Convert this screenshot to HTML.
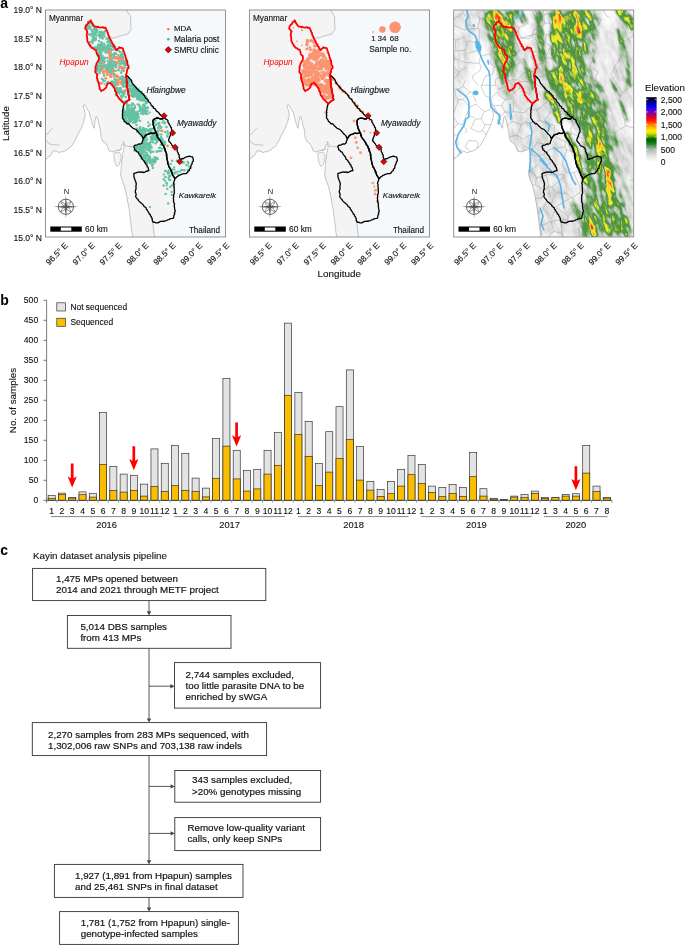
<!DOCTYPE html>
<html><head><meta charset="utf-8"><style>
html,body{margin:0;padding:0;background:#fff;width:685px;height:945px;overflow:hidden}
svg{display:block;font-family:"Liberation Sans",sans-serif;will-change:transform}
</style></head><body>
<svg width="685" height="945" viewBox="0 0 685 945">
<rect width="685" height="945" fill="#fff"/>
<text x="0.2" y="7.9" font-size="14" font-weight="bold" font-family="Liberation Sans, sans-serif">a</text>
<defs><clipPath id="mclip"><rect x="45.5" y="10" width="180" height="227"/></clipPath></defs>
<g id="m1" clip-path="url(#mclip)">
<g id="mbase"><rect x="45.5" y="10" width="180.5" height="227.5" fill="#f4f4f4"/>
<polygon points="126.8,10 226,10 226,237.5 154.3,237.5 153.7,230 152.9,222.1 156,222.9 159.2,222.1 164,221.3 168.7,219.7 173.5,218.1 175.1,211.7 174.3,205.4 173.5,197.5 174.3,191.1 173.5,183.2 175.1,178.4 176.7,176.8 179.8,175.2 183,173.7 186.2,173.7 189.4,170.5 191,165.7 193.3,161 192.5,157 189.4,156.2 184.6,157.8 179.8,159.4 178.3,153 176.7,148.3 171.9,145.1 168.7,140.3 170.3,135.6 171.9,130.8 170.3,126 167.1,119.7 164,117 160.8,114.9 156,110.2 151.3,105.4 148.1,100.6 143.3,94.3 137.8,89.5 132.2,83.2 130.8,79.6 127.1,75.8 126,75.3 127.1,71.1 128.7,66.9 127.1,61.6 125.5,57.3 123.9,51.5 122.9,48.3 119.2,47.3 116.5,50.4 114.9,47.8 111.7,41.5 108.6,35.6 110,38 114,38 120,36 128,34 131,29 130.5,16 127.5,11.5" fill="#f6f9fc"/>
<polygon points="45.5,159.5 51.2,154.6 53.3,150.5 58.9,152.6 65.8,150.5 71.4,146.3 74.1,142.2 76.9,136.6 79.7,131.1 81.8,126.9 83.8,121.4 85.2,115.8 84.5,110.3 83.1,105.4 84.5,104.6 86.6,107.5 89.4,113 90.8,118.6 92.8,125.5 94.2,128.3 94.9,122.7 95.6,117.2 97,116.5 98.4,122.7 100.5,131.1 101.2,138 103.3,142.2 106,143.5 108.1,147.7 109.5,151.2 113,151.9 117.1,150.5 120.6,149.1 122,144.9 123.4,143.5 124.1,147.7 122.7,153.3 122,158.8 121.3,168.5 120.5,175 122,180 124.5,186 126.5,195 128,203 129,208.6 130.8,222.6 132.6,237.5 45,237.5 45,159.5" fill="#ffffff"/>
<polygon points="113.7,153.3 116,152.5 119.5,152.2 121.3,156 120.5,161 119.2,164.3 117.1,166.8 115,163 114.2,158" fill="#f4f4f4" stroke="#8a8a8a" stroke-width="0.45"/>
<polyline points="45.5,159.5 46.39,158.95 47.31,158.37 48.09,157.65 48.47,156.68 49.84,156.09 50.63,155.07 51.2,154.6 51.71,153.42 52.28,152.59 52.48,151.36 53.3,150.5 54.29,151.17 55.7,151.14 56.84,151.54 57.85,151.96 58.9,152.6 59.59,152.52 60.7,151.83 62.15,151.92 62.72,151.68 63.85,151.21 64.64,151.06 65.8,150.5 66.71,150.18 67.64,149.18 68.12,148.5 68.79,147.84 69.68,147.56 70.3,147.01 71.4,146.3 71.98,145.16 72.94,144.24 73.31,143.21 74.1,142.2 74.69,141 75.32,140.05 75.65,139.61 75.68,138.64 76.35,137.58 76.9,136.6 77.07,135.41 77.64,135.04 78.12,134 79.02,133.2 79.14,131.93 79.7,131.1 80.24,130.22 80.51,129.15 81.45,128.17 81.8,126.9 81.92,126.07 82.35,124.6 83.07,123.85 83.3,122.75 83.8,121.4 84.11,120.17 84.25,118.97 84.39,117.83 85.03,117.22 85.2,115.8 84.86,114.43 85.21,113.62 84.72,112.34 84.7,111.6 84.5,110.3 84.19,109.27 83.67,108.59 83.38,107.36 83.58,106.16 83.1,105.4 84.5,104.6 85.34,105.84 85.98,106.71 86.6,107.5 86.83,108.38 87.32,109.54 87.88,110.22 88.77,111.38 89.22,112.06 89.4,113 89.67,114.26 89.95,115.11 90.18,116.15 90.45,117.77 90.8,118.6 91.36,119.66 91.37,120.47 91.41,121.42 92.11,122.76 92.15,123.7 92.68,124.63 92.8,125.5 93.37,126.59 93.65,127.49 94.2,128.3 94.21,127.17 94.64,126.17 94.5,125.21 94.85,123.87 94.9,122.7 94.75,121.63 95.03,120.6 95.3,119.59 95.55,118.48 95.6,117.2 97,116.5 97.14,117.62 97.61,118.76 97.61,119.81 98.16,120.75 98.45,121.94 98.4,122.7 98.67,123.77 98.72,125 99.45,125.84 99.56,127.03 99.85,127.75 100.14,129.05 100.34,130 100.5,131.1 100.69,132.41 100.82,133.53 100.57,134.35 100.93,135.79 100.91,136.96 101.2,138 101.8,138.78 102.23,139.94 102.51,140.93 103.3,142.2 104.54,142.66 106,143.5 106.34,144.27 107.03,145.53 107.64,146.7 108.1,147.7 108.41,149.11 108.73,149.98 109.5,151.2 110.53,151.38 111.6,151.87 113,151.9 113.95,151.27 115.12,150.96 116.1,150.75 117.1,150.5 118.32,150.31 119.62,149.52 120.6,149.1 121.14,148.14 121.22,146.79 121.71,145.99 122,144.9 123.4,143.5 123.85,144.83 123.82,145.51 124.16,146.35 124.1,147.7 123.58,148.86 123.61,149.72 123.34,151.29 122.91,152.14 122.7,153.3 122.4,154.27 122.7,155.43 122.56,156.85 122.2,157.56 122,158.8 122.21,159.88 121.79,160.85 122.06,162.03 121.56,163.1 121.38,164.26 121.5,165.14 121.62,166.54 121.09,167.44 121.3,168.5 121.03,169.84 121.2,170.51 120.76,171.54 121.06,172.71 120.7,173.9 120.5,175 120.89,176.06 121.25,176.77 121.56,177.88 121.72,178.9 122,180 122.29,181.02 122.81,181.92 123.4,183.05 123.39,183.85 124.06,185.25 124.5,186 124.95,187.03 124.65,188.17 125.12,189.05 125.51,190.08 125.6,191.25 125.76,191.94 126.27,192.82 126.16,194.2 126.5,195 126.43,196.2 126.99,196.96 126.93,198.17 127.5,198.79 127.42,200.03 127.62,200.9 127.6,202.05 128,203 128.39,203.86 128.24,205.43 128.78,206.46 128.52,207.61 129,208.6 129.42,209.9 129.38,210.33 129.59,211.43 129.6,212.87 129.77,213.38 129.65,214.85 129.69,215.67 129.98,216.4 130.23,217.33 130.05,218.53 130.16,219.33 130.59,220.75 130.9,221.38 130.8,222.6 130.88,223.48 131.1,224.58 131.42,225.5 131.01,226.69 131.19,227.65 131.52,228.81 131.67,229.63 131.62,230.58 131.73,231.69 132.01,232.31 131.96,233.45 132.38,234.33 132.49,235.61 132.23,236.61 132.6,237.5" fill="none" stroke="#8a8a8a" stroke-width="0.5"/>
<polyline points="108.6,35.6 109.48,36.99 110,38 110.99,37.86 111.7,38.1 112.98,38.16 114,38 114.92,37.83 115.86,37.51 117.14,36.95 118.02,36.78 118.82,36.37 120,36 121.18,35.61 122.18,35.61 123.21,35.15 123.76,35.18 125.18,34.72 125.76,34.32 127.08,34.12 128,34 128.87,33.05 129.02,32.09 129.72,31.26 130.65,30.01 131,29 131.05,28.12 131.11,27.29 130.6,25.92 130.91,24.88 130.86,23.75 131,23.02 130.5,22.1 130.58,20.82 130.64,19.78 130.44,19.22 130.7,17.71 130.71,16.71 130.5,16 129.8,15.34 129.37,14.08 128.63,13.23 127.88,12.7 127.5,11.5 126.8,10" fill="none" stroke="#8a8a8a" stroke-width="0.5"/>
<polyline points="152.9,222.1 152.91,223.02 153.22,224.1 153.26,225.41 153.09,226.62 153.19,227.7 153.33,228.63 153.7,230 153.74,231.2 153.65,231.83 154.03,233.27 154.09,233.94 154.41,234.73 154.43,235.87 154.3,237" fill="none" stroke="#8a8a8a" stroke-width="0.5"/>
<polyline points="45.5,135.2 46.54,134.56 47.5,134 48.21,132.99 49.02,132.53 49.5,131.5 50.59,130.3 51.5,129.5 52.8,128.3" fill="none" stroke="#8a8a8a" stroke-width="0.45"/>
<polyline points="45.8,140 46.5,141.04 47.52,141.98 48,143 49,143.55 49.81,144.01 51,144.5 52.08,144.75 52.76,144.53 53.75,144.91 55,144.8 56.24,144.63 57.54,145.28 58.47,145.17 59.5,145.2" fill="none" stroke="#8a8a8a" stroke-width="0.45"/>
<polyline points="122.7,143 123.3,141.5 124,143 124.48,144.09 125.1,144.79 125.5,146 126.46,146.07 128,146.3 128.86,146.55 130.11,146.49 131,146.5 132.03,146.93 132.79,147.13 134,147.5" fill="none" stroke="#8a8a8a" stroke-width="0.45"/>
<polyline points="117,150.5 117.86,150.44 119.11,150.38 120,150 120.81,149.59 122,149.5" fill="none" stroke="#8a8a8a" stroke-width="0.45"/></g>
<g fill="#66c2a5"><circle cx="107.3" cy="57.9" r="1.19"/><circle cx="114.2" cy="86.2" r="1.16"/><circle cx="89.5" cy="22.7" r="1.09"/><circle cx="122.4" cy="56.5" r="1.31"/><circle cx="105.1" cy="80.6" r="1.05"/><circle cx="104.7" cy="61.7" r="1.20"/><circle cx="95.6" cy="39.6" r="1.32"/><circle cx="122.5" cy="66.8" r="1.07"/><circle cx="117.3" cy="79.8" r="1.22"/><circle cx="122.2" cy="76.3" r="1.23"/><circle cx="98.8" cy="69.4" r="1.06"/><circle cx="124.5" cy="91.0" r="1.16"/><circle cx="107.7" cy="69.5" r="1.26"/><circle cx="120.7" cy="54.9" r="1.19"/><circle cx="116.5" cy="76.7" r="1.27"/><circle cx="101.9" cy="57.0" r="1.10"/><circle cx="108.4" cy="53.2" r="1.12"/><circle cx="102.8" cy="34.5" r="1.08"/><circle cx="119.5" cy="65.4" r="1.20"/><circle cx="111.0" cy="58.7" r="1.33"/><circle cx="97.3" cy="66.1" r="1.23"/><circle cx="120.1" cy="88.9" r="1.28"/><circle cx="124.6" cy="82.2" r="1.17"/><circle cx="121.2" cy="63.7" r="1.27"/><circle cx="110.2" cy="55.9" r="1.08"/><circle cx="107.7" cy="60.8" r="1.14"/><circle cx="101.1" cy="49.2" r="1.25"/><circle cx="109.2" cy="72.4" r="1.27"/><circle cx="112.5" cy="58.6" r="1.18"/><circle cx="123.5" cy="87.0" r="1.08"/><circle cx="120.7" cy="88.6" r="1.13"/><circle cx="92.8" cy="43.1" r="1.11"/><circle cx="116.9" cy="58.3" r="1.13"/><circle cx="99.6" cy="59.9" r="1.29"/><circle cx="104.0" cy="36.0" r="1.11"/><circle cx="107.9" cy="37.8" r="1.32"/><circle cx="115.4" cy="65.8" r="1.31"/><circle cx="120.7" cy="63.5" r="1.07"/><circle cx="102.8" cy="68.4" r="1.16"/><circle cx="99.6" cy="73.0" r="1.20"/><circle cx="128.3" cy="93.5" r="1.06"/><circle cx="118.3" cy="55.1" r="1.18"/><circle cx="121.7" cy="100.7" r="1.32"/><circle cx="123.8" cy="101.7" r="1.08"/><circle cx="116.6" cy="62.8" r="1.23"/><circle cx="102.1" cy="49.3" r="1.09"/><circle cx="104.5" cy="36.5" r="1.22"/><circle cx="98.4" cy="62.1" r="1.32"/><circle cx="94.2" cy="47.7" r="1.11"/><circle cx="100.4" cy="38.1" r="1.05"/><circle cx="124.5" cy="77.7" r="1.08"/><circle cx="89.1" cy="34.5" r="1.21"/><circle cx="119.0" cy="70.5" r="1.06"/><circle cx="122.6" cy="51.1" r="1.08"/><circle cx="100.4" cy="44.6" r="1.20"/><circle cx="123.8" cy="70.8" r="1.33"/><circle cx="127.7" cy="94.5" r="1.18"/><circle cx="89.9" cy="23.6" r="1.17"/><circle cx="120.3" cy="89.6" r="1.24"/><circle cx="100.4" cy="71.7" r="1.08"/><circle cx="120.0" cy="51.9" r="1.22"/><circle cx="88.9" cy="42.6" r="1.10"/><circle cx="124.9" cy="67.5" r="1.23"/><circle cx="90.4" cy="34.3" r="1.34"/><circle cx="111.8" cy="57.9" r="1.07"/><circle cx="125.9" cy="101.4" r="1.22"/><circle cx="115.9" cy="75.6" r="1.23"/><circle cx="96.8" cy="65.6" r="1.09"/><circle cx="98.9" cy="40.9" r="1.13"/><circle cx="114.2" cy="74.1" r="1.35"/><circle cx="98.9" cy="47.7" r="1.35"/><circle cx="100.1" cy="65.8" r="1.09"/><circle cx="111.0" cy="70.1" r="1.26"/><circle cx="121.0" cy="96.1" r="1.34"/><circle cx="122.6" cy="82.7" r="1.12"/><circle cx="104.5" cy="33.5" r="1.23"/><circle cx="117.0" cy="76.1" r="1.06"/><circle cx="109.7" cy="65.6" r="1.16"/><circle cx="123.1" cy="58.2" r="1.25"/><circle cx="102.9" cy="48.6" r="1.23"/><circle cx="114.0" cy="55.1" r="1.28"/><circle cx="101.1" cy="31.9" r="1.08"/><circle cx="90.9" cy="42.0" r="1.15"/><circle cx="122.1" cy="53.6" r="1.31"/><circle cx="103.1" cy="71.5" r="1.23"/><circle cx="108.8" cy="62.2" r="1.19"/><circle cx="114.1" cy="56.9" r="1.17"/><circle cx="115.8" cy="81.4" r="1.35"/><circle cx="106.6" cy="39.1" r="1.22"/><circle cx="103.6" cy="67.2" r="1.06"/><circle cx="125.6" cy="97.0" r="1.29"/><circle cx="97.5" cy="74.3" r="1.15"/><circle cx="87.4" cy="26.3" r="1.18"/><circle cx="116.0" cy="91.3" r="1.11"/><circle cx="101.8" cy="78.9" r="1.18"/><circle cx="118.0" cy="70.0" r="1.15"/><circle cx="123.3" cy="95.3" r="1.08"/><circle cx="127.9" cy="68.1" r="1.24"/><circle cx="93.1" cy="41.2" r="1.08"/><circle cx="115.6" cy="80.3" r="1.29"/><circle cx="100.8" cy="63.4" r="1.06"/><circle cx="121.2" cy="72.8" r="1.28"/><circle cx="119.7" cy="90.7" r="1.29"/><circle cx="114.6" cy="78.9" r="1.20"/><circle cx="120.9" cy="56.5" r="1.26"/><circle cx="92.6" cy="47.5" r="1.12"/><circle cx="112.0" cy="54.4" r="1.27"/><circle cx="90.5" cy="45.0" r="1.18"/><circle cx="113.2" cy="70.9" r="1.12"/><circle cx="97.9" cy="65.6" r="1.34"/><circle cx="97.4" cy="69.3" r="1.17"/><circle cx="120.4" cy="87.9" r="1.16"/><circle cx="119.4" cy="68.0" r="1.31"/><circle cx="102.3" cy="44.0" r="1.16"/><circle cx="110.7" cy="46.3" r="1.25"/><circle cx="107.6" cy="50.1" r="1.10"/><circle cx="104.9" cy="57.9" r="1.30"/><circle cx="98.8" cy="53.7" r="1.13"/><circle cx="120.1" cy="77.4" r="1.07"/><circle cx="107.2" cy="74.4" r="1.34"/><circle cx="102.1" cy="37.3" r="1.10"/><circle cx="122.1" cy="63.0" r="1.33"/><circle cx="122.4" cy="54.5" r="1.35"/><circle cx="98.9" cy="34.5" r="1.23"/><circle cx="112.8" cy="64.7" r="1.05"/><circle cx="102.6" cy="55.9" r="1.07"/><circle cx="111.2" cy="81.6" r="1.11"/><circle cx="125.2" cy="82.9" r="1.17"/><circle cx="107.2" cy="82.6" r="1.23"/><circle cx="113.7" cy="74.5" r="1.34"/><circle cx="113.3" cy="54.3" r="1.16"/><circle cx="113.2" cy="73.3" r="1.09"/><circle cx="126.9" cy="85.7" r="1.22"/><circle cx="122.9" cy="84.5" r="1.09"/><circle cx="121.5" cy="70.9" r="1.08"/><circle cx="100.8" cy="42.4" r="1.22"/><circle cx="116.7" cy="93.4" r="1.26"/><circle cx="122.3" cy="60.8" r="1.07"/><circle cx="108.0" cy="82.6" r="1.19"/><circle cx="104.1" cy="50.0" r="1.26"/><circle cx="116.0" cy="53.9" r="1.28"/><circle cx="115.9" cy="70.9" r="1.16"/><circle cx="94.6" cy="37.7" r="1.32"/><circle cx="108.5" cy="51.1" r="1.10"/><circle cx="108.0" cy="81.9" r="1.26"/><circle cx="117.0" cy="88.4" r="1.28"/><circle cx="97.3" cy="71.3" r="1.31"/><circle cx="116.7" cy="90.8" r="1.20"/><circle cx="112.9" cy="46.8" r="1.08"/><circle cx="104.5" cy="84.0" r="1.06"/><circle cx="125.8" cy="81.2" r="1.21"/><circle cx="101.3" cy="83.1" r="1.10"/><circle cx="116.6" cy="88.4" r="1.24"/><circle cx="107.3" cy="51.9" r="1.08"/><circle cx="92.8" cy="39.7" r="1.28"/><circle cx="121.7" cy="59.0" r="1.12"/><circle cx="120.7" cy="92.0" r="1.05"/><circle cx="99.5" cy="52.3" r="1.10"/><circle cx="122.6" cy="96.0" r="1.19"/><circle cx="86.9" cy="25.4" r="1.22"/><circle cx="97.4" cy="30.1" r="1.17"/><circle cx="89.3" cy="22.6" r="1.10"/><circle cx="113.6" cy="82.5" r="1.19"/><circle cx="115.8" cy="91.0" r="1.33"/><circle cx="114.7" cy="52.9" r="1.21"/><circle cx="111.5" cy="49.5" r="1.33"/><circle cx="112.2" cy="67.1" r="1.06"/><circle cx="101.0" cy="54.8" r="1.35"/><circle cx="104.1" cy="75.7" r="1.32"/><circle cx="117.0" cy="82.4" r="1.21"/><circle cx="117.3" cy="83.2" r="1.21"/><circle cx="123.2" cy="91.5" r="1.21"/><circle cx="87.6" cy="27.9" r="1.32"/><circle cx="121.4" cy="59.5" r="1.07"/><circle cx="105.0" cy="31.0" r="1.24"/><circle cx="102.8" cy="79.5" r="1.21"/><circle cx="121.1" cy="91.8" r="1.14"/><circle cx="98.8" cy="55.8" r="1.27"/><circle cx="96.2" cy="66.9" r="1.27"/><circle cx="100.0" cy="48.6" r="1.08"/><circle cx="114.3" cy="57.8" r="1.26"/><circle cx="122.4" cy="78.9" r="1.19"/><circle cx="100.6" cy="68.4" r="1.20"/><circle cx="114.2" cy="46.5" r="1.24"/><circle cx="98.5" cy="49.8" r="1.07"/><circle cx="99.7" cy="82.9" r="1.23"/><circle cx="107.5" cy="64.3" r="1.16"/><circle cx="99.8" cy="47.7" r="1.31"/><circle cx="126.5" cy="101.4" r="1.12"/><circle cx="121.5" cy="97.7" r="1.30"/><circle cx="126.2" cy="87.3" r="1.27"/><circle cx="120.1" cy="79.1" r="1.24"/><circle cx="118.5" cy="50.5" r="1.31"/><circle cx="103.2" cy="59.1" r="1.06"/><circle cx="92.8" cy="32.7" r="1.23"/><circle cx="115.8" cy="67.3" r="1.23"/><circle cx="103.6" cy="81.2" r="1.25"/><circle cx="87.5" cy="28.6" r="1.17"/><circle cx="109.5" cy="42.5" r="1.07"/><circle cx="90.0" cy="42.2" r="1.11"/><circle cx="102.7" cy="38.4" r="1.23"/><circle cx="103.7" cy="33.8" r="1.10"/><circle cx="100.6" cy="33.5" r="1.07"/><circle cx="101.8" cy="36.9" r="1.16"/><circle cx="100.8" cy="33.4" r="1.19"/><circle cx="102.4" cy="34.8" r="1.21"/><circle cx="101.8" cy="36.0" r="1.06"/><circle cx="101.7" cy="32.8" r="1.28"/><circle cx="99.4" cy="35.4" r="1.15"/><circle cx="99.9" cy="33.2" r="1.28"/><circle cx="102.1" cy="37.3" r="1.05"/><circle cx="101.0" cy="36.1" r="1.34"/><circle cx="102.8" cy="32.3" r="1.23"/><circle cx="99.7" cy="32.0" r="1.34"/><circle cx="99.6" cy="36.4" r="1.35"/><circle cx="99.4" cy="36.1" r="1.30"/><circle cx="120.0" cy="91.5" r="1.08"/><circle cx="115.2" cy="90.9" r="1.15"/><circle cx="120.6" cy="91.9" r="1.12"/><circle cx="120.3" cy="91.6" r="1.28"/><circle cx="117.8" cy="92.0" r="1.11"/><circle cx="117.8" cy="92.3" r="1.12"/><circle cx="119.3" cy="94.0" r="1.08"/><circle cx="117.1" cy="89.1" r="1.09"/><circle cx="115.9" cy="89.3" r="1.33"/><circle cx="116.1" cy="94.8" r="1.34"/><circle cx="116.3" cy="88.5" r="1.16"/><circle cx="118.5" cy="91.5" r="1.27"/><circle cx="119.6" cy="91.9" r="1.19"/><circle cx="120.8" cy="90.2" r="1.21"/><circle cx="118.1" cy="90.3" r="1.16"/><circle cx="116.5" cy="88.2" r="1.24"/><circle cx="118.7" cy="88.3" r="1.12"/><circle cx="96.1" cy="32.3" r="1.13"/><circle cx="94.9" cy="27.5" r="1.21"/><circle cx="92.6" cy="31.0" r="1.11"/><circle cx="96.8" cy="32.2" r="1.18"/><circle cx="96.3" cy="29.0" r="1.33"/><circle cx="96.9" cy="30.9" r="1.06"/><circle cx="94.4" cy="28.6" r="1.08"/><circle cx="96.4" cy="30.6" r="1.29"/><circle cx="95.4" cy="29.4" r="1.07"/><circle cx="113.0" cy="65.7" r="1.13"/><circle cx="116.3" cy="66.5" r="1.31"/><circle cx="115.0" cy="62.3" r="1.23"/><circle cx="115.9" cy="65.7" r="1.12"/><circle cx="113.3" cy="63.4" r="1.07"/><circle cx="110.3" cy="60.7" r="1.13"/><circle cx="109.8" cy="64.6" r="1.14"/><circle cx="113.7" cy="61.7" r="1.29"/><circle cx="112.4" cy="67.3" r="1.34"/><circle cx="109.9" cy="62.7" r="1.29"/><circle cx="110.8" cy="67.4" r="1.32"/><circle cx="112.1" cy="67.2" r="1.33"/><circle cx="115.1" cy="62.0" r="1.31"/><circle cx="114.9" cy="64.4" r="1.33"/><circle cx="114.5" cy="64.4" r="1.34"/><circle cx="114.8" cy="65.5" r="1.08"/><circle cx="111.0" cy="65.9" r="1.15"/><circle cx="111.1" cy="60.6" r="1.12"/><circle cx="112.0" cy="61.3" r="1.23"/><circle cx="111.3" cy="61.0" r="1.20"/><circle cx="115.2" cy="66.1" r="1.15"/><circle cx="111.5" cy="67.0" r="1.30"/><circle cx="112.8" cy="61.6" r="1.17"/><circle cx="110.3" cy="64.9" r="1.11"/><circle cx="99.6" cy="46.5" r="1.13"/><circle cx="101.6" cy="46.2" r="1.19"/><circle cx="96.6" cy="47.3" r="1.23"/><circle cx="98.6" cy="49.0" r="1.22"/><circle cx="101.5" cy="45.5" r="1.18"/><circle cx="95.9" cy="47.0" r="1.11"/><circle cx="99.6" cy="46.0" r="1.17"/><circle cx="97.2" cy="47.5" r="1.15"/><circle cx="98.6" cy="48.8" r="1.10"/><circle cx="100.6" cy="48.5" r="1.21"/><circle cx="99.4" cy="45.8" r="1.11"/><circle cx="98.4" cy="44.9" r="1.26"/><circle cx="93.0" cy="33.5" r="1.25"/><circle cx="95.0" cy="34.9" r="1.09"/><circle cx="94.1" cy="35.6" r="1.24"/><circle cx="93.8" cy="34.6" r="1.15"/><circle cx="94.1" cy="38.9" r="1.18"/><circle cx="95.0" cy="40.3" r="1.23"/><circle cx="95.8" cy="38.1" r="1.28"/><circle cx="94.9" cy="38.4" r="1.32"/><circle cx="94.0" cy="34.2" r="1.27"/><circle cx="92.5" cy="33.9" r="1.11"/><circle cx="93.6" cy="37.3" r="1.21"/><circle cx="95.3" cy="39.5" r="1.15"/><circle cx="93.5" cy="33.5" r="1.06"/><circle cx="92.5" cy="36.9" r="1.22"/><circle cx="91.3" cy="35.0" r="1.19"/><circle cx="92.5" cy="40.2" r="1.31"/><circle cx="96.7" cy="35.4" r="1.15"/><circle cx="110.5" cy="69.2" r="1.30"/><circle cx="112.4" cy="69.1" r="1.20"/><circle cx="108.9" cy="65.0" r="1.08"/><circle cx="107.0" cy="66.3" r="1.27"/><circle cx="108.7" cy="69.1" r="1.14"/><circle cx="111.5" cy="69.0" r="1.21"/><circle cx="106.4" cy="67.7" r="1.07"/><circle cx="109.3" cy="70.0" r="1.05"/><circle cx="109.4" cy="66.2" r="1.33"/><circle cx="108.5" cy="67.9" r="1.06"/><circle cx="111.8" cy="65.7" r="1.09"/><circle cx="109.9" cy="65.0" r="1.10"/><circle cx="109.4" cy="68.9" r="1.08"/><circle cx="108.6" cy="71.4" r="1.30"/><circle cx="108.2" cy="68.7" r="1.35"/><circle cx="106.3" cy="69.2" r="1.24"/><circle cx="107.7" cy="66.4" r="1.17"/><circle cx="105.5" cy="65.2" r="1.32"/><circle cx="106.3" cy="69.9" r="1.20"/><circle cx="105.7" cy="69.6" r="1.09"/><circle cx="108.0" cy="68.2" r="1.26"/><circle cx="106.9" cy="69.2" r="1.16"/><circle cx="104.2" cy="65.7" r="1.13"/><circle cx="104.7" cy="66.1" r="1.15"/><circle cx="102.9" cy="57.5" r="1.17"/><circle cx="103.7" cy="58.2" r="1.10"/><circle cx="103.1" cy="59.9" r="1.23"/><circle cx="102.7" cy="60.5" r="1.31"/><circle cx="103.8" cy="59.8" r="1.22"/><circle cx="100.9" cy="59.0" r="1.05"/><circle cx="101.4" cy="58.7" r="1.26"/><circle cx="103.7" cy="58.4" r="1.06"/><circle cx="101.5" cy="57.8" r="1.19"/><circle cx="98.5" cy="55.3" r="1.31"/><circle cx="99.6" cy="56.6" r="1.25"/><circle cx="103.4" cy="58.1" r="1.32"/><circle cx="99.1" cy="56.7" r="1.28"/><circle cx="102.3" cy="57.4" r="1.13"/><circle cx="100.5" cy="58.0" r="1.09"/><circle cx="103.3" cy="58.9" r="1.19"/><circle cx="91.6" cy="29.7" r="1.25"/><circle cx="95.2" cy="33.7" r="1.12"/><circle cx="93.3" cy="32.5" r="1.15"/><circle cx="92.5" cy="31.7" r="1.27"/><circle cx="95.4" cy="33.0" r="1.15"/><circle cx="95.1" cy="32.7" r="1.23"/><circle cx="94.8" cy="30.0" r="1.21"/><circle cx="94.4" cy="28.8" r="1.33"/><circle cx="93.7" cy="32.1" r="1.06"/><circle cx="93.9" cy="28.6" r="1.11"/><circle cx="94.8" cy="29.3" r="1.28"/><circle cx="104.5" cy="45.1" r="1.25"/><circle cx="101.8" cy="42.6" r="1.08"/><circle cx="104.4" cy="47.0" r="1.09"/><circle cx="101.2" cy="45.7" r="1.11"/><circle cx="101.4" cy="48.9" r="1.21"/><circle cx="98.9" cy="45.5" r="1.32"/><circle cx="100.9" cy="48.5" r="1.11"/><circle cx="104.1" cy="43.5" r="1.11"/><circle cx="98.7" cy="45.0" r="1.26"/><circle cx="102.7" cy="46.6" r="1.18"/><circle cx="98.6" cy="44.8" r="1.30"/><circle cx="102.5" cy="46.9" r="1.35"/><circle cx="99.6" cy="45.9" r="1.33"/><circle cx="102.4" cy="47.0" r="1.26"/><circle cx="98.8" cy="47.4" r="1.20"/><circle cx="109.5" cy="42.3" r="1.07"/><circle cx="109.2" cy="45.4" r="1.29"/><circle cx="110.8" cy="43.1" r="1.17"/><circle cx="110.0" cy="44.2" r="1.19"/><circle cx="110.1" cy="42.3" r="1.24"/><circle cx="108.7" cy="40.4" r="1.34"/><circle cx="109.3" cy="45.7" r="1.22"/><circle cx="108.1" cy="45.3" r="1.33"/><circle cx="107.7" cy="42.2" r="1.34"/><circle cx="111.0" cy="41.5" r="1.08"/><circle cx="97.4" cy="52.9" r="1.16"/><circle cx="98.3" cy="56.6" r="1.32"/><circle cx="100.2" cy="53.5" r="1.28"/><circle cx="101.2" cy="52.4" r="1.34"/><circle cx="100.0" cy="53.8" r="1.11"/><circle cx="100.0" cy="52.6" r="1.21"/><circle cx="99.2" cy="54.7" r="1.33"/><circle cx="101.0" cy="51.6" r="1.21"/><circle cx="100.2" cy="53.8" r="1.25"/><circle cx="119.6" cy="58.1" r="1.34"/><circle cx="123.0" cy="58.1" r="1.10"/><circle cx="119.4" cy="57.6" r="1.07"/><circle cx="121.8" cy="61.6" r="1.31"/><circle cx="122.7" cy="57.2" r="1.22"/><circle cx="121.3" cy="57.9" r="1.11"/><circle cx="122.7" cy="59.6" r="1.30"/><circle cx="120.8" cy="57.9" r="1.14"/><circle cx="122.8" cy="57.2" r="1.09"/><circle cx="105.0" cy="49.3" r="1.14"/><circle cx="107.1" cy="47.7" r="1.06"/><circle cx="103.1" cy="49.3" r="1.17"/><circle cx="105.3" cy="47.7" r="1.28"/><circle cx="108.1" cy="47.6" r="1.19"/><circle cx="104.3" cy="50.4" r="1.34"/><circle cx="106.3" cy="48.4" r="1.06"/><circle cx="104.8" cy="47.1" r="1.10"/><circle cx="107.3" cy="46.9" r="1.09"/><circle cx="103.1" cy="47.5" r="1.22"/><circle cx="109.8" cy="50.4" r="1.11"/><circle cx="104.4" cy="49.6" r="1.25"/><circle cx="106.2" cy="51.0" r="1.21"/><circle cx="107.5" cy="47.7" r="1.22"/><circle cx="109.2" cy="48.5" r="1.30"/><circle cx="105.8" cy="52.5" r="1.29"/><circle cx="103.3" cy="47.4" r="1.33"/><circle cx="108.5" cy="51.7" r="1.10"/><circle cx="108.2" cy="49.5" r="1.16"/><circle cx="125.8" cy="64.2" r="1.34"/><circle cx="123.9" cy="61.4" r="1.17"/><circle cx="124.5" cy="63.8" r="1.14"/><circle cx="126.8" cy="61.0" r="1.19"/><circle cx="127.0" cy="62.6" r="1.10"/><circle cx="124.4" cy="64.8" r="1.30"/><circle cx="126.7" cy="64.5" r="1.24"/><circle cx="128.1" cy="65.5" r="1.08"/><circle cx="127.2" cy="61.9" r="1.34"/><circle cx="125.3" cy="62.3" r="1.21"/><circle cx="125.8" cy="60.3" r="1.13"/><circle cx="125.9" cy="65.1" r="1.23"/><circle cx="110.3" cy="63.4" r="1.33"/><circle cx="111.5" cy="61.2" r="1.15"/><circle cx="110.4" cy="61.2" r="1.05"/><circle cx="109.0" cy="63.7" r="1.11"/><circle cx="110.6" cy="64.7" r="1.07"/><circle cx="110.8" cy="62.0" r="1.21"/><circle cx="110.9" cy="63.1" r="1.14"/><circle cx="109.9" cy="62.8" r="1.31"/><circle cx="99.8" cy="53.3" r="1.11"/><circle cx="97.8" cy="54.1" r="1.05"/><circle cx="99.8" cy="47.9" r="1.19"/><circle cx="99.7" cy="49.5" r="1.09"/><circle cx="101.8" cy="50.7" r="1.14"/><circle cx="100.1" cy="53.7" r="1.12"/><circle cx="97.3" cy="48.5" r="1.10"/><circle cx="97.9" cy="49.3" r="1.24"/><circle cx="99.9" cy="48.5" r="1.33"/><circle cx="99.8" cy="54.3" r="1.16"/><circle cx="98.3" cy="50.3" r="1.24"/><circle cx="99.8" cy="51.4" r="1.15"/><circle cx="96.8" cy="48.5" r="1.32"/><circle cx="101.4" cy="49.7" r="1.22"/><circle cx="112.1" cy="57.2" r="1.06"/><circle cx="110.3" cy="57.6" r="1.27"/><circle cx="109.9" cy="58.2" r="1.11"/><circle cx="109.8" cy="54.7" r="1.06"/><circle cx="113.5" cy="54.5" r="1.06"/><circle cx="110.0" cy="56.3" r="1.30"/><circle cx="109.9" cy="56.0" r="1.26"/><circle cx="110.5" cy="54.1" r="1.16"/><circle cx="111.1" cy="55.1" r="1.22"/><circle cx="110.0" cy="55.6" r="1.26"/><circle cx="122.7" cy="62.7" r="1.07"/><circle cx="123.4" cy="60.8" r="1.26"/><circle cx="123.8" cy="62.5" r="1.26"/><circle cx="121.0" cy="59.5" r="1.33"/><circle cx="122.8" cy="61.7" r="1.07"/><circle cx="120.3" cy="63.2" r="1.22"/><circle cx="122.9" cy="63.1" r="1.20"/><circle cx="119.6" cy="60.2" r="1.30"/><circle cx="119.2" cy="61.7" r="1.16"/><circle cx="107.4" cy="67.0" r="1.25"/><circle cx="107.7" cy="67.3" r="1.32"/><circle cx="106.3" cy="70.7" r="1.15"/><circle cx="108.6" cy="70.0" r="1.20"/><circle cx="107.9" cy="67.2" r="1.32"/><circle cx="104.3" cy="67.8" r="1.06"/><circle cx="106.8" cy="68.5" r="1.34"/><circle cx="108.6" cy="70.3" r="1.14"/><circle cx="108.5" cy="68.8" r="1.19"/><circle cx="113.0" cy="85.3" r="1.14"/><circle cx="113.5" cy="83.6" r="1.29"/><circle cx="112.6" cy="81.5" r="1.21"/><circle cx="115.1" cy="86.0" r="1.27"/><circle cx="113.6" cy="82.3" r="1.08"/><circle cx="114.5" cy="86.2" r="1.31"/><circle cx="115.2" cy="83.7" r="1.30"/><circle cx="115.0" cy="86.8" r="1.25"/><circle cx="111.8" cy="82.1" r="1.12"/><circle cx="113.9" cy="82.9" r="1.13"/><circle cx="113.6" cy="82.9" r="1.19"/><circle cx="112.0" cy="84.1" r="1.07"/><circle cx="89.0" cy="26.8" r="1.34"/><circle cx="87.4" cy="26.1" r="1.17"/><circle cx="90.1" cy="27.8" r="1.34"/><circle cx="92.4" cy="23.7" r="1.10"/><circle cx="90.0" cy="26.6" r="1.24"/><circle cx="87.1" cy="26.5" r="1.29"/><circle cx="88.4" cy="22.6" r="1.24"/><circle cx="85.9" cy="25.2" r="1.18"/><circle cx="92.3" cy="24.3" r="1.06"/><circle cx="89.3" cy="28.1" r="1.18"/><circle cx="92.6" cy="25.8" r="1.17"/><circle cx="88.3" cy="21.9" r="1.33"/><circle cx="86.8" cy="26.4" r="1.34"/><circle cx="89.3" cy="28.4" r="1.34"/><circle cx="123.8" cy="79.9" r="1.34"/><circle cx="121.3" cy="78.0" r="1.10"/><circle cx="123.2" cy="77.6" r="1.06"/><circle cx="122.9" cy="77.1" r="1.14"/><circle cx="123.2" cy="80.2" r="1.05"/><circle cx="122.1" cy="80.8" r="1.09"/><circle cx="120.0" cy="79.0" r="1.22"/><circle cx="123.2" cy="81.7" r="1.11"/><circle cx="122.3" cy="80.2" r="1.23"/><circle cx="122.2" cy="81.3" r="1.16"/><circle cx="111.9" cy="46.5" r="1.13"/><circle cx="108.3" cy="46.8" r="1.34"/><circle cx="109.9" cy="45.6" r="1.11"/><circle cx="112.9" cy="46.1" r="1.31"/><circle cx="108.8" cy="45.5" r="1.21"/><circle cx="107.6" cy="45.3" r="1.25"/><circle cx="109.3" cy="45.2" r="1.09"/><circle cx="112.5" cy="46.2" r="1.27"/><circle cx="114.0" cy="45.9" r="1.32"/><circle cx="111.1" cy="50.5" r="1.11"/><circle cx="112.8" cy="44.6" r="1.19"/><circle cx="111.4" cy="45.6" r="1.25"/><circle cx="110.5" cy="49.3" r="1.19"/><circle cx="113.2" cy="45.9" r="1.28"/><circle cx="113.9" cy="46.5" r="1.24"/><circle cx="110.3" cy="43.3" r="1.14"/><circle cx="113.5" cy="49.4" r="1.25"/><circle cx="109.8" cy="45.9" r="1.28"/><circle cx="102.2" cy="60.0" r="1.19"/><circle cx="103.9" cy="60.8" r="1.23"/><circle cx="99.9" cy="61.4" r="1.24"/><circle cx="101.8" cy="59.2" r="1.19"/><circle cx="100.9" cy="63.9" r="1.08"/><circle cx="102.0" cy="62.4" r="1.17"/><circle cx="103.2" cy="62.6" r="1.28"/><circle cx="99.7" cy="60.2" r="1.27"/><circle cx="101.6" cy="59.2" r="1.07"/><circle cx="126.1" cy="83.0" r="1.19"/><circle cx="123.5" cy="85.9" r="1.23"/><circle cx="127.1" cy="84.3" r="1.21"/><circle cx="126.7" cy="85.0" r="1.09"/><circle cx="122.8" cy="83.3" r="1.24"/><circle cx="125.9" cy="85.6" r="1.26"/><circle cx="126.1" cy="86.2" r="1.21"/><circle cx="123.7" cy="85.4" r="1.33"/><circle cx="122.4" cy="84.2" r="1.22"/><circle cx="123.1" cy="82.6" r="1.05"/><circle cx="122.7" cy="86.0" r="1.14"/><circle cx="124.2" cy="93.7" r="1.26"/><circle cx="121.9" cy="93.5" r="1.07"/><circle cx="123.5" cy="93.5" r="1.34"/><circle cx="123.6" cy="92.6" r="1.26"/><circle cx="121.6" cy="91.3" r="1.28"/><circle cx="123.4" cy="95.4" r="1.10"/><circle cx="124.8" cy="92.1" r="1.05"/><circle cx="123.9" cy="93.0" r="1.31"/><circle cx="121.3" cy="92.2" r="1.20"/><circle cx="112.5" cy="67.6" r="1.18"/><circle cx="112.1" cy="68.6" r="1.21"/><circle cx="109.6" cy="67.6" r="1.28"/><circle cx="110.3" cy="70.1" r="1.16"/><circle cx="111.6" cy="73.3" r="1.28"/><circle cx="111.9" cy="71.6" r="1.10"/><circle cx="113.3" cy="70.2" r="1.34"/><circle cx="114.0" cy="70.4" r="1.26"/><circle cx="111.3" cy="68.4" r="1.15"/><circle cx="110.9" cy="71.5" r="1.19"/><circle cx="111.3" cy="73.0" r="1.31"/><circle cx="109.8" cy="69.8" r="1.15"/><circle cx="108.8" cy="71.2" r="1.26"/><circle cx="112.2" cy="69.3" r="1.32"/><circle cx="112.3" cy="68.2" r="1.34"/><circle cx="98.5" cy="69.4" r="1.13"/><circle cx="96.7" cy="67.4" r="1.29"/><circle cx="97.1" cy="66.8" r="1.23"/><circle cx="102.2" cy="68.3" r="1.29"/><circle cx="98.6" cy="67.3" r="1.07"/><circle cx="96.3" cy="70.1" r="1.17"/><circle cx="97.2" cy="65.4" r="1.19"/><circle cx="103.2" cy="66.1" r="1.29"/><circle cx="101.0" cy="67.6" r="1.19"/><circle cx="97.0" cy="65.6" r="1.06"/><circle cx="99.9" cy="71.0" r="1.11"/><circle cx="101.5" cy="65.5" r="1.30"/><circle cx="102.2" cy="66.5" r="1.31"/><circle cx="96.8" cy="64.9" r="1.22"/><circle cx="100.1" cy="63.2" r="1.07"/><circle cx="95.9" cy="67.2" r="1.28"/><circle cx="100.0" cy="63.3" r="1.31"/><circle cx="98.0" cy="65.7" r="1.14"/><circle cx="100.8" cy="69.1" r="1.19"/><circle cx="101.5" cy="67.9" r="1.14"/><circle cx="98.0" cy="68.4" r="1.07"/><circle cx="101.1" cy="70.0" r="1.27"/><circle cx="100.5" cy="65.9" r="1.10"/><circle cx="150.1" cy="130.7" r="1.08"/><circle cx="150.5" cy="129.0" r="1.32"/><circle cx="149.1" cy="133.5" r="1.08"/><circle cx="150.5" cy="131.4" r="1.28"/><circle cx="148.5" cy="131.2" r="1.29"/><circle cx="147.9" cy="131.3" r="1.13"/><circle cx="151.0" cy="129.5" r="1.16"/><circle cx="151.4" cy="132.9" r="1.12"/><circle cx="152.3" cy="129.0" r="1.26"/><circle cx="149.4" cy="130.2" r="1.34"/><circle cx="149.5" cy="131.7" r="1.27"/><circle cx="149.9" cy="131.4" r="1.20"/><circle cx="149.2" cy="129.7" r="1.21"/><circle cx="150.3" cy="130.1" r="1.17"/><circle cx="152.9" cy="132.8" r="1.26"/><circle cx="150.2" cy="129.4" r="1.13"/><circle cx="131.3" cy="119.5" r="1.12"/><circle cx="136.5" cy="116.8" r="1.26"/><circle cx="135.7" cy="122.2" r="1.13"/><circle cx="132.0" cy="115.3" r="1.35"/><circle cx="131.1" cy="116.7" r="1.27"/><circle cx="132.0" cy="113.4" r="1.11"/><circle cx="136.6" cy="114.0" r="1.06"/><circle cx="129.2" cy="119.0" r="1.23"/><circle cx="130.4" cy="119.5" r="1.09"/><circle cx="137.7" cy="114.6" r="1.20"/><circle cx="130.8" cy="121.1" r="1.23"/><circle cx="130.2" cy="114.8" r="1.29"/><circle cx="131.6" cy="115.1" r="1.17"/><circle cx="138.6" cy="117.3" r="1.21"/><circle cx="130.2" cy="121.3" r="1.29"/><circle cx="136.7" cy="117.2" r="1.09"/><circle cx="139.2" cy="120.3" r="1.15"/><circle cx="137.1" cy="115.7" r="1.29"/><circle cx="134.4" cy="122.7" r="1.16"/><circle cx="137.0" cy="117.1" r="1.33"/><circle cx="130.2" cy="119.5" r="1.08"/><circle cx="135.2" cy="121.6" r="1.08"/><circle cx="137.0" cy="121.1" r="1.16"/><circle cx="134.8" cy="119.6" r="1.19"/><circle cx="132.9" cy="119.4" r="1.16"/><circle cx="136.2" cy="119.5" r="1.12"/><circle cx="131.8" cy="119.6" r="1.18"/><circle cx="134.1" cy="114.4" r="1.32"/><circle cx="134.7" cy="120.4" r="1.33"/><circle cx="133.1" cy="122.6" r="1.24"/><circle cx="135.7" cy="121.7" r="1.13"/><circle cx="136.3" cy="113.2" r="1.22"/><circle cx="129.5" cy="119.2" r="1.10"/><circle cx="132.9" cy="115.9" r="1.07"/><circle cx="136.5" cy="119.3" r="1.29"/><circle cx="135.4" cy="114.6" r="1.13"/><circle cx="137.4" cy="113.3" r="1.10"/><circle cx="137.9" cy="116.1" r="1.30"/><circle cx="137.5" cy="118.2" r="1.09"/><circle cx="135.4" cy="122.5" r="1.12"/><circle cx="133.0" cy="112.9" r="1.10"/><circle cx="137.3" cy="113.7" r="1.32"/><circle cx="128.2" cy="115.6" r="1.25"/><circle cx="132.4" cy="119.6" r="1.10"/><circle cx="132.4" cy="109.7" r="1.07"/><circle cx="135.3" cy="115.7" r="1.32"/><circle cx="135.1" cy="114.1" r="1.09"/><circle cx="129.0" cy="116.1" r="1.26"/><circle cx="128.0" cy="115.4" r="1.26"/><circle cx="136.2" cy="113.9" r="1.23"/><circle cx="136.6" cy="118.7" r="1.19"/><circle cx="130.5" cy="115.6" r="1.17"/><circle cx="133.4" cy="115.2" r="1.13"/><circle cx="130.6" cy="113.3" r="1.24"/><circle cx="128.2" cy="113.0" r="1.10"/><circle cx="127.8" cy="115.3" r="1.19"/><circle cx="137.4" cy="116.7" r="1.13"/><circle cx="133.2" cy="109.4" r="1.16"/><circle cx="136.9" cy="115.5" r="1.32"/><circle cx="129.1" cy="113.3" r="1.22"/><circle cx="130.3" cy="115.3" r="1.24"/><circle cx="137.3" cy="111.8" r="1.24"/><circle cx="131.5" cy="109.7" r="1.05"/><circle cx="131.6" cy="114.3" r="1.28"/><circle cx="132.5" cy="113.1" r="1.31"/><circle cx="133.1" cy="110.4" r="1.27"/><circle cx="133.7" cy="116.8" r="1.21"/><circle cx="135.2" cy="115.7" r="1.30"/><circle cx="135.7" cy="114.4" r="1.33"/><circle cx="134.6" cy="113.5" r="1.13"/><circle cx="131.1" cy="118.0" r="1.10"/><circle cx="129.7" cy="119.0" r="1.15"/><circle cx="133.3" cy="118.6" r="1.06"/><circle cx="133.6" cy="116.5" r="1.12"/><circle cx="131.9" cy="111.8" r="1.07"/><circle cx="128.6" cy="115.2" r="1.05"/><circle cx="134.2" cy="115.5" r="1.17"/><circle cx="131.0" cy="109.8" r="1.05"/><circle cx="136.7" cy="115.2" r="1.19"/><circle cx="138.1" cy="114.6" r="1.31"/><circle cx="135.5" cy="93.1" r="1.26"/><circle cx="137.7" cy="95.9" r="1.07"/><circle cx="137.5" cy="98.3" r="1.27"/><circle cx="139.2" cy="99.5" r="1.11"/><circle cx="141.3" cy="96.1" r="1.29"/><circle cx="142.0" cy="95.2" r="1.24"/><circle cx="143.1" cy="97.0" r="1.21"/><circle cx="136.0" cy="96.6" r="1.18"/><circle cx="139.4" cy="92.9" r="1.34"/><circle cx="137.0" cy="97.7" r="1.11"/><circle cx="138.6" cy="95.6" r="1.32"/><circle cx="140.7" cy="96.0" r="1.11"/><circle cx="137.4" cy="97.4" r="1.08"/><circle cx="145.6" cy="96.5" r="1.11"/><circle cx="137.7" cy="98.7" r="1.06"/><circle cx="140.7" cy="97.8" r="1.30"/><circle cx="138.1" cy="90.2" r="1.11"/><circle cx="143.2" cy="98.0" r="1.22"/><circle cx="140.7" cy="99.2" r="1.13"/><circle cx="141.9" cy="93.0" r="1.16"/><circle cx="137.8" cy="94.3" r="1.29"/><circle cx="138.8" cy="98.5" r="1.21"/><circle cx="138.0" cy="93.2" r="1.13"/><circle cx="140.4" cy="99.3" r="1.27"/><circle cx="140.1" cy="96.3" r="1.09"/><circle cx="139.1" cy="97.3" r="1.06"/><circle cx="146.0" cy="97.2" r="1.26"/><circle cx="138.5" cy="99.1" r="1.31"/><circle cx="142.0" cy="99.8" r="1.28"/><circle cx="137.4" cy="98.9" r="1.26"/><circle cx="142.5" cy="133.6" r="1.33"/><circle cx="144.5" cy="129.9" r="1.33"/><circle cx="145.7" cy="129.8" r="1.22"/><circle cx="145.2" cy="136.1" r="1.10"/><circle cx="146.4" cy="129.9" r="1.22"/><circle cx="140.2" cy="129.8" r="1.18"/><circle cx="145.1" cy="131.5" r="1.26"/><circle cx="143.5" cy="136.0" r="1.15"/><circle cx="144.9" cy="129.4" r="1.07"/><circle cx="145.2" cy="135.0" r="1.11"/><circle cx="140.6" cy="130.1" r="1.09"/><circle cx="143.8" cy="129.1" r="1.27"/><circle cx="146.0" cy="130.0" r="1.26"/><circle cx="145.4" cy="135.5" r="1.21"/><circle cx="145.3" cy="135.8" r="1.15"/><circle cx="145.0" cy="131.2" r="1.27"/><circle cx="144.4" cy="135.6" r="1.18"/><circle cx="140.7" cy="132.8" r="1.20"/><circle cx="143.3" cy="129.6" r="1.11"/><circle cx="145.5" cy="134.5" r="1.35"/><circle cx="146.4" cy="129.1" r="1.18"/><circle cx="146.3" cy="134.5" r="1.19"/><circle cx="141.3" cy="136.0" r="1.11"/><circle cx="142.2" cy="133.0" r="1.18"/><circle cx="129.2" cy="82.7" r="1.19"/><circle cx="131.2" cy="80.5" r="1.18"/><circle cx="130.8" cy="80.9" r="1.27"/><circle cx="127.5" cy="83.1" r="1.15"/><circle cx="131.5" cy="85.0" r="1.24"/><circle cx="129.0" cy="85.5" r="1.25"/><circle cx="129.5" cy="79.3" r="1.09"/><circle cx="127.4" cy="81.3" r="1.30"/><circle cx="130.1" cy="80.4" r="1.07"/><circle cx="134.1" cy="85.3" r="1.13"/><circle cx="128.8" cy="84.1" r="1.30"/><circle cx="127.5" cy="81.8" r="1.09"/><circle cx="131.6" cy="81.6" r="1.13"/><circle cx="127.4" cy="81.2" r="1.17"/><circle cx="127.7" cy="80.8" r="1.33"/><circle cx="133.5" cy="85.4" r="1.34"/><circle cx="127.7" cy="112.1" r="1.12"/><circle cx="126.1" cy="111.8" r="1.24"/><circle cx="125.6" cy="115.9" r="1.30"/><circle cx="127.8" cy="112.8" r="1.20"/><circle cx="124.6" cy="112.9" r="1.14"/><circle cx="124.5" cy="111.8" r="1.10"/><circle cx="125.8" cy="113.5" r="1.07"/><circle cx="122.9" cy="118.7" r="1.06"/><circle cx="129.8" cy="115.0" r="1.06"/><circle cx="126.9" cy="113.4" r="1.27"/><circle cx="129.4" cy="115.6" r="1.23"/><circle cx="128.6" cy="116.9" r="1.07"/><circle cx="124.8" cy="115.2" r="1.33"/><circle cx="123.8" cy="109.6" r="1.35"/><circle cx="123.6" cy="111.9" r="1.17"/><circle cx="127.5" cy="110.7" r="1.16"/><circle cx="125.9" cy="111.9" r="1.31"/><circle cx="124.4" cy="114.9" r="1.25"/><circle cx="126.2" cy="112.4" r="1.27"/><circle cx="122.7" cy="112.3" r="1.10"/><circle cx="128.3" cy="109.7" r="1.27"/><circle cx="124.1" cy="119.7" r="1.18"/><circle cx="123.5" cy="113.7" r="1.07"/><circle cx="128.1" cy="114.3" r="1.06"/><circle cx="122.8" cy="111.8" r="1.13"/><circle cx="122.3" cy="115.5" r="1.12"/><circle cx="125.4" cy="114.2" r="1.13"/><circle cx="129.0" cy="116.8" r="1.32"/><circle cx="129.1" cy="112.6" r="1.17"/><circle cx="129.6" cy="112.2" r="1.11"/><circle cx="124.9" cy="118.3" r="1.08"/><circle cx="129.5" cy="114.2" r="1.07"/><circle cx="137.8" cy="113.0" r="1.17"/><circle cx="135.0" cy="118.6" r="1.18"/><circle cx="138.0" cy="113.5" r="1.07"/><circle cx="132.0" cy="113.6" r="1.20"/><circle cx="135.9" cy="119.0" r="1.15"/><circle cx="134.8" cy="112.8" r="1.06"/><circle cx="132.4" cy="117.3" r="1.19"/><circle cx="133.2" cy="114.5" r="1.10"/><circle cx="135.4" cy="114.7" r="1.10"/><circle cx="135.4" cy="112.5" r="1.28"/><circle cx="134.9" cy="118.0" r="1.18"/><circle cx="134.7" cy="117.5" r="1.16"/><circle cx="137.2" cy="115.6" r="1.22"/><circle cx="138.0" cy="117.6" r="1.27"/><circle cx="137.2" cy="115.4" r="1.24"/><circle cx="135.3" cy="119.1" r="1.33"/><circle cx="133.5" cy="118.4" r="1.26"/><circle cx="130.9" cy="113.8" r="1.15"/><circle cx="133.0" cy="117.6" r="1.34"/><circle cx="134.0" cy="112.5" r="1.05"/><circle cx="137.0" cy="113.7" r="1.11"/><circle cx="132.8" cy="113.3" r="1.09"/><circle cx="132.4" cy="113.9" r="1.16"/><circle cx="135.7" cy="117.1" r="1.16"/><circle cx="131.3" cy="118.4" r="1.17"/><circle cx="131.7" cy="115.6" r="1.24"/><circle cx="131.6" cy="105.2" r="1.15"/><circle cx="129.2" cy="109.5" r="1.19"/><circle cx="128.3" cy="106.5" r="1.25"/><circle cx="127.7" cy="105.2" r="1.33"/><circle cx="129.2" cy="110.9" r="1.34"/><circle cx="135.1" cy="107.7" r="1.16"/><circle cx="133.5" cy="104.4" r="1.17"/><circle cx="132.4" cy="111.3" r="1.35"/><circle cx="129.7" cy="110.1" r="1.30"/><circle cx="134.0" cy="110.8" r="1.31"/><circle cx="134.9" cy="105.9" r="1.08"/><circle cx="127.2" cy="109.6" r="1.14"/><circle cx="132.4" cy="104.5" r="1.18"/><circle cx="132.5" cy="104.1" r="1.14"/><circle cx="134.8" cy="108.1" r="1.19"/><circle cx="129.6" cy="105.6" r="1.33"/><circle cx="132.6" cy="104.2" r="1.17"/><circle cx="133.6" cy="109.4" r="1.20"/><circle cx="134.0" cy="108.0" r="1.15"/><circle cx="131.3" cy="108.0" r="1.23"/><circle cx="130.0" cy="111.6" r="1.21"/><circle cx="133.2" cy="111.9" r="1.10"/><circle cx="132.8" cy="111.7" r="1.07"/><circle cx="130.7" cy="112.1" r="1.28"/><circle cx="127.0" cy="107.7" r="1.30"/><circle cx="128.9" cy="108.7" r="1.15"/><circle cx="131.7" cy="107.4" r="1.11"/><circle cx="141.6" cy="132.4" r="1.08"/><circle cx="140.1" cy="128.7" r="1.24"/><circle cx="137.2" cy="128.8" r="1.22"/><circle cx="143.0" cy="130.5" r="1.33"/><circle cx="140.3" cy="130.8" r="1.25"/><circle cx="137.8" cy="130.5" r="1.22"/><circle cx="137.8" cy="132.1" r="1.23"/><circle cx="142.6" cy="130.6" r="1.32"/><circle cx="142.0" cy="133.0" r="1.33"/><circle cx="138.4" cy="130.6" r="1.10"/><circle cx="137.8" cy="130.0" r="1.09"/><circle cx="142.7" cy="131.7" r="1.09"/><circle cx="137.1" cy="131.7" r="1.05"/><circle cx="140.1" cy="127.2" r="1.31"/><circle cx="141.8" cy="129.8" r="1.34"/><circle cx="142.9" cy="97.3" r="1.20"/><circle cx="144.2" cy="95.8" r="1.28"/><circle cx="144.6" cy="98.5" r="1.25"/><circle cx="146.2" cy="100.7" r="1.25"/><circle cx="143.3" cy="96.7" r="1.17"/><circle cx="146.9" cy="102.0" r="1.34"/><circle cx="143.0" cy="98.1" r="1.14"/><circle cx="143.8" cy="99.4" r="1.08"/><circle cx="145.0" cy="98.9" r="1.07"/><circle cx="146.1" cy="103.1" r="1.29"/><circle cx="146.1" cy="97.8" r="1.28"/><circle cx="144.4" cy="100.9" r="1.31"/><circle cx="144.2" cy="95.9" r="1.29"/><circle cx="142.2" cy="99.5" r="1.12"/><circle cx="146.9" cy="99.8" r="1.16"/><circle cx="144.2" cy="99.8" r="1.13"/><circle cx="142.4" cy="100.5" r="1.31"/><circle cx="144.2" cy="96.6" r="1.05"/><circle cx="147.5" cy="100.2" r="1.14"/><circle cx="144.2" cy="111.0" r="1.25"/><circle cx="140.3" cy="107.7" r="1.24"/><circle cx="142.8" cy="109.5" r="1.05"/><circle cx="146.0" cy="112.2" r="1.08"/><circle cx="145.1" cy="110.1" r="1.10"/><circle cx="140.9" cy="113.6" r="1.12"/><circle cx="144.0" cy="104.8" r="1.20"/><circle cx="143.9" cy="107.9" r="1.06"/><circle cx="142.9" cy="105.5" r="1.30"/><circle cx="144.6" cy="108.9" r="1.19"/><circle cx="144.4" cy="111.1" r="1.25"/><circle cx="141.0" cy="110.8" r="1.16"/><circle cx="142.9" cy="113.9" r="1.30"/><circle cx="148.0" cy="107.6" r="1.08"/><circle cx="145.4" cy="110.4" r="1.31"/><circle cx="139.4" cy="110.9" r="1.12"/><circle cx="143.9" cy="104.9" r="1.20"/><circle cx="146.2" cy="112.1" r="1.22"/><circle cx="147.5" cy="110.8" r="1.25"/><circle cx="144.9" cy="107.0" r="1.21"/><circle cx="142.6" cy="110.4" r="1.27"/><circle cx="145.7" cy="107.5" r="1.07"/><circle cx="143.0" cy="112.5" r="1.21"/><circle cx="146.3" cy="113.7" r="1.20"/><circle cx="147.0" cy="108.1" r="1.24"/><circle cx="140.8" cy="111.6" r="1.08"/><circle cx="144.4" cy="109.1" r="1.26"/><circle cx="144.3" cy="113.5" r="1.07"/><circle cx="142.2" cy="112.8" r="1.06"/><circle cx="146.3" cy="111.4" r="1.07"/><circle cx="147.4" cy="107.8" r="1.34"/><circle cx="139.7" cy="106.9" r="1.10"/><circle cx="145.5" cy="113.3" r="1.26"/><circle cx="124.7" cy="121.4" r="1.07"/><circle cx="127.8" cy="123.0" r="1.23"/><circle cx="123.9" cy="116.4" r="1.12"/><circle cx="129.9" cy="120.6" r="1.23"/><circle cx="125.5" cy="116.6" r="1.27"/><circle cx="124.7" cy="121.5" r="1.25"/><circle cx="124.4" cy="119.1" r="1.21"/><circle cx="128.6" cy="117.0" r="1.27"/><circle cx="126.1" cy="120.6" r="1.05"/><circle cx="127.0" cy="115.7" r="1.07"/><circle cx="123.5" cy="114.8" r="1.12"/><circle cx="126.9" cy="121.6" r="1.19"/><circle cx="131.0" cy="119.1" r="1.28"/><circle cx="128.5" cy="123.7" r="1.06"/><circle cx="128.7" cy="117.3" r="1.11"/><circle cx="128.1" cy="121.4" r="1.21"/><circle cx="126.5" cy="118.7" r="1.15"/><circle cx="126.5" cy="123.1" r="1.07"/><circle cx="123.8" cy="115.6" r="1.13"/><circle cx="130.4" cy="121.3" r="1.06"/><circle cx="129.1" cy="122.8" r="1.05"/><circle cx="127.7" cy="121.6" r="1.30"/><circle cx="130.9" cy="119.6" r="1.14"/><circle cx="123.9" cy="117.2" r="1.26"/><circle cx="130.7" cy="121.6" r="1.12"/><circle cx="130.9" cy="118.9" r="1.27"/><circle cx="128.3" cy="117.5" r="1.31"/><circle cx="124.2" cy="114.9" r="1.06"/><circle cx="127.7" cy="123.3" r="1.23"/><circle cx="127.2" cy="120.7" r="1.32"/><circle cx="129.9" cy="118.6" r="1.28"/><circle cx="132.9" cy="88.8" r="1.09"/><circle cx="134.1" cy="89.4" r="1.27"/><circle cx="129.2" cy="91.5" r="1.28"/><circle cx="137.3" cy="92.8" r="1.10"/><circle cx="135.2" cy="87.3" r="1.25"/><circle cx="134.9" cy="90.5" r="1.24"/><circle cx="134.8" cy="91.9" r="1.11"/><circle cx="132.7" cy="86.1" r="1.30"/><circle cx="129.6" cy="86.4" r="1.31"/><circle cx="131.4" cy="86.6" r="1.07"/><circle cx="136.3" cy="89.5" r="1.19"/><circle cx="134.3" cy="89.9" r="1.23"/><circle cx="134.4" cy="90.7" r="1.05"/><circle cx="132.8" cy="85.6" r="1.21"/><circle cx="139.1" cy="92.2" r="1.33"/><circle cx="136.7" cy="90.7" r="1.15"/><circle cx="132.6" cy="92.9" r="1.20"/><circle cx="130.0" cy="88.9" r="1.33"/><circle cx="137.8" cy="89.6" r="1.31"/><circle cx="136.8" cy="91.6" r="1.34"/><circle cx="136.2" cy="88.9" r="1.08"/><circle cx="138.1" cy="89.2" r="1.35"/><circle cx="133.2" cy="90.1" r="1.15"/><circle cx="130.1" cy="88.7" r="1.16"/><circle cx="134.8" cy="89.8" r="1.11"/><circle cx="133.7" cy="93.1" r="1.29"/><circle cx="138.3" cy="92.5" r="1.23"/><circle cx="139.2" cy="92.1" r="1.19"/><circle cx="138.4" cy="92.0" r="1.20"/><circle cx="138.5" cy="95.9" r="1.20"/><circle cx="131.7" cy="91.2" r="1.22"/><circle cx="133.4" cy="86.3" r="1.10"/><circle cx="135.9" cy="95.1" r="1.27"/><circle cx="133.8" cy="93.4" r="1.13"/><circle cx="136.2" cy="90.7" r="1.06"/><circle cx="138.8" cy="90.6" r="1.34"/><circle cx="133.3" cy="87.0" r="1.08"/><circle cx="136.2" cy="92.6" r="1.29"/><circle cx="133.3" cy="91.5" r="1.28"/><circle cx="131.4" cy="91.8" r="1.18"/><circle cx="140.0" cy="94.9" r="1.23"/><circle cx="135.5" cy="88.7" r="1.12"/><circle cx="134.1" cy="94.7" r="1.11"/><circle cx="135.5" cy="95.6" r="1.32"/><circle cx="139.0" cy="94.1" r="1.27"/><circle cx="134.2" cy="92.2" r="1.28"/><circle cx="133.5" cy="96.0" r="1.19"/><circle cx="130.9" cy="92.3" r="1.06"/><circle cx="134.8" cy="87.3" r="1.28"/><circle cx="134.9" cy="87.2" r="1.34"/><circle cx="132.9" cy="96.8" r="1.15"/><circle cx="136.0" cy="87.5" r="1.24"/><circle cx="140.8" cy="91.7" r="1.09"/><circle cx="133.4" cy="96.6" r="1.34"/><circle cx="141.6" cy="92.5" r="1.26"/><circle cx="138.0" cy="96.0" r="1.07"/><circle cx="137.1" cy="90.0" r="1.26"/><circle cx="132.3" cy="93.7" r="1.25"/><circle cx="133.1" cy="96.3" r="1.18"/><circle cx="136.9" cy="89.5" r="1.23"/><circle cx="140.4" cy="96.2" r="1.33"/><circle cx="139.0" cy="96.3" r="1.25"/><circle cx="136.2" cy="89.9" r="1.19"/><circle cx="131.0" cy="91.4" r="1.34"/><circle cx="131.5" cy="94.8" r="1.24"/><circle cx="131.3" cy="89.1" r="1.28"/><circle cx="132.7" cy="93.3" r="1.22"/><circle cx="134.9" cy="93.8" r="1.28"/><circle cx="130.5" cy="91.5" r="1.28"/><circle cx="140.0" cy="95.0" r="1.20"/><circle cx="141.5" cy="95.2" r="1.19"/><circle cx="142.1" cy="93.4" r="1.11"/><circle cx="142.0" cy="92.9" r="1.25"/><circle cx="140.6" cy="92.8" r="1.27"/><circle cx="139.0" cy="90.7" r="1.17"/><circle cx="138.6" cy="93.0" r="1.07"/><circle cx="141.9" cy="94.1" r="1.26"/><circle cx="140.6" cy="95.2" r="1.24"/><circle cx="140.9" cy="94.9" r="1.24"/><circle cx="142.2" cy="94.0" r="1.10"/><circle cx="138.9" cy="91.7" r="1.32"/><circle cx="140.6" cy="92.8" r="1.27"/><circle cx="140.6" cy="94.3" r="1.29"/><circle cx="141.3" cy="93.0" r="1.09"/><circle cx="143.6" cy="94.6" r="1.13"/><circle cx="138.3" cy="95.6" r="1.21"/><circle cx="142.8" cy="95.4" r="1.05"/><circle cx="143.5" cy="99.0" r="1.34"/><circle cx="138.3" cy="93.9" r="1.10"/><circle cx="145.8" cy="96.7" r="1.10"/><circle cx="141.0" cy="99.2" r="1.29"/><circle cx="142.4" cy="97.6" r="1.12"/><circle cx="139.9" cy="93.3" r="1.22"/><circle cx="143.7" cy="94.4" r="1.25"/><circle cx="139.6" cy="98.8" r="1.11"/><circle cx="140.9" cy="99.0" r="1.06"/><circle cx="137.6" cy="94.7" r="1.26"/><circle cx="144.1" cy="97.9" r="1.31"/><circle cx="140.4" cy="98.8" r="1.29"/><circle cx="139.9" cy="95.8" r="1.08"/><circle cx="144.9" cy="96.1" r="1.15"/><circle cx="140.3" cy="98.3" r="1.19"/><circle cx="147.7" cy="113.8" r="1.06"/><circle cx="140.5" cy="100.2" r="1.32"/><circle cx="141.9" cy="95.5" r="1.30"/><circle cx="138.4" cy="131.8" r="1.34"/><circle cx="144.4" cy="110.8" r="1.32"/><circle cx="153.0" cy="132.8" r="1.30"/><circle cx="141.8" cy="108.9" r="1.14"/><circle cx="142.9" cy="133.9" r="1.25"/><circle cx="143.4" cy="128.0" r="1.31"/><circle cx="146.1" cy="133.6" r="1.05"/><circle cx="131.9" cy="95.9" r="1.07"/><circle cx="143.5" cy="108.1" r="1.35"/><circle cx="149.6" cy="112.6" r="1.08"/><circle cx="135.6" cy="88.5" r="1.32"/><circle cx="143.8" cy="134.5" r="1.16"/><circle cx="127.1" cy="108.4" r="1.12"/><circle cx="140.2" cy="120.8" r="1.16"/><circle cx="129.8" cy="118.0" r="1.31"/><circle cx="130.3" cy="119.1" r="1.24"/><circle cx="148.1" cy="122.4" r="1.09"/><circle cx="126.9" cy="103.7" r="1.30"/><circle cx="146.9" cy="100.2" r="1.15"/><circle cx="147.7" cy="101.9" r="1.30"/><circle cx="123.4" cy="110.7" r="1.20"/><circle cx="128.5" cy="78.9" r="1.31"/><circle cx="126.7" cy="115.6" r="1.21"/><circle cx="143.7" cy="137.7" r="1.16"/><circle cx="132.3" cy="103.5" r="1.35"/><circle cx="133.1" cy="112.8" r="1.34"/><circle cx="148.5" cy="126.0" r="1.21"/><circle cx="140.2" cy="108.7" r="1.21"/><circle cx="132.3" cy="89.1" r="1.23"/><circle cx="144.2" cy="104.7" r="1.25"/><circle cx="135.5" cy="116.0" r="1.13"/><circle cx="140.6" cy="107.7" r="1.33"/><circle cx="140.0" cy="108.6" r="1.18"/><circle cx="130.2" cy="81.2" r="1.35"/><circle cx="144.1" cy="133.7" r="1.22"/><circle cx="123.5" cy="118.7" r="1.33"/><circle cx="157.4" cy="117.9" r="1.33"/><circle cx="139.7" cy="106.1" r="1.13"/><circle cx="131.3" cy="112.6" r="1.06"/><circle cx="130.6" cy="111.5" r="1.22"/><circle cx="138.9" cy="104.7" r="1.22"/><circle cx="127.7" cy="83.0" r="1.15"/><circle cx="149.9" cy="124.6" r="1.16"/><circle cx="152.6" cy="106.9" r="1.13"/><circle cx="137.5" cy="104.3" r="1.08"/><circle cx="144.4" cy="105.6" r="1.19"/><circle cx="135.0" cy="90.0" r="1.21"/><circle cx="141.1" cy="149.2" r="1.18"/><circle cx="145.7" cy="145.1" r="1.30"/><circle cx="150.0" cy="150.0" r="1.18"/><circle cx="148.6" cy="150.4" r="1.28"/><circle cx="150.2" cy="144.3" r="1.28"/><circle cx="147.2" cy="149.0" r="1.20"/><circle cx="146.8" cy="153.2" r="1.19"/><circle cx="148.7" cy="148.3" r="1.12"/><circle cx="147.6" cy="149.2" r="1.26"/><circle cx="143.4" cy="147.5" r="1.31"/><circle cx="141.6" cy="150.6" r="1.34"/><circle cx="145.3" cy="144.1" r="1.29"/><circle cx="146.9" cy="143.5" r="1.34"/><circle cx="147.3" cy="145.2" r="1.23"/><circle cx="142.8" cy="151.2" r="1.19"/><circle cx="150.3" cy="146.3" r="1.34"/><circle cx="143.0" cy="148.3" r="1.25"/><circle cx="145.4" cy="150.6" r="1.07"/><circle cx="151.5" cy="147.4" r="1.31"/><circle cx="149.3" cy="145.2" r="1.23"/><circle cx="145.1" cy="144.7" r="1.31"/><circle cx="143.7" cy="148.1" r="1.17"/><circle cx="143.3" cy="149.3" r="1.24"/><circle cx="150.5" cy="151.2" r="1.23"/><circle cx="150.3" cy="150.9" r="1.23"/><circle cx="145.4" cy="146.2" r="1.31"/><circle cx="140.0" cy="148.4" r="1.17"/><circle cx="150.4" cy="147.5" r="1.25"/><circle cx="146.6" cy="142.9" r="1.33"/><circle cx="144.8" cy="152.1" r="1.08"/><circle cx="142.9" cy="145.7" r="1.31"/><circle cx="147.6" cy="144.3" r="1.26"/><circle cx="145.9" cy="146.4" r="1.18"/><circle cx="144.7" cy="148.3" r="1.06"/><circle cx="142.6" cy="143.4" r="1.20"/><circle cx="141.6" cy="146.7" r="1.10"/><circle cx="143.9" cy="145.9" r="1.11"/><circle cx="142.5" cy="150.8" r="1.20"/><circle cx="143.7" cy="145.0" r="1.24"/><circle cx="142.5" cy="148.4" r="1.33"/><circle cx="141.3" cy="146.2" r="1.24"/><circle cx="143.6" cy="152.2" r="1.28"/><circle cx="148.5" cy="144.3" r="1.21"/><circle cx="149.2" cy="147.5" r="1.06"/><circle cx="148.1" cy="146.6" r="1.15"/><circle cx="142.4" cy="151.9" r="1.09"/><circle cx="150.9" cy="136.8" r="1.23"/><circle cx="155.5" cy="137.9" r="1.14"/><circle cx="152.1" cy="140.2" r="1.23"/><circle cx="152.5" cy="138.2" r="1.15"/><circle cx="155.9" cy="139.3" r="1.06"/><circle cx="152.2" cy="137.9" r="1.12"/><circle cx="151.6" cy="139.5" r="1.33"/><circle cx="154.2" cy="137.5" r="1.18"/><circle cx="152.7" cy="136.1" r="1.25"/><circle cx="152.4" cy="140.2" r="1.21"/><circle cx="151.1" cy="138.5" r="1.19"/><circle cx="151.6" cy="137.8" r="1.25"/><circle cx="156.2" cy="138.0" r="1.32"/><circle cx="156.3" cy="133.4" r="1.24"/><circle cx="158.1" cy="140.7" r="1.29"/><circle cx="155.7" cy="132.6" r="1.15"/><circle cx="157.9" cy="137.6" r="1.13"/><circle cx="156.2" cy="136.5" r="1.05"/><circle cx="153.0" cy="136.1" r="1.21"/><circle cx="158.0" cy="140.6" r="1.07"/><circle cx="155.6" cy="137.4" r="1.13"/><circle cx="155.8" cy="133.3" r="1.19"/><circle cx="153.4" cy="136.6" r="1.16"/><circle cx="154.5" cy="134.1" r="1.11"/><circle cx="156.8" cy="142.1" r="1.18"/><circle cx="153.4" cy="138.2" r="1.33"/><circle cx="152.7" cy="136.3" r="1.22"/><circle cx="155.5" cy="135.2" r="1.25"/><circle cx="155.9" cy="139.6" r="1.35"/><circle cx="158.5" cy="138.7" r="1.24"/><circle cx="156.2" cy="134.6" r="1.34"/><circle cx="153.6" cy="138.4" r="1.26"/><circle cx="157.4" cy="140.6" r="1.29"/><circle cx="156.6" cy="139.8" r="1.23"/><circle cx="157.1" cy="135.6" r="1.35"/><circle cx="156.5" cy="138.1" r="1.21"/><circle cx="141.1" cy="158.0" r="1.15"/><circle cx="144.4" cy="154.9" r="1.25"/><circle cx="147.5" cy="159.1" r="1.08"/><circle cx="145.6" cy="155.5" r="1.18"/><circle cx="149.6" cy="158.1" r="1.33"/><circle cx="147.5" cy="154.8" r="1.09"/><circle cx="149.6" cy="157.7" r="1.17"/><circle cx="148.6" cy="157.4" r="1.14"/><circle cx="145.4" cy="160.3" r="1.24"/><circle cx="145.1" cy="157.8" r="1.31"/><circle cx="149.0" cy="159.3" r="1.15"/><circle cx="142.7" cy="157.9" r="1.22"/><circle cx="148.2" cy="159.0" r="1.06"/><circle cx="148.7" cy="155.7" r="1.12"/><circle cx="146.7" cy="156.3" r="1.18"/><circle cx="144.5" cy="156.7" r="1.24"/><circle cx="146.2" cy="161.3" r="1.31"/><circle cx="146.6" cy="163.3" r="1.32"/><circle cx="144.1" cy="155.1" r="1.20"/><circle cx="147.6" cy="155.9" r="1.13"/><circle cx="149.4" cy="156.5" r="1.30"/><circle cx="144.9" cy="161.0" r="1.30"/><circle cx="142.4" cy="157.9" r="1.29"/><circle cx="146.6" cy="154.8" r="1.25"/><circle cx="145.4" cy="154.8" r="1.24"/><circle cx="145.2" cy="163.0" r="1.17"/><circle cx="149.6" cy="158.2" r="1.22"/><circle cx="145.0" cy="156.3" r="1.16"/><circle cx="148.1" cy="160.9" r="1.26"/><circle cx="145.7" cy="140.4" r="1.31"/><circle cx="144.8" cy="143.3" r="1.14"/><circle cx="147.8" cy="144.2" r="1.27"/><circle cx="145.2" cy="145.8" r="1.08"/><circle cx="147.9" cy="145.9" r="1.08"/><circle cx="143.9" cy="147.4" r="1.11"/><circle cx="150.6" cy="141.8" r="1.14"/><circle cx="146.1" cy="143.2" r="1.18"/><circle cx="146.5" cy="148.4" r="1.17"/><circle cx="144.7" cy="139.5" r="1.32"/><circle cx="146.9" cy="145.9" r="1.07"/><circle cx="149.0" cy="145.7" r="1.31"/><circle cx="144.0" cy="146.1" r="1.12"/><circle cx="146.7" cy="144.3" r="1.14"/><circle cx="142.7" cy="146.7" r="1.19"/><circle cx="144.1" cy="140.7" r="1.18"/><circle cx="149.1" cy="144.9" r="1.22"/><circle cx="143.6" cy="146.5" r="1.06"/><circle cx="142.7" cy="146.1" r="1.23"/><circle cx="145.6" cy="147.7" r="1.06"/><circle cx="148.0" cy="143.7" r="1.10"/><circle cx="147.5" cy="139.5" r="1.13"/><circle cx="145.5" cy="145.7" r="1.20"/><circle cx="149.8" cy="142.8" r="1.27"/><circle cx="150.2" cy="146.2" r="1.06"/><circle cx="143.8" cy="142.6" r="1.06"/><circle cx="143.3" cy="143.6" r="1.17"/><circle cx="143.5" cy="142.2" r="1.12"/><circle cx="143.3" cy="146.6" r="1.26"/><circle cx="144.7" cy="147.8" r="1.29"/><circle cx="140.3" cy="150.4" r="1.32"/><circle cx="141.2" cy="147.8" r="1.35"/><circle cx="140.4" cy="155.7" r="1.34"/><circle cx="136.1" cy="151.1" r="1.12"/><circle cx="139.2" cy="148.8" r="1.22"/><circle cx="139.1" cy="150.5" r="1.09"/><circle cx="137.0" cy="147.2" r="1.21"/><circle cx="141.7" cy="147.5" r="1.26"/><circle cx="137.8" cy="146.4" r="1.24"/><circle cx="138.4" cy="147.8" r="1.34"/><circle cx="140.2" cy="147.1" r="1.16"/><circle cx="140.5" cy="154.5" r="1.18"/><circle cx="142.7" cy="152.0" r="1.32"/><circle cx="138.4" cy="151.9" r="1.29"/><circle cx="139.0" cy="147.4" r="1.11"/><circle cx="139.9" cy="149.7" r="1.17"/><circle cx="140.7" cy="153.5" r="1.28"/><circle cx="135.8" cy="147.3" r="1.07"/><circle cx="142.1" cy="152.8" r="1.29"/><circle cx="140.1" cy="152.4" r="1.32"/><circle cx="136.3" cy="148.8" r="1.24"/><circle cx="142.0" cy="150.6" r="1.09"/><circle cx="134.6" cy="150.5" r="1.22"/><circle cx="136.4" cy="146.8" r="1.10"/><circle cx="142.4" cy="154.3" r="1.32"/><circle cx="136.6" cy="149.9" r="1.12"/><circle cx="155.1" cy="162.4" r="1.07"/><circle cx="150.1" cy="163.1" r="1.19"/><circle cx="154.5" cy="157.2" r="1.12"/><circle cx="154.9" cy="158.1" r="1.31"/><circle cx="150.5" cy="159.0" r="1.10"/><circle cx="153.7" cy="161.6" r="1.09"/><circle cx="157.1" cy="159.0" r="1.16"/><circle cx="152.0" cy="165.4" r="1.18"/><circle cx="150.2" cy="162.4" r="1.21"/><circle cx="150.0" cy="160.4" r="1.34"/><circle cx="152.8" cy="161.7" r="1.17"/><circle cx="154.5" cy="159.5" r="1.31"/><circle cx="150.1" cy="159.8" r="1.09"/><circle cx="154.1" cy="160.5" r="1.19"/><circle cx="156.8" cy="157.8" r="1.32"/><circle cx="151.9" cy="162.3" r="1.30"/><circle cx="150.9" cy="162.6" r="1.24"/><circle cx="152.4" cy="159.4" r="1.08"/><circle cx="155.1" cy="160.0" r="1.35"/><circle cx="157.7" cy="159.0" r="1.16"/><circle cx="152.7" cy="162.0" r="1.25"/><circle cx="152.8" cy="162.3" r="1.08"/><circle cx="152.5" cy="161.2" r="1.08"/><circle cx="151.2" cy="161.4" r="1.17"/><circle cx="152.7" cy="165.1" r="1.29"/><circle cx="149.9" cy="160.8" r="1.28"/><circle cx="150.8" cy="163.0" r="1.17"/><circle cx="141.0" cy="150.1" r="1.13"/><circle cx="145.0" cy="152.1" r="1.22"/><circle cx="152.7" cy="134.5" r="1.18"/><circle cx="159.1" cy="147.9" r="1.12"/><circle cx="153.1" cy="137.3" r="1.09"/><circle cx="153.0" cy="160.7" r="1.07"/><circle cx="149.6" cy="156.6" r="1.08"/><circle cx="154.1" cy="134.5" r="1.28"/><circle cx="156.7" cy="151.7" r="1.34"/><circle cx="159.9" cy="147.8" r="1.29"/><circle cx="155.5" cy="161.0" r="1.25"/><circle cx="145.7" cy="158.5" r="1.18"/><circle cx="147.2" cy="162.9" r="1.13"/><circle cx="152.7" cy="142.2" r="1.19"/><circle cx="149.1" cy="145.0" r="1.17"/><circle cx="144.4" cy="151.5" r="1.30"/><circle cx="151.4" cy="161.9" r="1.34"/><circle cx="154.4" cy="162.7" r="1.17"/><circle cx="154.1" cy="137.7" r="1.13"/><circle cx="161.1" cy="151.0" r="1.27"/><circle cx="155.4" cy="139.3" r="1.33"/><circle cx="158.9" cy="151.1" r="1.34"/><circle cx="146.2" cy="137.3" r="1.34"/><circle cx="142.7" cy="157.5" r="1.29"/><circle cx="152.4" cy="133.9" r="1.30"/><circle cx="155.5" cy="143.2" r="1.19"/><circle cx="151.9" cy="133.4" r="1.26"/><circle cx="139.8" cy="145.7" r="1.11"/><circle cx="152.2" cy="137.5" r="1.35"/><circle cx="160.9" cy="144.7" r="1.12"/><circle cx="147.7" cy="149.4" r="1.28"/><circle cx="153.2" cy="151.8" r="1.29"/><circle cx="150.7" cy="152.6" r="1.31"/><circle cx="162.2" cy="148.9" r="1.16"/><circle cx="146.8" cy="155.9" r="1.20"/><circle cx="165.8" cy="170.9" r="1.05"/><circle cx="167.8" cy="172.3" r="1.31"/><circle cx="163.8" cy="179.2" r="1.22"/><circle cx="172.2" cy="174.2" r="1.09"/><circle cx="169.4" cy="175.7" r="1.15"/><circle cx="165.1" cy="171.0" r="1.17"/><circle cx="165.6" cy="194.0" r="1.19"/><circle cx="172.6" cy="173.4" r="1.14"/><circle cx="166.7" cy="185.6" r="1.13"/><circle cx="171.8" cy="191.9" r="1.21"/><circle cx="170.3" cy="186.8" r="1.28"/><circle cx="169.1" cy="173.0" r="1.19"/><circle cx="168.7" cy="170.5" r="1.18"/><circle cx="169.6" cy="176.4" r="1.16"/><circle cx="173.9" cy="184.0" r="1.33"/><circle cx="169.1" cy="179.6" r="1.28"/><circle cx="170.2" cy="180.1" r="1.26"/><circle cx="164.9" cy="176.5" r="1.07"/><circle cx="163.6" cy="185.5" r="1.28"/><circle cx="166.4" cy="183.0" r="1.18"/><circle cx="168.7" cy="177.6" r="1.26"/><circle cx="168.0" cy="173.7" r="1.19"/><circle cx="170.6" cy="175.7" r="1.07"/><circle cx="167.3" cy="188.9" r="1.21"/><circle cx="166.8" cy="183.6" r="1.27"/><circle cx="163.7" cy="174.4" r="1.10"/><circle cx="172.2" cy="185.2" r="1.23"/><circle cx="165.8" cy="177.3" r="1.13"/><circle cx="165.1" cy="180.9" r="1.05"/><circle cx="171.8" cy="194.9" r="1.06"/><circle cx="162.3" cy="139.0" r="1.17"/><circle cx="164.9" cy="144.4" r="1.12"/><circle cx="164.1" cy="143.9" r="1.10"/><circle cx="167.2" cy="136.5" r="1.15"/><circle cx="160.0" cy="125.7" r="1.29"/><circle cx="161.2" cy="134.5" r="1.20"/><circle cx="164.5" cy="123.3" r="1.22"/><circle cx="165.0" cy="122.7" r="1.32"/><circle cx="162.3" cy="122.4" r="1.12"/><circle cx="156.1" cy="124.8" r="1.32"/><circle cx="161.1" cy="137.3" r="1.25"/><circle cx="163.4" cy="145.1" r="1.27"/><circle cx="166.4" cy="127.1" r="1.33"/><circle cx="158.4" cy="123.5" r="1.10"/><circle cx="155.2" cy="120.8" r="1.17"/><circle cx="157.5" cy="135.3" r="1.21"/><circle cx="158.1" cy="127.4" r="1.21"/><circle cx="165.3" cy="132.0" r="1.35"/><circle cx="157.7" cy="132.0" r="1.12"/><circle cx="163.6" cy="120.5" r="1.13"/><circle cx="164.2" cy="141.8" r="1.28"/><circle cx="158.5" cy="134.6" r="1.29"/><circle cx="153.1" cy="120.3" r="1.15"/><circle cx="158.2" cy="128.6" r="1.07"/><circle cx="160.9" cy="139.9" r="1.20"/><circle cx="165.0" cy="142.2" r="1.22"/><circle cx="154.4" cy="128.2" r="1.31"/><circle cx="161.2" cy="127.4" r="1.22"/><circle cx="157.8" cy="123.8" r="1.21"/><circle cx="154.2" cy="123.0" r="1.28"/><circle cx="155.4" cy="120.3" r="1.25"/><circle cx="167.8" cy="133.4" r="1.24"/><circle cx="159.1" cy="125.4" r="1.06"/><circle cx="161.9" cy="141.3" r="1.26"/><circle cx="159.8" cy="130.4" r="1.18"/><circle cx="164.0" cy="144.6" r="1.21"/><circle cx="162.5" cy="140.3" r="1.21"/><circle cx="157.4" cy="131.2" r="1.28"/><circle cx="167.6" cy="131.2" r="1.10"/><circle cx="160.3" cy="138.7" r="1.31"/><circle cx="160.2" cy="126.9" r="1.09"/><circle cx="159.1" cy="123.0" r="1.30"/><circle cx="167.4" cy="135.9" r="1.30"/><circle cx="160.5" cy="128.1" r="1.06"/><circle cx="154.3" cy="126.4" r="1.22"/><circle cx="180.7" cy="162.0" r="1.30"/><circle cx="180.3" cy="171.4" r="1.14"/><circle cx="178.2" cy="171.6" r="1.10"/><circle cx="176.0" cy="172.2" r="1.33"/><circle cx="186.1" cy="164.9" r="1.12"/><circle cx="181.8" cy="170.0" r="1.35"/><circle cx="174.2" cy="167.5" r="1.15"/><circle cx="187.7" cy="162.0" r="1.33"/><circle cx="187.7" cy="170.0" r="1.22"/><circle cx="188.6" cy="163.4" r="1.07"/><circle cx="187.7" cy="165.5" r="1.12"/><circle cx="172.1" cy="160.7" r="1.23"/><circle cx="184.0" cy="162.5" r="1.05"/><circle cx="174.4" cy="169.5" r="1.12"/><circle cx="177.9" cy="174.7" r="1.16"/><circle cx="190.0" cy="166.8" r="1.08"/><circle cx="184.2" cy="170.3" r="1.33"/><circle cx="170.6" cy="163.9" r="1.21"/><circle cx="183.2" cy="162.8" r="1.16"/><circle cx="183.0" cy="158.7" r="1.16"/><circle cx="189.4" cy="167.0" r="1.08"/><circle cx="172.6" cy="169.6" r="1.23"/><circle cx="176.9" cy="160.7" r="1.25"/><circle cx="180.6" cy="159.6" r="1.27"/><circle cx="174.6" cy="173.4" r="1.31"/><circle cx="168.2" cy="203.5" r="1.31"/><circle cx="150.0" cy="207.0" r="1.16"/><circle cx="127.0" cy="106.0" r="1.12"/><circle cx="131.0" cy="96.0" r="1.08"/><circle cx="153.0" cy="168.0" r="1.26"/><circle cx="136.5" cy="125.0" r="1.24"/><circle cx="147.5" cy="171.0" r="1.08"/></g>
<g fill="#fc8d62"><circle cx="109.22" cy="52.87" r="1.45"/><circle cx="110.5" cy="52.37" r="1.45"/><circle cx="109.37" cy="53.01" r="1.45"/><circle cx="108.5" cy="52.61" r="1.45"/><circle cx="109.7" cy="54.1" r="1.45"/><circle cx="108.25" cy="51.51" r="1.45"/><circle cx="109.79" cy="59" r="1.45"/><circle cx="111.06" cy="57.39" r="1.45"/><circle cx="122.17" cy="59.33" r="1.45"/><circle cx="119.77" cy="58.59" r="1.45"/><circle cx="116.15" cy="57.33" r="1.45"/><circle cx="118.86" cy="57.43" r="1.45"/><circle cx="116.39" cy="57.81" r="1.45"/><circle cx="115.22" cy="58.27" r="1.45"/><circle cx="118.22" cy="59.07" r="1.45"/><circle cx="117.04" cy="63.58" r="1.45"/><circle cx="117" cy="63.65" r="1.45"/><circle cx="116.91" cy="62.46" r="1.45"/><circle cx="123.39" cy="69.99" r="1.45"/><circle cx="122.73" cy="69.09" r="1.45"/><circle cx="120.52" cy="67.61" r="1.45"/><circle cx="120.41" cy="67.12" r="1.45"/><circle cx="122.42" cy="68.14" r="1.45"/><circle cx="101.85" cy="67.58" r="1.45"/><circle cx="107.32" cy="74.49" r="1.45"/><circle cx="103.3" cy="71.11" r="1.45"/><circle cx="107.12" cy="72.49" r="1.45"/><circle cx="107.42" cy="72.11" r="1.45"/><circle cx="103.61" cy="73.34" r="1.45"/><circle cx="106.57" cy="71.43" r="1.45"/><circle cx="103.67" cy="71.76" r="1.45"/><circle cx="117.7" cy="76.89" r="1.45"/><circle cx="110.59" cy="75.82" r="1.45"/><circle cx="110.45" cy="75.43" r="1.45"/><circle cx="116.29" cy="75.67" r="1.45"/><circle cx="114.3" cy="76.24" r="1.45"/><circle cx="111.2" cy="76.84" r="1.45"/><circle cx="110.7" cy="76.65" r="1.45"/><circle cx="110.58" cy="76.18" r="1.45"/><circle cx="117.92" cy="80.2" r="1.45"/><circle cx="121.17" cy="83.56" r="1.45"/><circle cx="118.31" cy="84.07" r="1.45"/><circle cx="117.91" cy="80.98" r="1.45"/><circle cx="120.67" cy="82.54" r="1.45"/><circle cx="117.43" cy="84.73" r="1.45"/><circle cx="117.92" cy="80.13" r="1.45"/><circle cx="105.77" cy="78.33" r="1.45"/><circle cx="101.3" cy="83.39" r="1.45"/><circle cx="125.09" cy="90.58" r="1.45"/><circle cx="103.49" cy="63.6" r="1.45"/><circle cx="112.74" cy="70.91" r="1.45"/><circle cx="113.92" cy="70.97" r="1.45"/><circle cx="162" cy="130.9" r="1.45"/><circle cx="167.5" cy="146" r="1.45"/></g>
<g id="mout"><polygon points="126,75.3 126.52,76.79 126.54,78.31 126.23,79.4 126.6,80.6 127.06,82.21 126.87,82.86 126.82,84.88 126.64,85.56 127.1,87 127.76,88.25 127.34,89.44 128.22,90.75 128.1,92.2 128.3,93.56 128.91,94.69 128.52,96.02 128.75,96.84 129.15,98.62 129.7,99.7 128.47,100.57 127.33,100.76 126.6,101.8 125.07,103.04 124.4,103.9 123.5,105.4 123.66,106.41 122.94,107.48 123.15,109 122.53,110.57 122.7,111.7 122.79,112.93 122.39,114.38 122.75,115.48 122.4,117.21 122.7,118.1 123.56,119.34 124.21,120.31 124.3,121.3 125.06,121.63 126.2,122.66 126.94,123.76 128.21,123.64 129.15,124.21 129.84,125.16 130.6,126 131.72,127.09 132.46,127.61 132.94,128.21 133.91,128.7 135.02,129.04 136.31,129.75 137,130.8 137.56,131.23 138.71,132.22 138.94,132.77 139.88,134.01 140.48,134.37 141.7,135.6 142.38,136.66 142.44,137.5 143.3,138.7 143.76,137.52 144.8,136.5 145.43,135.53 146.5,134.8 147.52,134.45 149.25,134.13 150.05,133.15 151.3,133.2 152.57,133.32 154.4,133.2 156,132.4 155.34,131.51 155.22,129.82 154.15,128.62 153.7,127.6 153.7,125.98 153.18,125.42 153.11,124.24 152.97,122.86 152.9,121.3 153.62,119.74 154.4,118.9 156.07,118.24 157.6,118.1 159.18,118.48 160.03,118.88 161.24,119.12 162.4,118.9 163.39,117.66 164,117 162.75,116.61 161.51,116.03 160.8,114.9 159.59,114.34 159.31,113.25 158.49,112.62 157.47,111.57 156.39,111.12 156,110.2 155.56,109.29 154.76,108.51 153.43,108.07 153.25,106.63 152.42,106.04 151.3,105.4 150.91,104.25 150.46,103.33 149.12,102.12 148.41,101.19 148.1,100.6 147.7,99.27 146.38,98.57 145.72,98.15 144.91,97.16 144.54,95.78 143.74,95.22 143.3,94.3 142.16,93.4 141.37,92.73 140.73,91.71 139.73,91.29 138.53,90.54 137.8,89.5 136.62,88.59 136.07,87.36 135.54,87.12 134.59,85.77 134.16,85.44 133.12,84.16 132.2,83.2 131.86,82.18 131.43,80.84 130.8,79.6 130.1,78.87 129.08,77.73 127.91,76.49 127.1,75.8 126,75.3" fill="none" stroke="#000" stroke-width="1.3" stroke-linejoin="round"/>
<polygon points="164,117 162.9,118.12 162.4,118.9 161.32,118.68 159.74,118.76 159.08,118.31 157.6,118.1 156,118.26 154.4,118.9 153.2,119.98 152.9,121.3 153.14,122.17 153.48,123.58 153.14,124.67 153.99,126.55 153.7,127.6 154.61,128.9 154.43,129.85 155.42,130.85 156,132.4 156.81,133.46 156.49,135.04 156.86,136.31 157.6,137.1 158.2,138.11 158.74,139.01 159.24,139.56 160.49,140.7 160.8,141.9 161.69,142.6 162.5,144.17 162.95,145.02 163.43,145.95 164,146.7 164.04,147.73 165.06,148.53 165.53,150.2 165.45,150.78 165.87,151.85 166.3,153 166.91,154.18 166.19,155.19 166.98,157.28 166.94,158.11 167.1,159.4 167.47,160.88 167.49,162.02 168.11,163.29 168.09,164.14 168.7,165.7 169.16,167.28 169.76,168.19 170.33,168.94 171.1,170.5 171.11,171.96 172.15,172.74 172.47,174.18 172.7,175.2 173.86,176.68 174.22,177.77 175.1,178.4 176.32,177.68 176.7,176.8 178.08,176.26 178.65,175.51 179.8,175.2 181.21,174.4 181.55,174.47 183,173.7 184.85,173.68 186.2,173.7 187.3,172.5 187.58,171.91 188.53,171 189.4,170.5 189.41,169.15 190.56,168.54 190.82,166.88 191,165.7 191.35,164.94 192.17,163.56 192.3,161.92 193.3,161 193.34,159.93 193.11,158.42 192.5,157 190.88,156.67 189.4,156.2 188.51,156.43 187.03,156.8 186.04,156.96 184.6,157.8 183.57,158.61 181.77,158.68 181.13,159.32 179.8,159.4 179.58,157.9 179.12,157.25 179.27,155.23 178.24,153.91 178.3,153 177.47,151.78 177.18,150.98 177.24,149.14 176.7,148.3 175.77,147.5 174.77,146.77 173.52,146.1 172.75,145.93 171.9,145.1 171.31,143.73 170.81,143.52 170.23,142.48 168.9,141.23 168.7,140.3 168.71,139.36 169.21,138.14 169.68,136.95 170.3,135.6 170.53,133.99 171,133.03 171.86,131.82 171.9,130.8 171.5,129.64 171.5,128.04 170.79,127.21 170.3,126 169.98,125.37 169.06,124.08 168.72,122.9 167.77,122.08 168.06,120.62 167.1,119.7 165.9,119.24 164.68,117.52 164,117" fill="none" stroke="#000" stroke-width="1.3" stroke-linejoin="round"/>
<polygon points="143.3,138.7 144.51,137.4 144.47,137.2 145.42,135.43 146.5,134.8 147.84,134.26 149.25,133.76 150.51,133.44 151.3,133.2 152.94,133.59 154.4,133.2 156,132.4 156.57,133.96 156.99,134.34 157.54,136.01 157.6,137.1 158.07,137.78 159.19,139.09 159.91,140.23 160.58,141 160.8,141.9 161.62,142.96 161.86,144.23 162.55,145.03 163.77,145.88 164,146.7 164.06,148.04 164.92,148.52 164.74,149.88 165.11,151.28 165.92,151.97 166.3,153 166.38,154.42 166.99,155.39 166.67,156.91 166.76,158.21 167.1,159.4 167.46,160.6 167.9,161.95 167.69,163.63 168.25,164.38 168.7,165.7 169.21,167.29 170.31,168.11 170.41,168.94 171.1,170.5 171.86,171.38 171.94,172.71 172.15,173.9 172.7,175.2 173.22,175.85 174.33,177.6 175.1,178.4 174.83,179.33 174.47,180.4 173.82,182.3 173.5,183.2 173.99,184.29 174.04,185.46 173.86,186.66 174.4,187.93 174.05,189.05 174.31,189.84 174.3,191.1 174.4,192.67 174.08,194.06 173.39,194.94 173.78,196.08 173.5,197.5 173.32,198.8 173.67,199.55 173.43,201.31 173.82,201.67 173.82,202.92 174.52,203.98 174.3,205.4 174.26,206.3 174.59,207.66 174.64,209.39 175.32,210.74 175.1,211.7 174.36,212.87 174.77,213.84 173.87,215.53 173.71,217.05 173.5,218.1 172.5,218.47 170.87,218.66 169.69,218.91 168.7,219.7 167.67,219.79 166.7,220.63 164.78,220.9 164,221.3 162.89,221.09 161.59,221.28 160.64,221.45 159.2,222.1 157.72,222.94 156,222.9 154.76,222.26 152.9,222.1 152.61,220.66 152.12,220.19 152.23,218.3 151.51,217.75 151.3,216.5 150.37,215.81 150.37,214.63 149.26,213.93 148.75,212.38 148.1,211.7 147.26,210.45 147.12,209.83 146.36,209.17 145.97,207.66 144.9,207 144.03,206.54 143.57,205.3 142.69,204.33 141.46,203.4 140.88,202.76 140.2,202.2 139.42,201.68 138.29,200.37 138.13,199.47 137.02,198.68 136.2,197.5 135.61,196.62 136.05,195.22 136.01,193.3 135.17,192.09 135.4,191.1 135.56,190.23 136.09,188.5 135.99,187.54 135.89,186.48 136.2,184.8 136.28,183.72 135.92,182.51 135.38,180.8 134.72,179.44 134.6,178.4 134,177.61 134.02,175.62 133.83,174.52 133.8,173.7 134.95,173.15 135.91,172.88 137.32,172.37 138.6,172.1 140.14,171.93 141.16,172.44 142.79,171.99 143.23,172.51 144.9,172.1 146.25,171.31 147.23,170.8 148.9,170.5 148.33,168.57 148.1,167.3 147.05,166.78 147.11,165.03 146.16,164.69 145.54,163.07 144.9,162.5 144.12,161.45 143.99,160.69 142.94,159.8 141.93,158.91 141.7,157.8 141.36,156.99 140.33,155.69 139.4,154.54 138.91,153.92 138.6,153 137.85,151.95 136.58,151.52 135.72,150.17 134.6,149.8 134.58,148.33 133.8,146.7 134.42,145.67 135.4,145.1 136.83,145.17 137.77,144.37 139.23,143.85 140.36,144.2 141.7,143.5 142.15,142.59 142.29,141.43 143.15,139.65 143.3,138.7" fill="none" stroke="#000" stroke-width="1.3" stroke-linejoin="round"/>
<polygon points="90.6,20.3 91.28,21.17 91.46,22.56 92.26,23.26 93.07,24.67 93.8,25.6 94.8,26.6 96.42,26.69 97.6,27.29 98.1,26.58 99.21,27.4 100.78,27.59 102.29,27.47 103.08,27.07 103.79,27.85 105.4,27.7 106.07,29 106.5,29.98 107.08,31.24 107.13,31.94 108,33 108.13,34.6 108.6,35.6 109.46,36.36 109.26,37.34 109.98,38.79 110.59,39.76 111,40.54 111.7,41.5 111.95,42.68 112.78,43.93 113.7,44.67 113.44,46.09 114.77,46.73 114.9,47.8 115.69,49.49 116.5,50.4 117.18,49.15 118.48,48.49 119.2,47.3 120.6,47.93 121.68,47.89 122.9,48.3 122.99,49.11 123.45,50.37 123.9,51.5 124.44,52.77 124.55,53.71 124.97,54.87 125.45,56.27 125.5,57.3 126.08,58.26 126.32,59.65 127.11,60.55 127.1,61.6 127.26,62.83 127.4,63.57 127.64,64.83 128.16,65.74 128.7,66.9 128.56,68.07 127.48,68.95 127.06,70.34 127.1,71.1 126.73,72.82 126.15,74.19 126,75.3 125.82,76.96 126.2,77.57 126.82,79.58 126.6,80.6 126.42,81.95 126.78,82.84 126.83,84.87 126.89,85.95 127.1,87 127.58,88.54 127.7,89.96 127.71,90.88 128.1,92.2 128.32,93.09 128.62,94.94 128.97,95.66 128.94,97.19 129.08,98.18 129.7,99.7 128.88,100.05 127.29,100.79 126.6,101.8 125.52,102.42 124.4,103.9 123.52,102.91 122.3,101.8 121.76,101.25 120.95,100.22 119.8,99.49 119.2,98.6 118.21,97.31 118.03,96.59 116.85,95.4 116.5,94.4 116.27,93.09 115.99,91.96 115.24,91.14 115.03,90.36 114.9,89.1 114.02,87.84 113.59,87.25 112.75,85.53 111.7,84.8 110.74,83.39 110.2,82.7 109.07,83.22 107.5,83.8 106.8,85.26 106.45,85.52 106.5,87 105.76,88.01 104.3,89.1 103.59,89.88 101.91,90.48 101.2,91.2 100.64,89.72 99.6,89.1 99.65,87.53 99.21,86.07 99,84.8 98.88,83.74 98.21,82.31 98.08,81.36 97.5,80.6 97.47,78.89 96.91,78.19 96.95,76.91 97.19,75.43 96.9,74.3 96.4,73.13 95.42,72.48 95.3,71.1 95.48,70.11 95.73,68.57 95.4,67.23 95.9,65.8 96.36,64.54 96.59,63.39 97.07,62.76 97.91,61.23 98.5,60.5 98.81,59.24 99,57.3 98.68,55.89 97.71,55.34 96.9,54.2 96.63,53.01 96.37,51.91 96.05,50.69 95.9,49.9 95.02,49.72 93.8,48.9 93.12,48.24 91.6,47.8 90.66,46.51 89.77,45.82 89.5,44.6 88.48,43.57 88.43,42.72 87.4,41.5 87.39,40.42 87.25,39.14 87.12,37.28 86.9,36.2 86.68,35.16 86.89,33.36 87.4,31.9 87.04,31.17 86.23,29.43 85.3,28.8 85.21,27.75 85.61,26.42 86.3,25.6 86.81,24.8 88.05,23.73 88.5,22.4 89.89,21.69 90.6,20.3" fill="none" stroke="#ff0000" stroke-width="1.8" stroke-linejoin="round"/></g>
<g id="mdia"><path d="M164.1,112.7 L167.2,115.8 L164.1,118.9 L161,115.8 Z" fill="#e60000" stroke="#111" stroke-width="0.6"/>
<path d="M172.6,129.8 L175.7,132.9 L172.6,136 L169.5,132.9 Z" fill="#e60000" stroke="#111" stroke-width="0.6"/>
<path d="M175.1,144.2 L178.2,147.3 L175.1,150.4 L172,147.3 Z" fill="#e60000" stroke="#111" stroke-width="0.6"/>
<path d="M179.8,158.5 L182.9,161.6 L179.8,164.7 L176.7,161.6 Z" fill="#e60000" stroke="#111" stroke-width="0.6"/></g>
<circle cx="168.3" cy="29.1" r="1.2" fill="#ee6a25"/>
<text x="173.9" y="31.3" font-size="7.9" fill="#111" stroke="#111" stroke-width="0.12" font-family="Liberation Sans, sans-serif">MDA</text>
<circle cx="168.3" cy="39.3" r="1.2" fill="#3fb08a"/>
<text x="173.9" y="42.1" font-size="8.35" fill="#111" stroke="#111" stroke-width="0.12" font-family="Liberation Sans, sans-serif">Malaria post</text>
<path d="M168.3,46.6 L171.5,49.8 L168.3,53 L165.1,49.8 Z" fill="#e60000" stroke="#111" stroke-width="0.6"/>
<text x="173.9" y="52.7" font-size="8.25" fill="#111" stroke="#111" stroke-width="0.12" font-family="Liberation Sans, sans-serif">SMRU clinic</text>
<text x="49" y="20.8" font-size="8.2" fill="#111" stroke="#111" stroke-width="0.12" font-family="Liberation Sans, sans-serif">Myanmar</text>
<text x="59.6" y="64.9" font-size="8.3" font-style="italic" fill="#ff0000" font-family="Liberation Sans, sans-serif">Hpapun</text>
<text x="146.4" y="92.5" font-size="8.45" font-style="italic" fill="#111" stroke="#111" stroke-width="0.12" font-family="Liberation Sans, sans-serif">Hlaingbwe</text>
<text x="177" y="126.4" font-size="8.25" font-style="italic" fill="#111" stroke="#111" stroke-width="0.12" font-family="Liberation Sans, sans-serif">Myawaddy</text>
<text x="178.8" y="197.6" font-size="8.1" font-style="italic" fill="#111" stroke="#111" stroke-width="0.12" font-family="Liberation Sans, sans-serif">Kawkareik</text>
<text x="188.9" y="233" font-size="8.15" fill="#111" stroke="#111" stroke-width="0.12" font-family="Liberation Sans, sans-serif">Thailand</text>
<g>
<circle cx="65.9" cy="206.8" r="7.6" fill="none" stroke="#555" stroke-width="0.9"/>
<path d="M65.9,206.8 L67.46,210.19 L71.13,212.03 L69.29,208.36 Z" fill="none" stroke="#555" stroke-width="0.6"/>
<path d="M65.9,206.8 L62.51,208.36 L60.67,212.03 L64.34,210.19 Z" fill="none" stroke="#555" stroke-width="0.6"/>
<path d="M65.9,206.8 L64.34,203.41 L60.67,201.57 L62.51,205.24 Z" fill="none" stroke="#555" stroke-width="0.6"/>
<path d="M65.9,206.8 L69.29,205.24 L71.13,201.57 L67.46,203.41 Z" fill="none" stroke="#555" stroke-width="0.6"/>
<path d="M67,206.8 L65.9,195.3 L64.8,206.8 Z" fill="#555"/>
<path d="M64.8,206.8 L65.9,218.3 L67,206.8 Z" fill="#555"/>
<path d="M65.9,207.9 L78.1,206.8 L65.9,205.7 Z" fill="#555"/>
<path d="M65.9,205.7 L53.7,206.8 L65.9,207.9 Z" fill="#555"/>
<text x="66.4" y="194.2" font-size="7.6" text-anchor="middle" fill="#222" font-family="Liberation Sans, sans-serif">N</text>
</g>
<rect x="50.3" y="226.5" width="31.5" height="5.2" fill="#000"/>
<rect x="60.8" y="227.5" width="10.5" height="3.2" fill="#fff"/>
<text x="85" y="232.1" font-size="8.4" fill="#111" stroke="#111" stroke-width="0.12" font-family="Liberation Sans, sans-serif">60 km</text>
</g>
<rect x="45.5" y="10" width="180" height="227" fill="none" stroke="#888" stroke-width="0.9"/>
<g transform="translate(204,0)">
<g clip-path="url(#mclip)">
<use href="#mbase"/>
<g fill="#fb9470" fill-opacity="0.92"><circle cx="102.46" cy="73.13" r="1.88"/><circle cx="118.82" cy="89.65" r="1.32"/><circle cx="112.05" cy="74.91" r="1.55"/><circle cx="98.59" cy="71.62" r="1.5"/><circle cx="114.96" cy="87.77" r="1.96"/><circle cx="111.46" cy="58.81" r="1.91"/><circle cx="124.38" cy="91.01" r="2.1"/><circle cx="109.65" cy="54.79" r="1.38"/><circle cx="113.89" cy="74.8" r="1.68"/><circle cx="121.94" cy="79.86" r="1.33"/><circle cx="113.71" cy="78.76" r="1.5"/><circle cx="109.68" cy="52.45" r="1.75"/><circle cx="124.01" cy="64.81" r="1.32"/><circle cx="125.55" cy="76.11" r="1.48"/><circle cx="119.06" cy="54.7" r="1.88"/><circle cx="117.31" cy="89.34" r="1.79"/><circle cx="125.87" cy="66.56" r="1.5"/><circle cx="114.4" cy="85.06" r="1.83"/><circle cx="116.33" cy="68.4" r="2.03"/><circle cx="103.77" cy="80.22" r="1.31"/><circle cx="101.51" cy="74.75" r="2.03"/><circle cx="122.15" cy="97.76" r="1.93"/><circle cx="100.67" cy="83.24" r="1.61"/><circle cx="101.38" cy="76.76" r="1.44"/><circle cx="111.74" cy="51.9" r="2.16"/><circle cx="126.02" cy="94.25" r="1.6"/><circle cx="119.79" cy="92.18" r="1.38"/><circle cx="124.57" cy="69.28" r="1.39"/><circle cx="110.54" cy="84.25" r="2.06"/><circle cx="115.84" cy="63.02" r="1.84"/><circle cx="108.15" cy="67.35" r="2.03"/><circle cx="103.76" cy="58.89" r="1.96"/><circle cx="123.65" cy="85.31" r="1.78"/><circle cx="103.82" cy="60.83" r="2.18"/><circle cx="104.97" cy="72.92" r="1.64"/><circle cx="114.92" cy="80.66" r="1.8"/><circle cx="124.69" cy="97.56" r="2.05"/><circle cx="115.95" cy="63.17" r="1.86"/><circle cx="119.68" cy="56.23" r="2.08"/><circle cx="117.3" cy="60.05" r="1.82"/><circle cx="109.66" cy="66.42" r="1.93"/><circle cx="106.1" cy="56.69" r="1.34"/><circle cx="115.85" cy="84.63" r="1.51"/><circle cx="106.32" cy="84.97" r="1.56"/><circle cx="106.47" cy="82.38" r="1.37"/><circle cx="102.41" cy="61.16" r="1.51"/><circle cx="120.62" cy="73.75" r="1.39"/><circle cx="117.85" cy="64.3" r="1.55"/><circle cx="118.72" cy="64.95" r="1.87"/><circle cx="112.91" cy="72.2" r="1.63"/><circle cx="126.28" cy="87.61" r="1.63"/><circle cx="116.91" cy="86.19" r="1.49"/><circle cx="114.06" cy="78.75" r="1.54"/><circle cx="117.82" cy="90.98" r="2.14"/><circle cx="119.69" cy="95.22" r="1.88"/><circle cx="125.7" cy="61.57" r="1.85"/><circle cx="120.63" cy="75.83" r="1.45"/><circle cx="105.94" cy="74.3" r="1.96"/><circle cx="112.32" cy="64.86" r="1.45"/><circle cx="108.6" cy="72.14" r="1.64"/><circle cx="106.27" cy="56.97" r="2.19"/><circle cx="122.93" cy="67.91" r="1.88"/><circle cx="119.65" cy="72.37" r="1.8"/><circle cx="105.34" cy="73.15" r="1.92"/><circle cx="105.44" cy="79.67" r="2.06"/><circle cx="114.34" cy="52.43" r="2"/><circle cx="122.45" cy="60.68" r="1.51"/><circle cx="116.25" cy="85.82" r="1.33"/><circle cx="126.12" cy="63.05" r="1.58"/><circle cx="103.77" cy="62.73" r="1.54"/><circle cx="125.33" cy="92.08" r="1.49"/><circle cx="113.98" cy="56.69" r="2.15"/><circle cx="123.83" cy="65.42" r="2.09"/><circle cx="121.48" cy="62.74" r="1.58"/><circle cx="102.78" cy="84.66" r="1.89"/><circle cx="110.19" cy="68.8" r="1.66"/><circle cx="111.62" cy="72.96" r="2.12"/><circle cx="112.59" cy="82.41" r="1.71"/><circle cx="101.3" cy="83.77" r="1.54"/><circle cx="106.9" cy="83.34" r="1.52"/><circle cx="104.37" cy="84.95" r="1.81"/><circle cx="119.11" cy="77.19" r="1.54"/><circle cx="109.12" cy="54.12" r="1.83"/><circle cx="125.63" cy="91.75" r="2.11"/><circle cx="103.74" cy="81.43" r="1.66"/><circle cx="110.85" cy="52.95" r="1.5"/><circle cx="117.68" cy="54.17" r="2.2"/><circle cx="125.72" cy="96.42" r="1.76"/><circle cx="117.03" cy="62.23" r="1.38"/><circle cx="101.44" cy="65.21" r="1.34"/><circle cx="118.72" cy="90.41" r="1.4"/><circle cx="118.37" cy="61.22" r="1.86"/><circle cx="106.62" cy="80.4" r="2.01"/><circle cx="122.53" cy="81.26" r="1.68"/><circle cx="110.72" cy="81.39" r="1.36"/><circle cx="124.34" cy="83.18" r="1.64"/><circle cx="112.25" cy="79.53" r="2.2"/><circle cx="104.32" cy="71.84" r="1.78"/><circle cx="123.82" cy="74.24" r="2.17"/><circle cx="115.94" cy="88.4" r="2.07"/><circle cx="101.48" cy="72.19" r="1.31"/><circle cx="112.31" cy="56.15" r="1.95"/><circle cx="117.5" cy="62.57" r="1.91"/><circle cx="119.43" cy="75.13" r="1.78"/><circle cx="114.26" cy="61.56" r="1.54"/><circle cx="107.71" cy="55.12" r="1.88"/><circle cx="114.21" cy="53.6" r="1.4"/><circle cx="101.54" cy="71.62" r="1.69"/><circle cx="119.08" cy="60.12" r="1.71"/><circle cx="118.36" cy="77.9" r="2.16"/><circle cx="126.66" cy="90.51" r="2.09"/><circle cx="125.44" cy="66.04" r="1.54"/><circle cx="106.77" cy="71.28" r="1.75"/><circle cx="100.74" cy="80.63" r="1.46"/><circle cx="99.83" cy="71.36" r="2.12"/><circle cx="107.25" cy="67.82" r="2.08"/><circle cx="107.52" cy="56.25" r="1.57"/><circle cx="117.97" cy="65.13" r="1.88"/><circle cx="106.4" cy="65.63" r="1.85"/><circle cx="108.25" cy="78.5" r="1.44"/><circle cx="106.76" cy="55.48" r="1.99"/><circle cx="125.77" cy="72.23" r="1.79"/><circle cx="111.42" cy="58.68" r="2"/><circle cx="118.8" cy="86.07" r="1.78"/><circle cx="106.01" cy="81.29" r="1.3"/><circle cx="101.16" cy="65.74" r="1.59"/><circle cx="117.17" cy="75.56" r="1.32"/><circle cx="111.57" cy="77.59" r="2.14"/><circle cx="112.93" cy="62.88" r="2.09"/><circle cx="123.76" cy="89.85" r="2.05"/><circle cx="109.98" cy="70.13" r="1.58"/><circle cx="121.74" cy="58.45" r="1.35"/><circle cx="103.9" cy="67.49" r="2.09"/><circle cx="117.34" cy="66" r="2.15"/><circle cx="114.05" cy="75.63" r="1.38"/><circle cx="126.52" cy="78.97" r="1.74"/><circle cx="106.38" cy="81.65" r="1.36"/><circle cx="115.24" cy="65.16" r="1.98"/><circle cx="105.93" cy="82.72" r="1.99"/><circle cx="106.25" cy="58.61" r="1.42"/><circle cx="111.68" cy="75.09" r="1.73"/><circle cx="109.82" cy="77.21" r="1.79"/><circle cx="119.69" cy="56.77" r="1.54"/><circle cx="123.49" cy="67.97" r="2.09"/><circle cx="111.87" cy="67.97" r="1.68"/><circle cx="116.33" cy="87.84" r="1.49"/><circle cx="102.77" cy="74.29" r="1.79"/><circle cx="106.84" cy="63.58" r="1.96"/><circle cx="110.24" cy="81.3" r="1.48"/><circle cx="112.18" cy="84.92" r="1.58"/><circle cx="122.78" cy="97.59" r="2.2"/><circle cx="123.97" cy="84.87" r="1.88"/><circle cx="125.82" cy="94.81" r="1.69"/><circle cx="123.66" cy="72.23" r="1.77"/><circle cx="117.77" cy="69.07" r="1.41"/><circle cx="126.55" cy="76.21" r="1.5"/><circle cx="105.5" cy="71.41" r="1.6"/><circle cx="116.2" cy="68.81" r="1.83"/><circle cx="108.18" cy="81.47" r="1.51"/><circle cx="107.9" cy="74.39" r="1.5"/><circle cx="100.6" cy="65.92" r="1.36"/><circle cx="101.53" cy="74.1" r="1.87"/><circle cx="108.17" cy="68.86" r="1.51"/><circle cx="99.8" cy="73.72" r="2.11"/><circle cx="123.89" cy="61.9" r="2.07"/><circle cx="119.57" cy="88.16" r="1.36"/><circle cx="111.23" cy="67.42" r="1.51"/><circle cx="122.8" cy="90.4" r="1.9"/><circle cx="121.12" cy="81.17" r="1.49"/><circle cx="124.03" cy="83.73" r="1.42"/><circle cx="124.84" cy="67.64" r="2.14"/><circle cx="111.5" cy="65.6" r="1.81"/><circle cx="123.04" cy="67.61" r="1.73"/><circle cx="110.96" cy="78.42" r="2.01"/><circle cx="100.92" cy="64.69" r="2.03"/><circle cx="122.82" cy="87.02" r="1.47"/><circle cx="120.65" cy="75.61" r="1.39"/><circle cx="100.71" cy="67.53" r="1.69"/><circle cx="108.11" cy="66.24" r="1.68"/><circle cx="112.85" cy="58.83" r="1.72"/><circle cx="114.93" cy="55.87" r="1.96"/><circle cx="122.46" cy="91.75" r="1.91"/><circle cx="118.6" cy="77.97" r="2.19"/><circle cx="117.74" cy="72.23" r="1.39"/><circle cx="109.87" cy="77.52" r="1.66"/><circle cx="117.13" cy="68.03" r="1.61"/><circle cx="109.92" cy="66.89" r="2.08"/><circle cx="125.5" cy="97" r="1.52"/><circle cx="109.14" cy="56.53" r="1.47"/><circle cx="114.6" cy="73.13" r="1.7"/><circle cx="111.71" cy="80.12" r="1.68"/><circle cx="98.44" cy="78.28" r="1.55"/><circle cx="119.12" cy="77.58" r="1.52"/><circle cx="98.05" cy="78.41" r="2.13"/><circle cx="126.44" cy="84.21" r="1.7"/><circle cx="113.99" cy="68.82" r="2.08"/><circle cx="104.69" cy="72.79" r="1.8"/><circle cx="117.22" cy="76.2" r="1.35"/><circle cx="100.82" cy="62.17" r="2.2"/><circle cx="107.59" cy="83.59" r="2.05"/><circle cx="113.14" cy="75.78" r="2.17"/><circle cx="112.08" cy="51.65" r="2.13"/><circle cx="123.24" cy="84.97" r="2.06"/><circle cx="105.01" cy="79.12" r="1.45"/><circle cx="118.57" cy="63.94" r="1.74"/><circle cx="125.71" cy="66.98" r="1.49"/><circle cx="104.06" cy="63.2" r="1.66"/><circle cx="108.41" cy="63.98" r="1.35"/><circle cx="113.37" cy="51.08" r="1.64"/><circle cx="104.61" cy="69.83" r="2.19"/><circle cx="101.64" cy="80.37" r="1.54"/><circle cx="99.93" cy="70.71" r="2.01"/><circle cx="116.36" cy="87.28" r="1.71"/><circle cx="118.65" cy="89.27" r="1.68"/><circle cx="120.79" cy="90.24" r="2.16"/><circle cx="110.07" cy="58.75" r="2.2"/><circle cx="120.75" cy="86.39" r="1.8"/><circle cx="122.37" cy="68.46" r="1.95"/><circle cx="119.22" cy="86.82" r="1.44"/><circle cx="99.88" cy="65.25" r="1.57"/><circle cx="122.04" cy="61.35" r="2.17"/><circle cx="123.86" cy="82.53" r="1.82"/><circle cx="101.58" cy="66.59" r="1.79"/><circle cx="124.6" cy="65.76" r="1.97"/><circle cx="116.08" cy="75.09" r="1.35"/><circle cx="113.59" cy="75.42" r="1.83"/><circle cx="120.24" cy="65.12" r="1.75"/><circle cx="128.44" cy="95.89" r="2.07"/><circle cx="107.23" cy="56.65" r="1.44"/><circle cx="104.91" cy="67.6" r="2.16"/><circle cx="112.89" cy="71.74" r="1.37"/><circle cx="116.81" cy="86.01" r="1.47"/><circle cx="111.6" cy="75.02" r="1.84"/><circle cx="121.12" cy="87.59" r="1.91"/><circle cx="109.88" cy="82.03" r="1.51"/><circle cx="107.13" cy="75.51" r="1.41"/><circle cx="124.01" cy="86.62" r="2.1"/><circle cx="108.71" cy="77.72" r="1.52"/><circle cx="104.66" cy="75.4" r="1.84"/><circle cx="121.65" cy="65.86" r="1.86"/><circle cx="100.52" cy="79.72" r="1.68"/><circle cx="102.85" cy="67.35" r="1.83"/><circle cx="119.24" cy="88.15" r="1.77"/><circle cx="119.16" cy="65.92" r="2.14"/><circle cx="102.42" cy="68.34" r="1.48"/><circle cx="126.83" cy="91.93" r="1.94"/><circle cx="116.65" cy="85.75" r="1.51"/><circle cx="127.69" cy="97.03" r="1.66"/><circle cx="117.4" cy="84.78" r="1.9"/><circle cx="123.97" cy="93.34" r="1.57"/><circle cx="114.57" cy="78.47" r="1.58"/><circle cx="113.9" cy="79.81" r="1.98"/><circle cx="115.91" cy="89.87" r="1.37"/><circle cx="111.61" cy="56.14" r="1.71"/><circle cx="124.7" cy="81.03" r="2.2"/><circle cx="122.76" cy="91.26" r="2.2"/><circle cx="98.84" cy="77.36" r="1.37"/><circle cx="102.98" cy="64.4" r="1.49"/><circle cx="103.63" cy="75.91" r="1.54"/><circle cx="108.07" cy="54.29" r="2.14"/><circle cx="106.54" cy="49.76" r="1.72"/><circle cx="103.6" cy="40.52" r="1.72"/><circle cx="102.51" cy="49.25" r="1.36"/><circle cx="106.05" cy="47.29" r="1.21"/><circle cx="111.06" cy="45.87" r="1.68"/><circle cx="109.88" cy="42.02" r="1.59"/><circle cx="107.64" cy="56.5" r="1.53"/><circle cx="103.02" cy="44.65" r="1.79"/><circle cx="103.97" cy="40.89" r="1.56"/><circle cx="110.78" cy="54.7" r="1.11"/><circle cx="106.98" cy="40.68" r="1.67"/><circle cx="111.42" cy="53.27" r="1.31"/><circle cx="110.46" cy="45.92" r="1.56"/><circle cx="113.29" cy="51.35" r="1.76"/><circle cx="109.44" cy="49.73" r="1.19"/><circle cx="103.73" cy="48.2" r="1.18"/><circle cx="112.7" cy="52.31" r="1.17"/><circle cx="105.53" cy="54.75" r="1.49"/><circle cx="102.52" cy="44.02" r="1.29"/><circle cx="110.35" cy="49.78" r="1.52"/><circle cx="103.18" cy="42.01" r="1.6"/><circle cx="105.44" cy="55.09" r="1.24"/><circle cx="109.71" cy="41.07" r="1.54"/><circle cx="106.93" cy="40.86" r="1.28"/><circle cx="109.97" cy="42.2" r="1.44"/><circle cx="97.9" cy="30.14" r="1.16"/><circle cx="99.11" cy="82.45" r="1.14"/><circle cx="122.95" cy="80.27" r="0.84"/><circle cx="92.95" cy="41.36" r="0.97"/><circle cx="89.46" cy="27.81" r="0.91"/><circle cx="118.41" cy="75.54" r="0.8"/><circle cx="123.82" cy="81.5" r="1.11"/><circle cx="121.28" cy="74.08" r="1.05"/><circle cx="125.69" cy="96.52" r="0.9"/><circle cx="100.9" cy="72.66" r="1.1"/><circle cx="112.98" cy="44.86" r="1.02"/><circle cx="124.48" cy="71.5" r="0.97"/><circle cx="114.53" cy="63.82" r="0.8"/><circle cx="98.11" cy="45.45" r="0.83"/><circle cx="110.87" cy="50.58" r="1.15"/><circle cx="113.94" cy="63.66" r="1.16"/><circle cx="114.75" cy="61.58" r="1.02"/><circle cx="120.16" cy="95.06" r="1.13"/><circle cx="88.17" cy="31.36" r="1.03"/><circle cx="102.71" cy="70.69" r="0.86"/><circle cx="118.81" cy="57.65" r="0.85"/><circle cx="123" cy="52.81" r="0.92"/><circle cx="129.5" cy="79" r="1.92"/><circle cx="132.5" cy="83" r="1.84"/><circle cx="136" cy="88" r="1.89"/><circle cx="139" cy="91" r="1.92"/><circle cx="141.8" cy="92.8" r="1.37"/><circle cx="144.5" cy="96" r="1.4"/><circle cx="147.5" cy="99" r="1.28"/><circle cx="150.5" cy="103" r="1.82"/><circle cx="153" cy="106" r="1.91"/><circle cx="156" cy="110" r="1.53"/><circle cx="158.5" cy="112" r="1.7"/><circle cx="135.5" cy="86" r="1.32"/><circle cx="121.8" cy="112.5" r="1.46"/><circle cx="151.4" cy="137.7" r="1.42"/><circle cx="152.3" cy="142.6" r="1.49"/><circle cx="153.7" cy="147.9" r="1.39"/><circle cx="156.5" cy="152.8" r="1.43"/><circle cx="166.5" cy="132.6" r="0.91"/><circle cx="168.8" cy="183" r="1.34"/><circle cx="170.2" cy="186.5" r="1.1"/><circle cx="171.5" cy="190.2" r="1.46"/><circle cx="171" cy="194" r="1.38"/><circle cx="173.8" cy="201.5" r="1.42"/><circle cx="147" cy="157.8" r="1.39"/><circle cx="165.4" cy="120" r="1.06"/><circle cx="160.3" cy="131" r="1.37"/><circle cx="169" cy="140" r="0.96"/><circle cx="150" cy="121" r="1.42"/></g>
<use href="#mout"/>
<use href="#mdia"/>
<g fill="#fb9470"><circle cx="169.10000000000002" cy="31.9" r="0.9"/><circle cx="178.39999999999998" cy="29.6" r="3.3"/><circle cx="191.10000000000002" cy="27.3" r="5.8"/></g>
<text x="169.60000000000002" y="41.1" font-size="8" text-anchor="middle" fill="#111" stroke="#111" stroke-width="0.12" font-family="Liberation Sans, sans-serif">1</text>
<text x="177.89999999999998" y="41.1" font-size="8" text-anchor="middle" fill="#111" stroke="#111" stroke-width="0.12" font-family="Liberation Sans, sans-serif">34</text>
<text x="190.3" y="41.1" font-size="8" text-anchor="middle" fill="#111" stroke="#111" stroke-width="0.12" font-family="Liberation Sans, sans-serif">68</text>
<text x="165.3" y="51.8" font-size="8.3" fill="#111" stroke="#111" stroke-width="0.12" font-family="Liberation Sans, sans-serif">Sample no.</text>
<text x="49" y="20.8" font-size="8.2" fill="#111" stroke="#111" stroke-width="0.12" font-family="Liberation Sans, sans-serif">Myanmar</text>
<text x="59.6" y="64.9" font-size="8.3" font-style="italic" fill="#ff0000" font-family="Liberation Sans, sans-serif">Hpapun</text>
<text x="146.4" y="92.5" font-size="8.45" font-style="italic" fill="#111" stroke="#111" stroke-width="0.12" font-family="Liberation Sans, sans-serif">Hlaingbwe</text>
<text x="177" y="126.4" font-size="8.25" font-style="italic" fill="#111" stroke="#111" stroke-width="0.12" font-family="Liberation Sans, sans-serif">Myawaddy</text>
<text x="178.8" y="197.6" font-size="8.1" font-style="italic" fill="#111" stroke="#111" stroke-width="0.12" font-family="Liberation Sans, sans-serif">Kawkareik</text>
<text x="188.9" y="233" font-size="8.15" fill="#111" stroke="#111" stroke-width="0.12" font-family="Liberation Sans, sans-serif">Thailand</text>
<g>
<circle cx="65.9" cy="206.8" r="7.6" fill="none" stroke="#555" stroke-width="0.9"/>
<path d="M65.9,206.8 L67.46,210.19 L71.13,212.03 L69.29,208.36 Z" fill="none" stroke="#555" stroke-width="0.6"/>
<path d="M65.9,206.8 L62.51,208.36 L60.67,212.03 L64.34,210.19 Z" fill="none" stroke="#555" stroke-width="0.6"/>
<path d="M65.9,206.8 L64.34,203.41 L60.67,201.57 L62.51,205.24 Z" fill="none" stroke="#555" stroke-width="0.6"/>
<path d="M65.9,206.8 L69.29,205.24 L71.13,201.57 L67.46,203.41 Z" fill="none" stroke="#555" stroke-width="0.6"/>
<path d="M67,206.8 L65.9,195.3 L64.8,206.8 Z" fill="#555"/>
<path d="M64.8,206.8 L65.9,218.3 L67,206.8 Z" fill="#555"/>
<path d="M65.9,207.9 L78.1,206.8 L65.9,205.7 Z" fill="#555"/>
<path d="M65.9,205.7 L53.7,206.8 L65.9,207.9 Z" fill="#555"/>
<text x="66.4" y="194.2" font-size="7.6" text-anchor="middle" fill="#222" font-family="Liberation Sans, sans-serif">N</text>
</g>
<rect x="50.3" y="226.5" width="31.5" height="5.2" fill="#000"/>
<rect x="60.8" y="227.5" width="10.5" height="3.2" fill="#fff"/>
<text x="85" y="232.1" font-size="8.4" fill="#111" stroke="#111" stroke-width="0.12" font-family="Liberation Sans, sans-serif">60 km</text>
</g>
<rect x="45.5" y="10" width="180" height="227" fill="none" stroke="#888" stroke-width="0.9"/>
</g>
<defs><clipPath id="mclip3"><rect x="453.6" y="10" width="180" height="227"/></clipPath><filter id="terr" x="250" y="-150" width="500" height="600" filterUnits="userSpaceOnUse" color-interpolation-filters="sRGB">
<feGaussianBlur in="SourceGraphic" stdDeviation="1.2" result="b"/>
<feTurbulence type="fractalNoise" baseFrequency="0.22 0.075" numOctaves="4" seed="11" result="t"/>
<feColorMatrix in="t" type="matrix" values="1 0 0 0 0  1 0 0 0 0  1 0 0 0 0  0 0 0 0 1" result="tn"/>
<feComposite in="b" in2="tn" operator="arithmetic" k1="1.9" k2="0.05" k3="0" k4="0" result="e"/>
<feComponentTransfer in="e">
<feFuncR type="table" tableValues="1.000 0.969 0.929 0.878 0.816 0.698 0.533 0.384 0.298 0.318 0.584 0.831 0.976 1.000 1.000 1.000 1.000 0.949 0.749 0.584 0.416 0.216 0.149 0.149 0.149 0.149"/>
<feFuncG type="table" tableValues="1.000 0.969 0.929 0.878 0.831 0.784 0.698 0.624 0.576 0.584 0.749 0.878 0.945 0.816 0.651 0.451 0.251 0.149 0.149 0.149 0.149 0.149 0.149 0.149 0.149 0.149"/>
<feFuncB type="table" tableValues="1.000 0.969 0.929 0.878 0.812 0.682 0.502 0.345 0.267 0.235 0.200 0.200 0.169 0.149 0.149 0.149 0.149 0.251 0.482 0.682 0.882 1.000 0.816 0.616 0.384 0.216"/>
<feFuncA type="linear" slope="0" intercept="1"/>
</feComponentTransfer>
</filter>
<filter id="soft" x="250" y="-150" width="500" height="600" filterUnits="userSpaceOnUse"><feGaussianBlur stdDeviation="4"/></filter></defs>
<g clip-path="url(#mclip3)">
<rect x="453.6" y="10" width="180" height="227" fill="#fff"/>
<defs><clipPath id="landclip"><path clip-rule="evenodd" d="M440,0 L650,0 L650,250 L440,250 Z M453.7,159.5 459.4,154.6 461.5,150.5 467.1,152.6 474.0,150.5 479.6,146.3 482.3,142.2 485.1,136.6 487.9,131.1 490.0,126.9 492.0,121.4 493.4,115.8 492.7,110.3 491.3,105.4 492.7,104.6 494.8,107.5 497.6,113.0 499.0,118.6 501.0,125.5 502.4,128.3 503.1,122.7 503.8,117.2 505.2,116.5 506.6,122.7 508.7,131.1 509.4,138.0 511.5,142.2 514.2,143.5 516.3,147.7 517.7,151.2 521.2,151.9 525.3,150.5 528.8,149.1 530.2,144.9 531.6,143.5 532.3,147.7 530.9,153.3 530.2,158.8 529.5,168.5 528.7,175.0 530.2,180.0 532.7,186.0 534.7,195.0 536.2,203.0 537.2,208.6 539.0,222.6 540.8,237.5 453.2,237.5 453.2,159.5 Z"/></clipPath></defs>
<g clip-path="url(#landclip)">
<g transform="rotate(-21,543.6,123.5)"><g filter="url(#terr)"><g transform="rotate(21,543.6,123.5)">
<rect x="430" y="-20" width="230" height="290" fill="#000"/>
<g filter="url(#soft)">
<polygon points="453.6,10 482,10 478,40 470,70 462,100 455,130 453.6,150" fill="rgb(27,27,27)"/>
<polygon points="500,60 530,40 545,80 560,130 575,190 590,238 520,238 510,180 505,120" fill="rgb(26,26,26)"/>
<polygon points="590,20 615,30 625,120 634,140 634,238 600,238 595,150 590,80" fill="rgb(22,22,22)"/>
<polygon points="483,10 517,10 516,30 513,50 509,70 507,92 503,96 499,75 493,55 487,35" fill="rgb(96,96,96)"/>
<polygon points="533,10 600,10 595,30 587,50 584,62 589,76 598,96 606,110 607,125 600,134 585,134 574,123 562,110 550,89 541,63 536,36" fill="rgb(87,87,87)"/>
<polygon points="579.8,121 601,123.6 616.8,142.1 624.7,168.5 627.4,195 624.7,238 579.8,238 582.5,216 585,195 585,168.5 582.5,147.4" fill="rgb(81,81,81)"/>
<polygon points="615,10 634,10 634,110 622,100 618,70 615,40" fill="rgb(39,39,39)"/>
<polygon points="605,150 634,140 634,238 625,238 618,200" fill="rgb(37,37,37)"/>
</g>
<polyline points="545,8 546.5,30 548,50 550,68" fill="none" stroke="rgb(18,18,18)" stroke-width="6" stroke-linecap="round" stroke-linejoin="round"/>
<polyline points="523,60 528,72 533,88" fill="none" stroke="rgb(84,84,84)" stroke-width="4" stroke-linecap="round" stroke-linejoin="round"/>
<polyline points="518,10 524,20" fill="none" stroke="rgb(71,71,71)" stroke-width="8" stroke-linecap="round" stroke-linejoin="round"/>
<polyline points="585,10 592,25" fill="none" stroke="rgb(92,92,92)" stroke-width="8" stroke-linecap="round" stroke-linejoin="round"/>
<polyline points="592,50 595,62" fill="none" stroke="rgb(71,71,71)" stroke-width="3" stroke-linecap="round" stroke-linejoin="round"/>
<polyline points="597,80 602,92" fill="none" stroke="rgb(76,76,76)" stroke-width="3" stroke-linecap="round" stroke-linejoin="round"/>
<polyline points="592,170 597,185 600,205" fill="none" stroke="rgb(31,31,31)" stroke-width="3" stroke-linecap="round" stroke-linejoin="round"/>
<polyline points="620,10 632,25" fill="none" stroke="rgb(92,92,92)" stroke-width="10" stroke-linecap="round" stroke-linejoin="round"/>
<polyline points="618,30 625,55 630,85" fill="none" stroke="rgb(76,76,76)" stroke-width="4" stroke-linecap="round" stroke-linejoin="round"/>
<polyline points="612,80 620,100 628,120" fill="none" stroke="rgb(71,71,71)" stroke-width="4" stroke-linecap="round" stroke-linejoin="round"/>
<polyline points="548,95 554,108 560,120" fill="none" stroke="rgb(87,87,87)" stroke-width="7" stroke-linecap="round" stroke-linejoin="round"/>
<polyline points="568,135 574,148 579,160 583,172 586,180" fill="none" stroke="rgb(87,87,87)" stroke-width="7" stroke-linecap="round" stroke-linejoin="round"/>
<polyline points="622,205 628,235" fill="none" stroke="rgb(92,92,92)" stroke-width="6" stroke-linecap="round" stroke-linejoin="round"/>
<polyline points="574,204 580,214" fill="none" stroke="rgb(61,61,61)" stroke-width="8" stroke-linecap="round" stroke-linejoin="round"/>
<polyline points="493,12 498,20 503,30 508,42 511,52" fill="none" stroke="rgb(97,97,97)" stroke-width="10" stroke-linecap="round" stroke-linejoin="round"/>
<polyline points="496,16 500,24 505,34 509,46" fill="none" stroke="rgb(117,117,117)" stroke-width="4" stroke-linecap="round" stroke-linejoin="round"/>
<polyline points="555,10 559,25 562,40 565,55" fill="none" stroke="rgb(102,102,102)" stroke-width="9" stroke-linecap="round" stroke-linejoin="round"/>
<polyline points="556,12 560,27 563,42" fill="none" stroke="rgb(117,117,117)" stroke-width="4" stroke-linecap="round" stroke-linejoin="round"/>
<polyline points="577,10 578,25 580,40 582,52" fill="none" stroke="rgb(107,107,107)" stroke-width="6" stroke-linecap="round" stroke-linejoin="round"/>
<polyline points="577.5,14 578.5,27 580,40" fill="none" stroke="rgb(128,128,128)" stroke-width="3" stroke-linecap="round" stroke-linejoin="round"/>
<polyline points="558,69 563,80 570,95" fill="none" stroke="rgb(102,102,102)" stroke-width="8" stroke-linecap="round" stroke-linejoin="round"/>
<polyline points="560,72 565,84" fill="none" stroke="rgb(117,117,117)" stroke-width="3" stroke-linecap="round" stroke-linejoin="round"/>
<polyline points="579,92 583,103" fill="none" stroke="rgb(112,112,112)" stroke-width="4" stroke-linecap="round" stroke-linejoin="round"/>
<polyline points="551,100 557,114" fill="none" stroke="rgb(112,112,112)" stroke-width="3" stroke-linecap="round" stroke-linejoin="round"/>
<polyline points="571,145 577,158 581,170" fill="none" stroke="rgb(117,117,117)" stroke-width="3" stroke-linecap="round" stroke-linejoin="round"/>
<polyline points="597,135 601,148 605,160 609,175 611,192" fill="none" stroke="rgb(102,102,102)" stroke-width="8" stroke-linecap="round" stroke-linejoin="round"/>
<polyline points="600,142 603,152 606,163 609,177" fill="none" stroke="rgb(122,122,122)" stroke-width="3" stroke-linecap="round" stroke-linejoin="round"/>
<polyline points="588,222 595,232" fill="none" stroke="rgb(107,107,107)" stroke-width="8" stroke-linecap="round" stroke-linejoin="round"/>
<circle cx="498.7" cy="19.4" r="1.1" fill="rgb(194,194,194)"/>
<circle cx="578.4" cy="32.6" r="1.0" fill="rgb(224,224,224)"/>
<circle cx="609" cy="171.5" r="1.0" fill="rgb(204,204,204)"/>
<circle cx="591.5" cy="227" r="2.5" fill="rgb(138,138,138)"/>
<circle cx="577" cy="160" r="1" fill="rgb(138,138,138)"/>
<circle cx="563" cy="42" r="1" fill="rgb(138,138,138)"/>
<circle cx="559" cy="20" r="1" fill="rgb(138,138,138)"/>
<circle cx="506" cy="38" r="1" fill="rgb(138,138,138)"/>
<circle cx="627" cy="18" r="1.2" fill="rgb(122,122,122)"/>
<circle cx="582" cy="99" r="1" fill="rgb(138,138,138)"/>
<circle cx="565" cy="85" r="1" fill="rgb(138,138,138)"/>
</g></g></g></g>
<path d="M633.28,10 L633.6,10.22 M633.6,179.98 L630.38,179.98 M612.48,207.93 L611.21,211.08 L610.33,214.59 L610.12,218.64 L608.72,222.2 M633.6,230.42 L630.34,232.23 L627.34,234.74 L624.74,236.69 M633.6,128.94 L633.09,127.81 M633.6,127.47 L633.09,127.81 M614.13,133.36 L617.26,131.24 L619.7,129.29 L623.15,127.74 L625.55,125.79 M617.62,159.46 L617.73,159.54 M633.09,127.81 L629.64,126.81 L625.55,125.79 M470.85,128.35 L472.82,125.19 L473.71,122.04 L475.59,119.33 M466.8,129.37 L464.67,127.37 L462.72,124.44 M467.04,113.37 L465.68,117.04 L464.04,120.91 L462.72,124.44 M467.04,113.37 L467.35,113.23 M467.35,113.23 L469.6,115.69 L473.08,117.11 L475.59,119.33 M453.6,110.95 L454.22,111.19 M454.22,111.19 L454.7,110.88 M454.7,110.88 L455.57,106.81 L457.4,102.97 L458.12,99.46 M455.77,96.79 L458.12,99.46 M588.62,218.32 L586.67,220.65 L583.83,223.12 L581.04,226.49 L578.92,228.7 M588.62,218.32 L591.49,219.19 L593.76,221.32 L597.37,221.72 L599.7,222.96 L602.44,224.59 M602.44,224.59 L601.21,227.28 L599.62,231 L598.17,234.16 L596.55,237 M579.35,233.55 L578.92,228.7 M624.68,237 L624.74,236.69 M581.66,167.89 L584.78,168.73 L588,168.85 L591.26,169.4 M633.6,35.41 L630.72,37.24 L628.4,38.89 L625.76,40.71 L623.52,42.91 L621.18,44.41 M621.18,44.41 L620.95,44.24 M470.85,128.35 L474.18,130.05 L478.41,132.22 M466.8,129.37 L465.37,133.25 M476.16,140.67 L472.57,140.94 L468.88,140.33 M453.68,88.4 L453.57,85.42 L453.5,82.07 L453.66,78.4 M453.68,88.4 L453.6,88.4 M453.66,78.4 L453.6,78.38 M454.99,89.67 L453.68,88.4 M454.99,89.67 L455.66,93.52 L455.77,96.79 M462.72,124.44 L458.15,123.78 M454.22,111.19 L453.6,114.03 M453.6,117.32 L455.75,120.28 L458.15,123.78 M467.35,113.23 L468.75,109.54 L470.24,106.84 M484.38,111.51 L481.51,109.58 L479.24,107.13 L476.09,104.25 M484.38,111.51 L482.59,114.97 L481.26,118.41 M475.59,119.33 L481.26,118.41 M476.09,104.25 L473.55,105.23 L470.24,106.84 M458.12,99.46 L462.42,99.56 M470.24,106.84 L467.38,104.54 L465.45,101.65 L462.42,99.56 M560.83,232.95 L563.62,237 M560.83,232.95 L557.01,232.16 L553.96,231.44 M553.96,231.44 L551.09,233.46 L549.01,236.32 M549.19,237 L549.01,236.32 M612.48,207.93 L609.79,205.86 L607.65,203.67 L605.4,201.78 L602.51,199.66 L600.22,197.37 L598.03,194.89 M588.62,218.32 L587.04,212.92 M587.04,212.92 L588.81,210.08 L590.17,207.79 L592,205.65 L593.4,202.18 L594.55,200.45 L596.32,197.83 L598.03,194.89 M484.92,124.68 L490.8,124.69 M484.92,124.68 L483.46,128.11 L482.4,130.87 M482.4,130.87 L486.07,134.69 M481.26,118.41 L482.69,121.44 L484.92,124.68 M478.41,132.22 L482.4,130.87 M458.15,123.78 L455.67,126.22 L453.6,128.39 M453.6,134.19 L457.9,136.37 M454.99,89.67 L459.58,88.46 L463.33,86.65 M462.42,99.56 L464.94,97.3 L467.55,94.61 L469.65,92.1 M463.33,86.65 L466.88,89.24 L469.65,92.1 M498.85,118.01 L501.67,114.79 L505.07,111.99 M507.36,125.75 L509.59,123.63 L512.16,121.7 M511.43,112.76 L507.87,112.01 L505.07,111.99 M509.37,137.71 L510.2,136.75 M484.38,111.51 L489.48,109.92 M614.13,133.36 L611.46,132.68 L608.26,131.41 L605.02,130.41 L602.41,129.71 L599.38,128.77 M590.16,141.13 L592.29,137.9 L594.74,134.95 L596.9,132.57 L598.73,129.08 M598.73,129.08 L599.38,128.77 M609.57,17.13 L607.26,16.58 M596.94,47.93 L594.6,44.64 L591.15,42.2 L588.84,39.12 M588.84,39.12 L590.16,36.08 L592.86,33.34 L593.83,30.27 L595.73,27.73 L598.24,25.09 L599.99,22.25 L601.39,19.43 M577.77,17.52 L579.07,13.32 L579.65,10 M577.77,17.52 L577.79,17.55 M603.32,10 L605.1,13.17 L607.26,16.58 M577.79,17.55 L581.01,17.81 L584.67,17.94 L588.4,18.68 L591.65,19.07 L594.2,18.81 L598.09,18.81 L601.39,19.43 M577.77,17.52 L573.15,16.81 L569.31,16.43 M566.45,10 L566.75,14.46 M569.31,16.43 L566.75,14.46 M555.06,12.34 L554.63,10 M555.06,12.34 L551.31,13.53 L547.32,14.07 L544.07,14.95 M544.07,14.95 L543.1,10 M557.79,14.4 L562.27,14.28 L566.75,14.46 M557.79,14.4 L555.06,12.34 M532.02,10 L533.04,12.58 L534.14,15.79 M544.07,14.95 L543.69,15.6 M543.69,15.6 L540.16,15.5 L536.92,15.89 L534.14,15.79 M527.34,23.57 L525.36,20.58 L523.34,18.29 L522.45,15.44 L520.3,12.3 M527.34,23.57 L528.68,23.83 M462.96,10 L462.54,13.28 M466.7,17.1 L462.54,13.28 M477.15,10 L479.55,13.16 M479.78,18.72 L483.2,18.88 L485.96,19.42 L489.19,19.86 L492.7,20.77 M479.78,18.72 L478.91,16.55 M492.7,20.77 L492.74,17.78 L493.24,14.19 L493.85,11.59 M479.55,13.16 L483.98,10 M489.8,10 L493.85,11.59 M541.76,235.15 L540.61,235.96 M568.32,220.95 L567.78,219.6 M567.78,219.6 L568.15,216.53 M574.56,208.54 L572.78,211.47 L570.28,213.64 L568.15,216.53 M566.01,192.92 L569,195.56 L571.24,197.47 M571.24,197.47 L572.15,197.73 M572.15,197.73 L575.08,196.09 L578.51,193.35 L581.39,191.37 M581.39,191.37 L580.39,188.15 L579.43,185.25 L577.84,181.9 L576.24,178.54 L575.37,176.05 L574.05,172.77 M574.05,172.77 L570.87,172.91 L566.73,172.39 M564.42,174.86 L563.5,177.67 M574.56,208.54 L573.39,204.58 L572.86,201.5 L572.15,197.73 M581.66,167.89 L578.62,169.37 L576.35,171.29 L574.05,172.77 M562.26,163.54 L562.97,159.62 L564.18,156.75 L565.55,153.71 L566.71,149.83 M562.26,163.54 L563.32,166.87 L565.69,169.76 L566.73,172.39 M566.71,149.83 L569.77,150.91 L573.05,151.83 L576.98,152.93 L579.78,153.45 M567.18,104.35 L569.63,106.69 L571.93,108.76 L573.66,110.02 L576.62,112.8 L578.69,114.39 M567.18,104.35 L564.36,107.54 L562.54,109.89 L559.71,112.49 M559.71,112.49 L559.48,115.81 L560.6,119.51 L560.4,122.88 M578.93,118.5 L577.04,121.51 L574.81,123.51 L572.42,126.35 L570.69,128.61 M590.16,141.13 L587.25,139.39 L584.28,138.97 L580.33,137.6 L577.18,135.98 L574.45,134.41 L571.28,133.27 M565.06,146.65 L566.71,149.83 M565.06,146.65 L565.45,141.6 M565.45,141.6 L567.53,139.31 L569.27,136.38 L571.28,133.27 M570.69,128.61 L571.28,133.27 M543.56,122.58 L546.79,124.08 L550.59,124.38 L554.67,125.64 M541.83,128.97 L543.51,132.58 L546.16,135.1 L547.67,138.57 M554.67,125.64 L554.2,128.62 L554.28,131.99 L553.56,135.81 M543.34,122.16 L544.99,119.2 L547.22,116.75 L549.06,114.23 L550.52,110.98 M537.03,142.46 L540.75,143.38 L545.37,143.52 M565.45,141.6 L562.71,140.52 L559.31,138.68 L556.03,137.42 L553.56,135.81 M548.26,149.91 L552.12,148.82 L554.7,148.83 L558.48,147.68 L561.68,147.7 L565.06,146.65 M510.2,136.75 L514.09,135.74 L517.33,135.51 M523.12,139.13 L520.51,137.23 L517.33,135.51 M537.03,142.46 L534.78,146.15 L531.82,149.61 M523.48,145.38 L525.97,146.7 L529.07,148.28 M523.12,139.13 L525.98,137.33 L528.69,135.9 L531.97,134.99 M512.16,121.7 L514.77,122.36 L518.58,123.61 L521.13,124.57 M517.33,135.51 L518.51,131.48 L520.1,128.27 L521.13,124.57 M478.17,143.14 L476.99,148.26 M476.16,140.67 L478.17,143.14 M470.75,151.49 L468.11,149.02 L465.08,147.4 M468.88,140.33 L466.86,143.63 L465.08,147.4 M553.96,231.44 L553.06,228.25 L551.72,224.53 L551.17,221.27 M541.76,235.15 L541.19,232.3 L540.71,229.21 L540.32,225.53 M551.17,221.27 L547.52,223.08 L544.11,224.6 L540.32,225.53 M567.78,219.6 L564.78,219.83 L561.53,219.96 L558.17,220.11 L554.98,220.88 L551.21,221.19 M469.65,92.1 L471.98,92 M476.52,102.46 L474.86,99 L473.11,95.37 L471.98,92 M489.48,109.92 L491.54,106.25 M505.07,111.99 L503.37,108.47 L501.81,105.47 M493.29,105.42 L497.68,105.4 L501.81,105.47 M527.34,23.57 L525.05,25.43 L521.91,26.26 L519.25,27.71 M512.46,22.41 L515.55,25.36 L519.25,27.71 M479.78,18.72 L479.41,21.45 L478.24,25.19 L478.11,28.33 M466.7,17.1 L466.37,20.4 L465.79,23 L465.7,26.4 L465.84,29.59 M465.84,29.59 L469.27,29.58 L471.91,28.52 L475.28,28.75 L478.11,28.33 M453.6,38.97 L455.91,40.19 M453.6,26.42 L454.53,25.33 M454.53,25.33 L457.99,27.05 L461.98,29 L465.18,30.08 M455.91,40.19 L459.97,38.79 L464.09,36.81 M472.49,78.45 L472.8,75.74 M466.29,67.01 L462.78,69.52 L459,72.25 M458.37,75.17 L459,72.25 M463.33,86.65 L463.73,84.06 L464.89,80.78 M478.33,85.65 L476.36,82.92 L474.03,80.64 L472.49,78.45 M453.66,78.4 L458.37,75.17 M453.6,66.71 L456.01,69.53 L459,72.25 M574.86,56.15 L570.99,54.77 L567.93,53.32 L564.36,52.6 M574.86,56.15 L576.12,53.19 L577.3,49.91 L578.33,47.26 L578.51,44.33 L580.53,41.37 L581.08,38.51 M564.36,52.6 L564.9,49.9 L565.45,46.24 L565.95,43.24 L565.61,40.32 L566.24,36.85 M562.65,53.11 L564.36,52.6 M562.65,53.11 L560.22,51.78 L557.48,50.04 L555.68,48.08 L552.76,46.28 M577.79,17.55 L577.68,20.32 L577.6,23.99 L578.29,26.79 L578.43,29.91 L578.13,33.61 L578.45,36.26 M560.8,33.73 L560.34,33.01 M560.34,33.01 L561.53,30.5 L563.07,27.32 L565.3,24.6 L566.27,21.65 L568.15,19.28 L569.31,16.43 M588.84,39.12 L584.77,38.65 L581.08,38.51 M596.94,47.93 L595.93,50.32 L594.52,53.25 L593.21,56.29 L592.77,59.75 L591.09,62.56 L590.4,65.22 M574.86,56.15 L576.56,59.45 L578.15,61.65 L579.86,65.07 M540.17,28.71 L542.82,25.9 L544.85,22.94 M540.17,28.71 L543.55,32.25 L546.22,35.28 M544.85,22.94 L549.44,23.58 L553.54,24.8 M546.22,35.28 L549.39,34.18 L551.71,33.15 L555.19,32.58 L558.03,31.84 M543.69,15.6 L544.06,19.2 L544.85,22.94 M534.02,29.6 L537.1,29.37 L540.17,28.71 M454.96,17.56 L453.6,20.7 M462.54,13.28 L459.24,15.77 L454.96,17.56 M465.84,29.59 L465.18,30.08 M512.48,10.22 L512.42,10 M566.01,192.92 L563.01,193.38 L560.01,193.02 L556.37,193.21 M563.5,177.67 L561.43,179.17 L558.41,181.35 L556.24,183.76 L554.2,185.03 L551.75,187.1 M556.37,193.21 L554.21,190.21 L551.75,187.1 M543.34,122.16 L540.68,120.64 M540.68,120.64 L537.19,121.13 L533.46,122.23 L530.75,122.76 L526.91,122.9 M521.13,124.57 L525.69,122.23 M525.69,122.23 L526.91,122.9 M511.43,112.76 L513.34,111.24 M513.34,111.24 L516.97,112.12 L521.11,112.49 L524.78,112.69 M531.79,149.76 L532.62,154.26 M532.62,154.26 L530.59,155.77 M453.6,156.99 L455.45,157.99 M457.35,156.36 L459.14,152.39 L460.42,148.35 M457.9,136.37 L457.56,139.61 L457.98,142.34 L457.92,145.55 M504.8,32.69 L505.66,29.85 L507.3,26.92 L508.22,23.79 M504.8,32.69 L504.09,32.89 M502.96,19.46 L505.72,22.07 L508.22,23.79 M502.96,19.46 L500.12,20.87 L497.05,22.4 L494.52,23.22 M494.52,23.22 L494.47,27.04 M519.25,27.71 L518.17,31.3 M518.17,31.3 L515.63,32.49 L512.32,33.71 L509.87,34.99 M503.64,14.01 L502.96,19.46 M492.7,20.77 L494.52,23.22 M478.11,28.33 L479.29,29.87 M453.6,61.53 L454.92,58.67 M454.92,58.67 L457.99,59.67 L461.45,61.08 L464.32,61.96 L467.27,63.07 M454.92,58.67 L453.6,53.59 M455.91,40.19 L455.57,44.03 L455.52,47.03 L455.71,50.81 M453.6,52.87 L455.71,50.81 M467.37,41 L466.44,44.42 L466.34,46.88 L465.29,50.23 M455.71,50.81 L458.93,50.76 L461.63,50.49 L465.29,50.23 M513.34,111.24 L513.63,107.33 L513.1,103.82 L513.49,99.55 M501.81,105.47 L503.42,102.32 L505.02,99.91 M505.02,99.91 L508.98,98.97 L512.65,98.47 M546.77,74.48 L543.6,75.84 L539.41,77.36 L536.46,78.08 M546.77,74.48 L549.01,77.13 L550.26,80.19 L552.22,82.32 M545.03,89.85 L542.16,87.3 L539.19,85.96 L535.8,83.72 M535.8,83.72 L535.34,82.06 M536.46,78.08 L535.34,82.06 M547.99,71.41 L545.9,68.83 L545.19,65.8 L543.16,63.42 M558.23,67.3 L557.3,64.43 L557.22,60.77 M557.22,60.77 L553.19,59.37 L549.69,58.38 L546.38,56.98 M546.38,56.98 L544.98,59.91 L543.16,63.42 M610.75,73.89 L611.89,76.25 L614.1,79.87 L615.76,82.09 L616.88,84.64 L618.99,87.21 L620.6,90.28 L622.2,93.11 M598.19,72.47 L596.34,74.97 L595.51,78.42 L594.05,81.5 L592.12,84.24 L591.24,86.37 L589.35,90.11 L588.14,92.5 M618.99,98.64 L622.04,94.59 M602.55,104.54 L598.64,102.92 L594.67,101.45 M622.04,94.59 L622.2,93.11 M633.6,84.06 L630.58,86.71 L627.55,88.51 L624.95,90.55 L622.2,93.11 M623.86,51.34 L621.98,53.79 L620.91,56.69 L619.21,59.35 L617.51,63.1 L615.34,65.22 L614.26,68.52 L612.83,70.8 L610.75,73.89 M590.4,65.22 L592.59,67.58 L595.6,70.2 L598.19,72.47 M625.55,125.79 L624.81,123.1 L624.43,119.37 L623,117.1 L622.72,114.1 L622.38,111.07 L621.53,107.55 L620.26,104.63 L619.69,101.48 L618.99,98.64 M599.38,128.77 L599.7,125.6 L600.35,123.15 L600.19,119.91 L600.58,116.3 L601.22,113.69 L601.9,110.65 L602.62,107.25 L602.55,104.54 M578.69,114.39 L581.17,111.77 L584.04,109.62 L586.63,107.89 L589.84,105.79 L592.42,103.84 L594.67,101.45 M566.16,73.54 L569.93,73.39 L572.74,72.79 M566.16,73.54 L564.43,75.99 L561.91,79.24 M561.91,79.24 L562.26,82.25 L563.35,85.3 L563.18,88 L564.08,91.03 L564.05,94.24 L564.75,97.48 M566.79,98.86 L564.75,97.48 M558.23,67.3 L560.5,69.62 L563.2,71.15 L566.16,73.54 M579.86,65.07 L577.36,67.84 L575.29,70.3 L572.74,72.79 M547.99,71.41 L546.77,74.48 M552.22,82.32 L555.73,81.45 L559.12,80.12 L561.91,79.24 M588.14,92.5 L585.02,92.04 L582.04,91.68 L578.97,90.73 M561.52,96.85 L558.79,94.91 L556.26,91.71 L553.49,89.44 L550.45,87.25 M561.52,96.85 L564.75,97.48 M567.18,104.35 L566.79,98.86 M568.15,216.53 L565.59,214.37 L562.66,212.09 L559.48,209.89 L556.94,207.86 M550.72,218.91 L552.55,216.45 L553.54,213.35 L554.98,210.57 L556.94,207.86 M571.24,197.47 L568.39,199.35 L565.75,200.87 L562.16,203.13 L559.12,204.96 L556.62,206.35 M556.37,193.21 L554.44,196.18 L552.99,198.92 L552,202.52 M556.62,206.35 L556.94,207.86 M536.62,110.32 L532.03,109.25 L527.89,108.47 M536.62,110.32 L539.73,108.23 L542.86,105.63 L545.23,102.81 M545.25,102.57 L545.23,102.81 M529.78,96.75 L528.07,99.79 L526.93,102.21 M540.68,120.64 L539.2,116.7 L538.18,113.38 L536.62,110.32 M524.78,112.69 L527.89,108.47 M561.52,96.85 L558.15,98.06 L554.68,98.97 L551.35,99.81 L548.39,101.7 L545.25,102.57 M545.03,89.85 L544.05,92.97 L544.45,95.91 L543.48,99.35 M535.8,83.72 L533.75,86.34 L532.93,89.41 L530.83,92.08 L529.5,95.16 M537.22,156.51 L541.01,154.85 L544.21,154.2 L547.57,152.3 M546.08,167.31 L548.63,164.48 L551.5,161.12 M551.5,161.12 L549.83,158.45 L548.68,155.06 L547.57,152.3 M532.62,154.26 L537.22,156.51 M529.54,167.95 L531.02,170.45 M531.02,170.45 L533.2,168.75 L535.68,166.6 L538.44,164.55 M548.26,149.91 L547.57,152.3 M564.42,174.86 L561.1,174.61 L557.24,175.03 L553.48,174.53 L550.03,174.85 L546.88,174.3 M546.88,174.3 L546.78,170.95 L546.08,167.31 M530.94,170.87 L529.07,171.98 M485.45,95.97 L483.96,92.88 L482.22,89.42 L480.97,85.8 M485.45,95.97 L490.88,98.15 M490.88,98.15 L494.45,94.81 L497.33,92.17 M480.97,85.8 L481.52,85.43 M481.52,85.43 L484.67,85.13 L488.44,85.17 L491.64,85.5 L495.42,85.6 M491.96,105.03 L491.76,101.66 L490.88,98.15 M505.02,99.91 L502.16,97.42 L499.67,95.2 L497.33,92.17 M480.7,69.64 L478.14,71.8 L475.05,74.18 L472.8,75.74 M485.84,75.72 L483.96,79.15 L483.15,81.81 L481.52,85.43 M467.37,41 L470.5,41.21 L473.44,42.09 L476.43,41.77 L479.41,42.2 M479.29,29.87 L479.29,33.29 L479.21,36.29 L479.19,39.18 L479.42,42.19 M468.25,53.3 L471.16,52.02 L473.89,51.65 L477.17,50.62 M467.77,62.59 L471.03,62.66 L475.35,63.3 L478.94,62.95 M478.94,62.95 L479.64,59.82 L480.69,55.92 M477.17,50.62 L478.5,53.17 L480.69,55.92 M467.27,63.07 L467.77,62.59 M480.7,69.64 L481.03,65.72 M481.03,65.72 L478.94,62.95 M529.5,95.16 L526.71,92.94 L524.47,91.28 L522.34,89.52 L519.65,88.21 M519.65,88.21 L516.48,90.75 L513.34,93.93 M535.34,82.06 L532.64,82.01 L529.42,81.68 L525.64,81.52 L522.79,81.47 L519.97,81.89 M519.65,88.21 L519.76,84.64 L519.97,81.89 M497.88,89.2 L501.47,88.05 L505.87,86.91 M485.84,75.72 L488.72,75.44 L492.28,74.63 M495.42,85.6 L495.43,82.57 L495.92,78.86 M505.87,86.91 L506.98,84.1 L508.64,80.77 M519.97,81.89 L518.56,79.6 M518.56,79.6 L515.37,79.89 L511.7,79.98 L508.64,80.77 M495.92,78.86 L499.24,77.62 L501.57,77.05 L504.5,75.52 M508.64,80.77 L506.32,77.9 L504.5,75.52 M536.46,78.08 L534.45,75.15 L533.11,71.9 M543.16,63.42 L539.62,63.81 L536.73,64.6 M533.11,71.9 L534.49,67.93 L536.73,64.6 M518.17,31.3 L519.58,34.72 L521.93,38.02 M509.87,34.99 L510.91,39.27 L512.3,42.62 M512.3,42.62 L516.61,44.15 M546.2,175.32 L542.8,176.11 L539.96,177.28 L536.92,177.67 M546.2,175.32 L547.58,178.97 L548.05,183.21 L549.12,186.61 M549.12,186.61 L546.2,188.85 L543.36,190.34 M543.36,190.34 L541.05,187.96 L538.41,186.51 L535.22,184.69 M536.92,177.67 L535.63,181.29 L535.22,184.69 M546.88,174.3 L546.2,175.32 M530.94,170.87 L533.13,173.37 L534.96,174.92 L536.92,177.67 M551.75,187.1 L549.12,186.61 M532.65,185.87 L535.22,184.69 M543.36,190.34 L543.21,193.83 L542.3,197.88 M535.4,198.72 L538.5,198.04 L542.3,197.88 M552,202.52 L549.41,202.55 L545.9,202.31 M541.83,211.19 L543.33,208.21 L544.38,205.69 L545.9,202.31 M540.32,225.53 L539.28,224.94 M541.83,211.19 L537.72,212.67 M504.09,32.89 L502.46,36.95 L499.9,40.29 M512.3,42.62 L508.26,44.55 L505.09,47.41 M499.9,40.29 L502.03,43.7 L505.09,47.41 M511.76,66.61 L508.37,68.64 L505.31,70.63 M511.76,66.61 L512.71,66.78 M533.11,71.9 L530.13,71.27 L526.85,70.38 M518.78,78.1 L521.84,75.38 L524.61,72.73 L526.85,70.38 M534.02,29.6 L532.74,32.96 L532.15,36 M521.93,38.02 L525.11,38.37 L528.16,38.92 M532.15,36 L528.16,38.92 M520.71,62.1 L523.15,62.99 M518.39,52.69 L519.42,50.82 M519.42,50.82 L523.32,49.58 L528.11,49.31 M528.11,49.31 L532.73,52.35 M531.72,58.03 L532.73,52.35 M512.71,66.78 L515.73,65.52 L517.94,63.72 L520.71,62.1 M526.85,70.38 L524.77,66.52 L523.15,62.99 M505.85,55.12 L508.5,54.66 L511.7,53.75 L515.42,53.79 L518.39,52.69 M536.73,64.6 L533.8,61.06 L531.72,58.03 M505.85,55.12 L504.09,54.22 M516.61,44.15 L518.34,47.03 L519.42,50.82 M505.09,47.41 L504.38,51.24 L504.09,54.22 M503.53,54.42 L499.43,53.28 L496.2,52.98 L492.01,52.1 M503.53,54.42 L502.02,57.13 L501.09,60.51 L498.98,63.28 L497.73,65.91 M490.87,64.15 L490.66,60.53 L491.14,57.73 L490.62,53.88 M490.87,64.15 L494.21,66.73 M490.62,53.88 L492.01,52.1 M494.21,66.73 L497.73,65.91 M489.85,43.78 L491.26,48.38 L492.01,52.1 M504.09,54.22 L503.53,54.42 M505.31,70.63 L501.15,67.98 L497.73,65.91 M480.69,55.92 L483.82,55.63 L486.98,54.5 L490.62,53.88 M492.28,74.63 L493.6,70.74 L494.21,66.73 M539.62,43.63 L545.09,42.06 M550.77,46.59 L548.35,44.69 L545.09,42.06 M550.77,46.59 L548.89,49.45 L547.9,53.03 L546.18,56.33 M532.15,36 L534.4,38.85 L536.95,40.81 L539.62,43.63 M532.73,52.35 L536.15,51.07 M546.22,35.28 L545.93,38.82 L545.09,42.06 M552.76,46.28 L550.77,46.59" fill="none" stroke="#909090" stroke-width="0.42"/>
<polyline points="453.7,159.5 459.4,154.6 461.5,150.5 467.1,152.6 474,150.5 479.6,146.3 482.3,142.2 485.1,136.6 487.9,131.1 490,126.9 492,121.4 493.4,115.8 492.7,110.3 491.3,105.4 492.7,104.6 494.8,107.5 497.6,113 499,118.6 501,125.5 502.4,128.3 503.1,122.7 503.8,117.2 505.2,116.5 506.6,122.7 508.7,131.1 509.4,138 511.5,142.2 514.2,143.5 516.3,147.7 517.7,151.2 521.2,151.9 525.3,150.5 528.8,149.1 530.2,144.9 531.6,143.5 532.3,147.7 530.9,153.3 530.2,158.8 529.5,168.5 528.7,175 530.2,180 532.7,186 534.7,195 536.2,203 537.2,208.6 539,222.6 540.8,237.5" fill="none" stroke="#8c8c8c" stroke-width="0.5"/>
<polyline points="516.8,35.6 518.2,38 522.2,38 528.2,36 536.2,34 539.2,29 538.7,16 535.7,11.5 535,10" fill="none" stroke="#8c8c8c" stroke-width="0.5"/>
<polyline points="561.1,222.1 561.9,230 562.5,237" fill="none" stroke="#8c8c8c" stroke-width="0.5"/>
<polyline points="466.4,8 468.2,17.6 465.8,20.5 467,27.5 468.8,31 472.3,33.4 475.2,35.7 477,40.4 478.5,46 479.9,53.2 482.2,60 485.8,66.3 489,71.6 490,79 490,89.6 490,100.2 491,106.5 495.3,111.8 499.5,115 500,119.2 498,123.4" fill="none" stroke="#5ab4ea" stroke-width="1.6" stroke-linecap="round" stroke-linejoin="round"/>
<polyline points="457.2,89.6 461.5,92.8 466.7,97 468.9,102.3 468.9,117.1 465.7,119.2 464,125.5 458.5,133.7 455.7,142 457.1,147.4 461.2,152.9" fill="none" stroke="#5ab4ea" stroke-width="1.6" stroke-linecap="round" stroke-linejoin="round"/>
<polyline points="522.8,8 521.5,15.4 516.1,18" fill="none" stroke="#5ab4ea" stroke-width="1.6" stroke-linecap="round" stroke-linejoin="round"/>
<polyline points="510.1,104.4 510.6,112 510.8,119.2" fill="none" stroke="#5ab4ea" stroke-width="1.6" stroke-linecap="round" stroke-linejoin="round"/>
<polyline points="529.8,122.7 531.9,132.4 529.8,147.4 530.5,161.2 529.2,172.1" fill="none" stroke="#5ab4ea" stroke-width="1.6" stroke-linecap="round" stroke-linejoin="round"/>
<polyline points="531.2,148.8 538,155 547,165.3" fill="none" stroke="#5ab4ea" stroke-width="1.6" stroke-linecap="round" stroke-linejoin="round"/>
<polyline points="553.7,147.4 560.6,153 566,161.2 569.5,172.1 573,180.4 575.7,184.5" fill="none" stroke="#5ab4ea" stroke-width="1.6" stroke-linecap="round" stroke-linejoin="round"/>
<polyline points="540,159.8 545.5,165.3 552.4,172.1 557.8,177.6 560.6,185.9 562,195.5 564,207.8" fill="none" stroke="#5ab4ea" stroke-width="1.6" stroke-linecap="round" stroke-linejoin="round"/>
<polyline points="545.5,121.4 549.6,125.5 548.2,131" fill="none" stroke="#5ab4ea" stroke-width="1.6" stroke-linecap="round" stroke-linejoin="round"/>
<polyline points="540,208 543,216 541,224 544,230" fill="none" stroke="#5ab4ea" stroke-width="1.6" stroke-linecap="round" stroke-linejoin="round"/>
<polyline points="498.3,120 499,124" fill="none" stroke="#5ab4ea" stroke-width="1.6" stroke-linecap="round" stroke-linejoin="round"/>
<polyline points="487.9,60.5 488.5,64" fill="none" stroke="#5ab4ea" stroke-width="1.6" stroke-linecap="round" stroke-linejoin="round"/>
<polygon points="475,41 478,40.5 480,43 481.6,47 481,51 479,52.5 477,50 475.5,47" fill="#5ab4ea"/>
<polygon points="472.5,24.5 474.5,23.8 475,26.5 473.2,27" fill="#5ab4ea"/>
<ellipse cx="475.7" cy="92.8" rx="2.8" ry="2.4" fill="#5ab4ea"/>
<ellipse cx="511" cy="116" rx="1.2" ry="2.5" fill="#5ab4ea"/>
<use href="#mout" transform="translate(408.2,0)"/>
</g>
<rect x="453.7" y="10" width="180" height="227" fill="none" stroke="#888" stroke-width="0.9"/>

<g transform="translate(408.2,0)"><g>
<circle cx="65.9" cy="206.8" r="7.6" fill="none" stroke="#555" stroke-width="0.9"/>
<path d="M65.9,206.8 L67.46,210.19 L71.13,212.03 L69.29,208.36 Z" fill="none" stroke="#555" stroke-width="0.6"/>
<path d="M65.9,206.8 L62.51,208.36 L60.67,212.03 L64.34,210.19 Z" fill="none" stroke="#555" stroke-width="0.6"/>
<path d="M65.9,206.8 L64.34,203.41 L60.67,201.57 L62.51,205.24 Z" fill="none" stroke="#555" stroke-width="0.6"/>
<path d="M65.9,206.8 L69.29,205.24 L71.13,201.57 L67.46,203.41 Z" fill="none" stroke="#555" stroke-width="0.6"/>
<path d="M67,206.8 L65.9,195.3 L64.8,206.8 Z" fill="#555"/>
<path d="M64.8,206.8 L65.9,218.3 L67,206.8 Z" fill="#555"/>
<path d="M65.9,207.9 L78.1,206.8 L65.9,205.7 Z" fill="#555"/>
<path d="M65.9,205.7 L53.7,206.8 L65.9,207.9 Z" fill="#555"/>
<text x="66.4" y="194.2" font-size="7.6" text-anchor="middle" fill="#222" font-family="Liberation Sans, sans-serif">N</text>
</g><rect x="50.3" y="226.5" width="31.5" height="5.2" fill="#000"/>
<rect x="60.8" y="227.5" width="10.5" height="3.2" fill="#fff"/>
<text x="85" y="232.1" font-size="8.4" fill="#111" stroke="#111" stroke-width="0.12" font-family="Liberation Sans, sans-serif">60 km</text></g>
<text x="645" y="91.2" font-size="9.7" fill="#111" stroke="#111" stroke-width="0.12" font-family="Liberation Sans, sans-serif">Elevation</text>
<defs><linearGradient id="eg" x1="0" y1="0" x2="0" y2="1"><stop offset="0.000" stop-color="rgb(0, 0, 20)"/><stop offset="0.040" stop-color="rgb(0, 0, 70)"/><stop offset="0.080" stop-color="rgb(0, 0, 140)"/><stop offset="0.120" stop-color="rgb(0, 0, 200)"/><stop offset="0.160" stop-color="rgb(20, 0, 255)"/><stop offset="0.200" stop-color="rgb(80, 0, 220)"/><stop offset="0.240" stop-color="rgb(130, 0, 160)"/><stop offset="0.280" stop-color="rgb(180, 0, 100)"/><stop offset="0.320" stop-color="rgb(240, 0, 30)"/><stop offset="0.360" stop-color="rgb(255, 30, 0)"/><stop offset="0.400" stop-color="rgb(255, 90, 0)"/><stop offset="0.440" stop-color="rgb(255, 150, 0)"/><stop offset="0.480" stop-color="rgb(255, 200, 0)"/><stop offset="0.520" stop-color="rgb(255, 240, 0)"/><stop offset="0.560" stop-color="rgb(210, 220, 0)"/><stop offset="0.600" stop-color="rgb(110, 170, 0)"/><stop offset="0.640" stop-color="rgb(0, 100, 0)"/><stop offset="0.680" stop-color="rgb(0, 110, 0)"/><stop offset="0.720" stop-color="rgb(40, 130, 40)"/><stop offset="0.760" stop-color="rgb(110, 160, 110)"/><stop offset="0.800" stop-color="rgb(165, 185, 165)"/><stop offset="0.840" stop-color="rgb(195, 203, 195)"/><stop offset="0.880" stop-color="rgb(215, 218, 215)"/><stop offset="0.920" stop-color="rgb(234, 234, 234)"/><stop offset="0.960" stop-color="rgb(246, 246, 246)"/><stop offset="1.000" stop-color="rgb(255, 255, 255)"/></linearGradient></defs>
<rect x="646.2" y="97.2" width="10.4" height="65" fill="url(#eg)"/>
<line x1="646.2" y1="99.4" x2="648.2" y2="99.4" stroke="#fff" stroke-width="0.6"/>
<line x1="654.6" y1="99.4" x2="656.6" y2="99.4" stroke="#fff" stroke-width="0.6"/>
<text x="660.8" y="102.5" font-size="8.5" fill="#111" stroke="#111" stroke-width="0.12" font-family="Liberation Sans, sans-serif">2,500</text>
<line x1="646.2" y1="111.92" x2="648.2" y2="111.92" stroke="#fff" stroke-width="0.6"/>
<line x1="654.6" y1="111.92" x2="656.6" y2="111.92" stroke="#fff" stroke-width="0.6"/>
<text x="660.8" y="115.02" font-size="8.5" fill="#111" stroke="#111" stroke-width="0.12" font-family="Liberation Sans, sans-serif">2,000</text>
<line x1="646.2" y1="124.44" x2="648.2" y2="124.44" stroke="#fff" stroke-width="0.6"/>
<line x1="654.6" y1="124.44" x2="656.6" y2="124.44" stroke="#fff" stroke-width="0.6"/>
<text x="660.8" y="127.54" font-size="8.5" fill="#111" stroke="#111" stroke-width="0.12" font-family="Liberation Sans, sans-serif">1,500</text>
<line x1="646.2" y1="136.96" x2="648.2" y2="136.96" stroke="#fff" stroke-width="0.6"/>
<line x1="654.6" y1="136.96" x2="656.6" y2="136.96" stroke="#fff" stroke-width="0.6"/>
<text x="660.8" y="140.06" font-size="8.5" fill="#111" stroke="#111" stroke-width="0.12" font-family="Liberation Sans, sans-serif">1,000</text>
<line x1="646.2" y1="149.48" x2="648.2" y2="149.48" stroke="#fff" stroke-width="0.6"/>
<line x1="654.6" y1="149.48" x2="656.6" y2="149.48" stroke="#fff" stroke-width="0.6"/>
<text x="660.8" y="152.58" font-size="8.5" fill="#111" stroke="#111" stroke-width="0.12" font-family="Liberation Sans, sans-serif">500</text>
<line x1="646.2" y1="162" x2="648.2" y2="162" stroke="#fff" stroke-width="0.6"/>
<line x1="654.6" y1="162" x2="656.6" y2="162" stroke="#fff" stroke-width="0.6"/>
<text x="660.8" y="165.1" font-size="8.5" fill="#111" stroke="#111" stroke-width="0.12" font-family="Liberation Sans, sans-serif">0</text>
<text x="42" y="13.2" font-size="8.5" text-anchor="end" fill="#111" stroke="#111" stroke-width="0.12" font-family="Liberation Sans, sans-serif">19.0° N</text>
<text x="42" y="41.69" font-size="8.5" text-anchor="end" fill="#111" stroke="#111" stroke-width="0.12" font-family="Liberation Sans, sans-serif">18.5° N</text>
<text x="42" y="70.18" font-size="8.5" text-anchor="end" fill="#111" stroke="#111" stroke-width="0.12" font-family="Liberation Sans, sans-serif">18.0° N</text>
<text x="42" y="98.67" font-size="8.5" text-anchor="end" fill="#111" stroke="#111" stroke-width="0.12" font-family="Liberation Sans, sans-serif">17.5° N</text>
<text x="42" y="127.16" font-size="8.5" text-anchor="end" fill="#111" stroke="#111" stroke-width="0.12" font-family="Liberation Sans, sans-serif">17.0° N</text>
<text x="42" y="155.65" font-size="8.5" text-anchor="end" fill="#111" stroke="#111" stroke-width="0.12" font-family="Liberation Sans, sans-serif">16.5° N</text>
<text x="42" y="184.14" font-size="8.5" text-anchor="end" fill="#111" stroke="#111" stroke-width="0.12" font-family="Liberation Sans, sans-serif">16.0° N</text>
<text x="42" y="212.63" font-size="8.5" text-anchor="end" fill="#111" stroke="#111" stroke-width="0.12" font-family="Liberation Sans, sans-serif">15.5° N</text>
<text x="42" y="241.12" font-size="8.5" text-anchor="end" fill="#111" stroke="#111" stroke-width="0.12" font-family="Liberation Sans, sans-serif">15.0° N</text>
<text transform="translate(9.4,123.5) rotate(-90)" font-size="9.8" text-anchor="middle" fill="#111" stroke="#111" stroke-width="0.12" font-family="Liberation Sans, sans-serif">Latitude</text>
<text x="339.2" y="276.8" font-size="9.9" text-anchor="middle" fill="#111" stroke="#111" stroke-width="0.12" font-family="Liberation Sans, sans-serif">Longitude</text>
<text transform="translate(68.5,246.1) rotate(-45)" font-size="8.3" text-anchor="end" fill="#111" stroke="#111" stroke-width="0.12" font-family="Liberation Sans, sans-serif">96.5° E</text>
<text transform="translate(95.4,246.1) rotate(-45)" font-size="8.3" text-anchor="end" fill="#111" stroke="#111" stroke-width="0.12" font-family="Liberation Sans, sans-serif">97.0° E</text>
<text transform="translate(122.3,246.1) rotate(-45)" font-size="8.3" text-anchor="end" fill="#111" stroke="#111" stroke-width="0.12" font-family="Liberation Sans, sans-serif">97.5° E</text>
<text transform="translate(149.2,246.1) rotate(-45)" font-size="8.3" text-anchor="end" fill="#111" stroke="#111" stroke-width="0.12" font-family="Liberation Sans, sans-serif">98.0° E</text>
<text transform="translate(176.1,246.1) rotate(-45)" font-size="8.3" text-anchor="end" fill="#111" stroke="#111" stroke-width="0.12" font-family="Liberation Sans, sans-serif">98.5° E</text>
<text transform="translate(203,246.1) rotate(-45)" font-size="8.3" text-anchor="end" fill="#111" stroke="#111" stroke-width="0.12" font-family="Liberation Sans, sans-serif">99.0° E</text>
<text transform="translate(229.9,246.1) rotate(-45)" font-size="8.3" text-anchor="end" fill="#111" stroke="#111" stroke-width="0.12" font-family="Liberation Sans, sans-serif">99.5° E</text>
<text transform="translate(272.5,246.1) rotate(-45)" font-size="8.3" text-anchor="end" fill="#111" stroke="#111" stroke-width="0.12" font-family="Liberation Sans, sans-serif">96.5° E</text>
<text transform="translate(299.4,246.1) rotate(-45)" font-size="8.3" text-anchor="end" fill="#111" stroke="#111" stroke-width="0.12" font-family="Liberation Sans, sans-serif">97.0° E</text>
<text transform="translate(326.3,246.1) rotate(-45)" font-size="8.3" text-anchor="end" fill="#111" stroke="#111" stroke-width="0.12" font-family="Liberation Sans, sans-serif">97.5° E</text>
<text transform="translate(353.2,246.1) rotate(-45)" font-size="8.3" text-anchor="end" fill="#111" stroke="#111" stroke-width="0.12" font-family="Liberation Sans, sans-serif">98.0° E</text>
<text transform="translate(380.1,246.1) rotate(-45)" font-size="8.3" text-anchor="end" fill="#111" stroke="#111" stroke-width="0.12" font-family="Liberation Sans, sans-serif">98.5° E</text>
<text transform="translate(407,246.1) rotate(-45)" font-size="8.3" text-anchor="end" fill="#111" stroke="#111" stroke-width="0.12" font-family="Liberation Sans, sans-serif">99.0° E</text>
<text transform="translate(433.9,246.1) rotate(-45)" font-size="8.3" text-anchor="end" fill="#111" stroke="#111" stroke-width="0.12" font-family="Liberation Sans, sans-serif">99.5° E</text>
<text transform="translate(476.7,246.1) rotate(-45)" font-size="8.3" text-anchor="end" fill="#111" stroke="#111" stroke-width="0.12" font-family="Liberation Sans, sans-serif">96.5° E</text>
<text transform="translate(503.6,246.1) rotate(-45)" font-size="8.3" text-anchor="end" fill="#111" stroke="#111" stroke-width="0.12" font-family="Liberation Sans, sans-serif">97.0° E</text>
<text transform="translate(530.5,246.1) rotate(-45)" font-size="8.3" text-anchor="end" fill="#111" stroke="#111" stroke-width="0.12" font-family="Liberation Sans, sans-serif">97.5° E</text>
<text transform="translate(557.4,246.1) rotate(-45)" font-size="8.3" text-anchor="end" fill="#111" stroke="#111" stroke-width="0.12" font-family="Liberation Sans, sans-serif">98.0° E</text>
<text transform="translate(584.3,246.1) rotate(-45)" font-size="8.3" text-anchor="end" fill="#111" stroke="#111" stroke-width="0.12" font-family="Liberation Sans, sans-serif">98.5° E</text>
<text transform="translate(611.2,246.1) rotate(-45)" font-size="8.3" text-anchor="end" fill="#111" stroke="#111" stroke-width="0.12" font-family="Liberation Sans, sans-serif">99.0° E</text>
<text transform="translate(638.1,246.1) rotate(-45)" font-size="8.3" text-anchor="end" fill="#111" stroke="#111" stroke-width="0.12" font-family="Liberation Sans, sans-serif">99.5° E</text>
<text x="0.3" y="304.7" font-size="14" font-weight="bold" font-family="Liberation Sans, sans-serif">b</text>
<line x1="46.6" y1="300.3" x2="46.6" y2="500.3" stroke="#444" stroke-width="0.7"/>
<line x1="43.4" y1="500.3" x2="46.6" y2="500.3" stroke="#444" stroke-width="0.7"/>
<text x="38.2" y="503.4" font-size="8.6" text-anchor="end" fill="#111" stroke="#111" stroke-width="0.12" font-family="Liberation Sans, sans-serif">0</text>
<line x1="43.4" y1="480.3" x2="46.6" y2="480.3" stroke="#444" stroke-width="0.7"/>
<text x="38.2" y="483.4" font-size="8.6" text-anchor="end" fill="#111" stroke="#111" stroke-width="0.12" font-family="Liberation Sans, sans-serif">50</text>
<line x1="43.4" y1="460.3" x2="46.6" y2="460.3" stroke="#444" stroke-width="0.7"/>
<text x="38.2" y="463.4" font-size="8.6" text-anchor="end" fill="#111" stroke="#111" stroke-width="0.12" font-family="Liberation Sans, sans-serif">100</text>
<line x1="43.4" y1="440.3" x2="46.6" y2="440.3" stroke="#444" stroke-width="0.7"/>
<text x="38.2" y="443.4" font-size="8.6" text-anchor="end" fill="#111" stroke="#111" stroke-width="0.12" font-family="Liberation Sans, sans-serif">150</text>
<line x1="43.4" y1="420.3" x2="46.6" y2="420.3" stroke="#444" stroke-width="0.7"/>
<text x="38.2" y="423.4" font-size="8.6" text-anchor="end" fill="#111" stroke="#111" stroke-width="0.12" font-family="Liberation Sans, sans-serif">200</text>
<line x1="43.4" y1="400.3" x2="46.6" y2="400.3" stroke="#444" stroke-width="0.7"/>
<text x="38.2" y="403.4" font-size="8.6" text-anchor="end" fill="#111" stroke="#111" stroke-width="0.12" font-family="Liberation Sans, sans-serif">250</text>
<line x1="43.4" y1="380.3" x2="46.6" y2="380.3" stroke="#444" stroke-width="0.7"/>
<text x="38.2" y="383.4" font-size="8.6" text-anchor="end" fill="#111" stroke="#111" stroke-width="0.12" font-family="Liberation Sans, sans-serif">300</text>
<line x1="43.4" y1="360.3" x2="46.6" y2="360.3" stroke="#444" stroke-width="0.7"/>
<text x="38.2" y="363.4" font-size="8.6" text-anchor="end" fill="#111" stroke="#111" stroke-width="0.12" font-family="Liberation Sans, sans-serif">350</text>
<line x1="43.4" y1="340.3" x2="46.6" y2="340.3" stroke="#444" stroke-width="0.7"/>
<text x="38.2" y="343.4" font-size="8.6" text-anchor="end" fill="#111" stroke="#111" stroke-width="0.12" font-family="Liberation Sans, sans-serif">400</text>
<line x1="43.4" y1="320.3" x2="46.6" y2="320.3" stroke="#444" stroke-width="0.7"/>
<text x="38.2" y="323.4" font-size="8.6" text-anchor="end" fill="#111" stroke="#111" stroke-width="0.12" font-family="Liberation Sans, sans-serif">450</text>
<line x1="43.4" y1="300.3" x2="46.6" y2="300.3" stroke="#444" stroke-width="0.7"/>
<text x="38.2" y="303.4" font-size="8.6" text-anchor="end" fill="#111" stroke="#111" stroke-width="0.12" font-family="Liberation Sans, sans-serif">500</text>
<text transform="translate(15.8,400.5) rotate(-90)" font-size="9.8" text-anchor="middle" fill="#111" stroke="#111" stroke-width="0.12" font-family="Liberation Sans, sans-serif">No. of samples</text>
<rect x="48.15" y="495.3" width="7.05" height="5" fill="#e3e3e3" stroke="#2a2a2a" stroke-width="0.65"/>
<rect x="48.15" y="498.3" width="7.05" height="2" fill="#fbbd00" stroke="#2a2a2a" stroke-width="0.65"/>
<text x="51.67" y="514.2" font-size="8.6" text-anchor="middle" fill="#111" stroke="#111" stroke-width="0.12" font-family="Liberation Sans, sans-serif">1</text>
<line x1="46.6" y1="500.3" x2="46.6" y2="502.5" stroke="#444" stroke-width="0.6"/>
<rect x="58.43" y="493.1" width="7.05" height="7.2" fill="#e3e3e3" stroke="#2a2a2a" stroke-width="0.65"/>
<rect x="58.43" y="494.5" width="7.05" height="5.8" fill="#fbbd00" stroke="#2a2a2a" stroke-width="0.65"/>
<text x="61.95" y="514.2" font-size="8.6" text-anchor="middle" fill="#111" stroke="#111" stroke-width="0.12" font-family="Liberation Sans, sans-serif">2</text>
<line x1="56.88" y1="500.3" x2="56.88" y2="502.5" stroke="#444" stroke-width="0.6"/>
<rect x="68.71" y="497.5" width="7.05" height="2.8" fill="#e3e3e3" stroke="#2a2a2a" stroke-width="0.65"/>
<rect x="68.71" y="498.1" width="7.05" height="2.2" fill="#fbbd00" stroke="#2a2a2a" stroke-width="0.65"/>
<text x="72.23" y="514.2" font-size="8.6" text-anchor="middle" fill="#111" stroke="#111" stroke-width="0.12" font-family="Liberation Sans, sans-serif">3</text>
<line x1="67.16" y1="500.3" x2="67.16" y2="502.5" stroke="#444" stroke-width="0.6"/>
<rect x="78.99" y="491.9" width="7.05" height="8.4" fill="#e3e3e3" stroke="#2a2a2a" stroke-width="0.65"/>
<rect x="78.99" y="494.7" width="7.05" height="5.6" fill="#fbbd00" stroke="#2a2a2a" stroke-width="0.65"/>
<text x="82.52" y="514.2" font-size="8.6" text-anchor="middle" fill="#111" stroke="#111" stroke-width="0.12" font-family="Liberation Sans, sans-serif">4</text>
<line x1="77.44" y1="500.3" x2="77.44" y2="502.5" stroke="#444" stroke-width="0.6"/>
<rect x="89.27" y="493.3" width="7.05" height="7" fill="#e3e3e3" stroke="#2a2a2a" stroke-width="0.65"/>
<rect x="89.27" y="497.1" width="7.05" height="3.2" fill="#fbbd00" stroke="#2a2a2a" stroke-width="0.65"/>
<text x="92.8" y="514.2" font-size="8.6" text-anchor="middle" fill="#111" stroke="#111" stroke-width="0.12" font-family="Liberation Sans, sans-serif">5</text>
<line x1="87.72" y1="500.3" x2="87.72" y2="502.5" stroke="#444" stroke-width="0.6"/>
<rect x="99.55" y="412.3" width="7.05" height="88" fill="#e3e3e3" stroke="#2a2a2a" stroke-width="0.65"/>
<rect x="99.55" y="464.5" width="7.05" height="35.8" fill="#fbbd00" stroke="#2a2a2a" stroke-width="0.65"/>
<text x="103.08" y="514.2" font-size="8.6" text-anchor="middle" fill="#111" stroke="#111" stroke-width="0.12" font-family="Liberation Sans, sans-serif">6</text>
<line x1="98" y1="500.3" x2="98" y2="502.5" stroke="#444" stroke-width="0.6"/>
<rect x="109.83" y="466.3" width="7.05" height="34" fill="#e3e3e3" stroke="#2a2a2a" stroke-width="0.65"/>
<rect x="109.83" y="490.5" width="7.05" height="9.8" fill="#fbbd00" stroke="#2a2a2a" stroke-width="0.65"/>
<text x="113.35" y="514.2" font-size="8.6" text-anchor="middle" fill="#111" stroke="#111" stroke-width="0.12" font-family="Liberation Sans, sans-serif">7</text>
<line x1="108.28" y1="500.3" x2="108.28" y2="502.5" stroke="#444" stroke-width="0.6"/>
<rect x="120.11" y="474.1" width="7.05" height="26.2" fill="#e3e3e3" stroke="#2a2a2a" stroke-width="0.65"/>
<rect x="120.11" y="492.1" width="7.05" height="8.2" fill="#fbbd00" stroke="#2a2a2a" stroke-width="0.65"/>
<text x="123.63" y="514.2" font-size="8.6" text-anchor="middle" fill="#111" stroke="#111" stroke-width="0.12" font-family="Liberation Sans, sans-serif">8</text>
<line x1="118.56" y1="500.3" x2="118.56" y2="502.5" stroke="#444" stroke-width="0.6"/>
<rect x="130.39" y="475.3" width="7.05" height="25" fill="#e3e3e3" stroke="#2a2a2a" stroke-width="0.65"/>
<rect x="130.39" y="490.3" width="7.05" height="10" fill="#fbbd00" stroke="#2a2a2a" stroke-width="0.65"/>
<text x="133.91" y="514.2" font-size="8.6" text-anchor="middle" fill="#111" stroke="#111" stroke-width="0.12" font-family="Liberation Sans, sans-serif">9</text>
<line x1="128.84" y1="500.3" x2="128.84" y2="502.5" stroke="#444" stroke-width="0.6"/>
<rect x="140.67" y="484.1" width="7.05" height="16.2" fill="#e3e3e3" stroke="#2a2a2a" stroke-width="0.65"/>
<rect x="140.67" y="496.1" width="7.05" height="4.2" fill="#fbbd00" stroke="#2a2a2a" stroke-width="0.65"/>
<text x="144.19" y="514.2" font-size="8.6" text-anchor="middle" fill="#111" stroke="#111" stroke-width="0.12" font-family="Liberation Sans, sans-serif">10</text>
<line x1="139.12" y1="500.3" x2="139.12" y2="502.5" stroke="#444" stroke-width="0.6"/>
<rect x="150.95" y="448.9" width="7.05" height="51.4" fill="#e3e3e3" stroke="#2a2a2a" stroke-width="0.65"/>
<rect x="150.95" y="486.3" width="7.05" height="14" fill="#fbbd00" stroke="#2a2a2a" stroke-width="0.65"/>
<text x="154.47" y="514.2" font-size="8.6" text-anchor="middle" fill="#111" stroke="#111" stroke-width="0.12" font-family="Liberation Sans, sans-serif">11</text>
<line x1="149.4" y1="500.3" x2="149.4" y2="502.5" stroke="#444" stroke-width="0.6"/>
<rect x="161.23" y="463.3" width="7.05" height="37" fill="#e3e3e3" stroke="#2a2a2a" stroke-width="0.65"/>
<rect x="161.23" y="491.3" width="7.05" height="9" fill="#fbbd00" stroke="#2a2a2a" stroke-width="0.65"/>
<text x="164.75" y="514.2" font-size="8.6" text-anchor="middle" fill="#111" stroke="#111" stroke-width="0.12" font-family="Liberation Sans, sans-serif">12</text>
<line x1="159.68" y1="500.3" x2="159.68" y2="502.5" stroke="#444" stroke-width="0.6"/>
<rect x="171.51" y="445.3" width="7.05" height="55" fill="#e3e3e3" stroke="#2a2a2a" stroke-width="0.65"/>
<rect x="171.51" y="485.5" width="7.05" height="14.8" fill="#fbbd00" stroke="#2a2a2a" stroke-width="0.65"/>
<text x="175.03" y="514.2" font-size="8.6" text-anchor="middle" fill="#111" stroke="#111" stroke-width="0.12" font-family="Liberation Sans, sans-serif">1</text>
<line x1="169.96" y1="500.3" x2="169.96" y2="502.5" stroke="#444" stroke-width="0.6"/>
<rect x="181.79" y="453.3" width="7.05" height="47" fill="#e3e3e3" stroke="#2a2a2a" stroke-width="0.65"/>
<rect x="181.79" y="490.3" width="7.05" height="10" fill="#fbbd00" stroke="#2a2a2a" stroke-width="0.65"/>
<text x="185.31" y="514.2" font-size="8.6" text-anchor="middle" fill="#111" stroke="#111" stroke-width="0.12" font-family="Liberation Sans, sans-serif">2</text>
<line x1="180.24" y1="500.3" x2="180.24" y2="502.5" stroke="#444" stroke-width="0.6"/>
<rect x="192.07" y="478.1" width="7.05" height="22.2" fill="#e3e3e3" stroke="#2a2a2a" stroke-width="0.65"/>
<rect x="192.07" y="491.3" width="7.05" height="9" fill="#fbbd00" stroke="#2a2a2a" stroke-width="0.65"/>
<text x="195.59" y="514.2" font-size="8.6" text-anchor="middle" fill="#111" stroke="#111" stroke-width="0.12" font-family="Liberation Sans, sans-serif">3</text>
<line x1="190.52" y1="500.3" x2="190.52" y2="502.5" stroke="#444" stroke-width="0.6"/>
<rect x="202.35" y="488.1" width="7.05" height="12.2" fill="#e3e3e3" stroke="#2a2a2a" stroke-width="0.65"/>
<rect x="202.35" y="496.9" width="7.05" height="3.4" fill="#fbbd00" stroke="#2a2a2a" stroke-width="0.65"/>
<text x="205.88" y="514.2" font-size="8.6" text-anchor="middle" fill="#111" stroke="#111" stroke-width="0.12" font-family="Liberation Sans, sans-serif">4</text>
<line x1="200.8" y1="500.3" x2="200.8" y2="502.5" stroke="#444" stroke-width="0.6"/>
<rect x="212.63" y="438.3" width="7.05" height="62" fill="#e3e3e3" stroke="#2a2a2a" stroke-width="0.65"/>
<rect x="212.63" y="478.3" width="7.05" height="22" fill="#fbbd00" stroke="#2a2a2a" stroke-width="0.65"/>
<text x="216.16" y="514.2" font-size="8.6" text-anchor="middle" fill="#111" stroke="#111" stroke-width="0.12" font-family="Liberation Sans, sans-serif">5</text>
<line x1="211.08" y1="500.3" x2="211.08" y2="502.5" stroke="#444" stroke-width="0.6"/>
<rect x="222.91" y="378.3" width="7.05" height="122" fill="#e3e3e3" stroke="#2a2a2a" stroke-width="0.65"/>
<rect x="222.91" y="446.1" width="7.05" height="54.2" fill="#fbbd00" stroke="#2a2a2a" stroke-width="0.65"/>
<text x="226.44" y="514.2" font-size="8.6" text-anchor="middle" fill="#111" stroke="#111" stroke-width="0.12" font-family="Liberation Sans, sans-serif">6</text>
<line x1="221.36" y1="500.3" x2="221.36" y2="502.5" stroke="#444" stroke-width="0.6"/>
<rect x="233.19" y="450.3" width="7.05" height="50" fill="#e3e3e3" stroke="#2a2a2a" stroke-width="0.65"/>
<rect x="233.19" y="478.9" width="7.05" height="21.4" fill="#fbbd00" stroke="#2a2a2a" stroke-width="0.65"/>
<text x="236.72" y="514.2" font-size="8.6" text-anchor="middle" fill="#111" stroke="#111" stroke-width="0.12" font-family="Liberation Sans, sans-serif">7</text>
<line x1="231.64" y1="500.3" x2="231.64" y2="502.5" stroke="#444" stroke-width="0.6"/>
<rect x="243.47" y="470.3" width="7.05" height="30" fill="#e3e3e3" stroke="#2a2a2a" stroke-width="0.65"/>
<rect x="243.47" y="491.1" width="7.05" height="9.2" fill="#fbbd00" stroke="#2a2a2a" stroke-width="0.65"/>
<text x="247" y="514.2" font-size="8.6" text-anchor="middle" fill="#111" stroke="#111" stroke-width="0.12" font-family="Liberation Sans, sans-serif">8</text>
<line x1="241.92" y1="500.3" x2="241.92" y2="502.5" stroke="#444" stroke-width="0.6"/>
<rect x="253.75" y="469.3" width="7.05" height="31" fill="#e3e3e3" stroke="#2a2a2a" stroke-width="0.65"/>
<rect x="253.75" y="488.9" width="7.05" height="11.4" fill="#fbbd00" stroke="#2a2a2a" stroke-width="0.65"/>
<text x="257.27" y="514.2" font-size="8.6" text-anchor="middle" fill="#111" stroke="#111" stroke-width="0.12" font-family="Liberation Sans, sans-serif">9</text>
<line x1="252.2" y1="500.3" x2="252.2" y2="502.5" stroke="#444" stroke-width="0.6"/>
<rect x="264.03" y="450.3" width="7.05" height="50" fill="#e3e3e3" stroke="#2a2a2a" stroke-width="0.65"/>
<rect x="264.03" y="474.1" width="7.05" height="26.2" fill="#fbbd00" stroke="#2a2a2a" stroke-width="0.65"/>
<text x="267.55" y="514.2" font-size="8.6" text-anchor="middle" fill="#111" stroke="#111" stroke-width="0.12" font-family="Liberation Sans, sans-serif">10</text>
<line x1="262.48" y1="500.3" x2="262.48" y2="502.5" stroke="#444" stroke-width="0.6"/>
<rect x="274.31" y="432.3" width="7.05" height="68" fill="#e3e3e3" stroke="#2a2a2a" stroke-width="0.65"/>
<rect x="274.31" y="465.3" width="7.05" height="35" fill="#fbbd00" stroke="#2a2a2a" stroke-width="0.65"/>
<text x="277.83" y="514.2" font-size="8.6" text-anchor="middle" fill="#111" stroke="#111" stroke-width="0.12" font-family="Liberation Sans, sans-serif">11</text>
<line x1="272.76" y1="500.3" x2="272.76" y2="502.5" stroke="#444" stroke-width="0.6"/>
<rect x="284.59" y="323.1" width="7.05" height="177.2" fill="#e3e3e3" stroke="#2a2a2a" stroke-width="0.65"/>
<rect x="284.59" y="395.3" width="7.05" height="105" fill="#fbbd00" stroke="#2a2a2a" stroke-width="0.65"/>
<text x="288.11" y="514.2" font-size="8.6" text-anchor="middle" fill="#111" stroke="#111" stroke-width="0.12" font-family="Liberation Sans, sans-serif">12</text>
<line x1="283.04" y1="500.3" x2="283.04" y2="502.5" stroke="#444" stroke-width="0.6"/>
<rect x="294.87" y="392.3" width="7.05" height="108" fill="#e3e3e3" stroke="#2a2a2a" stroke-width="0.65"/>
<rect x="294.87" y="434.5" width="7.05" height="65.8" fill="#fbbd00" stroke="#2a2a2a" stroke-width="0.65"/>
<text x="298.39" y="514.2" font-size="8.6" text-anchor="middle" fill="#111" stroke="#111" stroke-width="0.12" font-family="Liberation Sans, sans-serif">1</text>
<line x1="293.32" y1="500.3" x2="293.32" y2="502.5" stroke="#444" stroke-width="0.6"/>
<rect x="305.15" y="421.5" width="7.05" height="78.8" fill="#e3e3e3" stroke="#2a2a2a" stroke-width="0.65"/>
<rect x="305.15" y="456.3" width="7.05" height="44" fill="#fbbd00" stroke="#2a2a2a" stroke-width="0.65"/>
<text x="308.67" y="514.2" font-size="8.6" text-anchor="middle" fill="#111" stroke="#111" stroke-width="0.12" font-family="Liberation Sans, sans-serif">2</text>
<line x1="303.6" y1="500.3" x2="303.6" y2="502.5" stroke="#444" stroke-width="0.6"/>
<rect x="315.43" y="463.5" width="7.05" height="36.8" fill="#e3e3e3" stroke="#2a2a2a" stroke-width="0.65"/>
<rect x="315.43" y="485.7" width="7.05" height="14.6" fill="#fbbd00" stroke="#2a2a2a" stroke-width="0.65"/>
<text x="318.95" y="514.2" font-size="8.6" text-anchor="middle" fill="#111" stroke="#111" stroke-width="0.12" font-family="Liberation Sans, sans-serif">3</text>
<line x1="313.88" y1="500.3" x2="313.88" y2="502.5" stroke="#444" stroke-width="0.6"/>
<rect x="325.71" y="431.7" width="7.05" height="68.6" fill="#e3e3e3" stroke="#2a2a2a" stroke-width="0.65"/>
<rect x="325.71" y="472.1" width="7.05" height="28.2" fill="#fbbd00" stroke="#2a2a2a" stroke-width="0.65"/>
<text x="329.23" y="514.2" font-size="8.6" text-anchor="middle" fill="#111" stroke="#111" stroke-width="0.12" font-family="Liberation Sans, sans-serif">4</text>
<line x1="324.16" y1="500.3" x2="324.16" y2="502.5" stroke="#444" stroke-width="0.6"/>
<rect x="335.99" y="406.7" width="7.05" height="93.6" fill="#e3e3e3" stroke="#2a2a2a" stroke-width="0.65"/>
<rect x="335.99" y="458.5" width="7.05" height="41.8" fill="#fbbd00" stroke="#2a2a2a" stroke-width="0.65"/>
<text x="339.51" y="514.2" font-size="8.6" text-anchor="middle" fill="#111" stroke="#111" stroke-width="0.12" font-family="Liberation Sans, sans-serif">5</text>
<line x1="334.44" y1="500.3" x2="334.44" y2="502.5" stroke="#444" stroke-width="0.6"/>
<rect x="346.27" y="369.9" width="7.05" height="130.4" fill="#e3e3e3" stroke="#2a2a2a" stroke-width="0.65"/>
<rect x="346.27" y="439.3" width="7.05" height="61" fill="#fbbd00" stroke="#2a2a2a" stroke-width="0.65"/>
<text x="349.79" y="514.2" font-size="8.6" text-anchor="middle" fill="#111" stroke="#111" stroke-width="0.12" font-family="Liberation Sans, sans-serif">6</text>
<line x1="344.72" y1="500.3" x2="344.72" y2="502.5" stroke="#444" stroke-width="0.6"/>
<rect x="356.55" y="446.3" width="7.05" height="54" fill="#e3e3e3" stroke="#2a2a2a" stroke-width="0.65"/>
<rect x="356.55" y="480.1" width="7.05" height="20.2" fill="#fbbd00" stroke="#2a2a2a" stroke-width="0.65"/>
<text x="360.07" y="514.2" font-size="8.6" text-anchor="middle" fill="#111" stroke="#111" stroke-width="0.12" font-family="Liberation Sans, sans-serif">7</text>
<line x1="355" y1="500.3" x2="355" y2="502.5" stroke="#444" stroke-width="0.6"/>
<rect x="366.83" y="481.3" width="7.05" height="19" fill="#e3e3e3" stroke="#2a2a2a" stroke-width="0.65"/>
<rect x="366.83" y="490.1" width="7.05" height="10.2" fill="#fbbd00" stroke="#2a2a2a" stroke-width="0.65"/>
<text x="370.35" y="514.2" font-size="8.6" text-anchor="middle" fill="#111" stroke="#111" stroke-width="0.12" font-family="Liberation Sans, sans-serif">8</text>
<line x1="365.28" y1="500.3" x2="365.28" y2="502.5" stroke="#444" stroke-width="0.6"/>
<rect x="377.11" y="489.5" width="7.05" height="10.8" fill="#e3e3e3" stroke="#2a2a2a" stroke-width="0.65"/>
<rect x="377.11" y="496.5" width="7.05" height="3.8" fill="#fbbd00" stroke="#2a2a2a" stroke-width="0.65"/>
<text x="380.63" y="514.2" font-size="8.6" text-anchor="middle" fill="#111" stroke="#111" stroke-width="0.12" font-family="Liberation Sans, sans-serif">9</text>
<line x1="375.56" y1="500.3" x2="375.56" y2="502.5" stroke="#444" stroke-width="0.6"/>
<rect x="387.39" y="481.5" width="7.05" height="18.8" fill="#e3e3e3" stroke="#2a2a2a" stroke-width="0.65"/>
<rect x="387.39" y="493.7" width="7.05" height="6.6" fill="#fbbd00" stroke="#2a2a2a" stroke-width="0.65"/>
<text x="390.91" y="514.2" font-size="8.6" text-anchor="middle" fill="#111" stroke="#111" stroke-width="0.12" font-family="Liberation Sans, sans-serif">10</text>
<line x1="385.84" y1="500.3" x2="385.84" y2="502.5" stroke="#444" stroke-width="0.6"/>
<rect x="397.67" y="469.3" width="7.05" height="31" fill="#e3e3e3" stroke="#2a2a2a" stroke-width="0.65"/>
<rect x="397.67" y="486.1" width="7.05" height="14.2" fill="#fbbd00" stroke="#2a2a2a" stroke-width="0.65"/>
<text x="401.19" y="514.2" font-size="8.6" text-anchor="middle" fill="#111" stroke="#111" stroke-width="0.12" font-family="Liberation Sans, sans-serif">11</text>
<line x1="396.12" y1="500.3" x2="396.12" y2="502.5" stroke="#444" stroke-width="0.6"/>
<rect x="407.95" y="455.3" width="7.05" height="45" fill="#e3e3e3" stroke="#2a2a2a" stroke-width="0.65"/>
<rect x="407.95" y="474.7" width="7.05" height="25.6" fill="#fbbd00" stroke="#2a2a2a" stroke-width="0.65"/>
<text x="411.47" y="514.2" font-size="8.6" text-anchor="middle" fill="#111" stroke="#111" stroke-width="0.12" font-family="Liberation Sans, sans-serif">12</text>
<line x1="406.4" y1="500.3" x2="406.4" y2="502.5" stroke="#444" stroke-width="0.6"/>
<rect x="418.23" y="464.5" width="7.05" height="35.8" fill="#e3e3e3" stroke="#2a2a2a" stroke-width="0.65"/>
<rect x="418.23" y="483.5" width="7.05" height="16.8" fill="#fbbd00" stroke="#2a2a2a" stroke-width="0.65"/>
<text x="421.75" y="514.2" font-size="8.6" text-anchor="middle" fill="#111" stroke="#111" stroke-width="0.12" font-family="Liberation Sans, sans-serif">1</text>
<line x1="416.68" y1="500.3" x2="416.68" y2="502.5" stroke="#444" stroke-width="0.6"/>
<rect x="428.51" y="486.1" width="7.05" height="14.2" fill="#e3e3e3" stroke="#2a2a2a" stroke-width="0.65"/>
<rect x="428.51" y="492.3" width="7.05" height="8" fill="#fbbd00" stroke="#2a2a2a" stroke-width="0.65"/>
<text x="432.03" y="514.2" font-size="8.6" text-anchor="middle" fill="#111" stroke="#111" stroke-width="0.12" font-family="Liberation Sans, sans-serif">2</text>
<line x1="426.96" y1="500.3" x2="426.96" y2="502.5" stroke="#444" stroke-width="0.6"/>
<rect x="438.79" y="487.5" width="7.05" height="12.8" fill="#e3e3e3" stroke="#2a2a2a" stroke-width="0.65"/>
<rect x="438.79" y="496.7" width="7.05" height="3.6" fill="#fbbd00" stroke="#2a2a2a" stroke-width="0.65"/>
<text x="442.31" y="514.2" font-size="8.6" text-anchor="middle" fill="#111" stroke="#111" stroke-width="0.12" font-family="Liberation Sans, sans-serif">3</text>
<line x1="437.24" y1="500.3" x2="437.24" y2="502.5" stroke="#444" stroke-width="0.6"/>
<rect x="449.07" y="484.5" width="7.05" height="15.8" fill="#e3e3e3" stroke="#2a2a2a" stroke-width="0.65"/>
<rect x="449.07" y="493.3" width="7.05" height="7" fill="#fbbd00" stroke="#2a2a2a" stroke-width="0.65"/>
<text x="452.59" y="514.2" font-size="8.6" text-anchor="middle" fill="#111" stroke="#111" stroke-width="0.12" font-family="Liberation Sans, sans-serif">4</text>
<line x1="447.52" y1="500.3" x2="447.52" y2="502.5" stroke="#444" stroke-width="0.6"/>
<rect x="459.35" y="487.5" width="7.05" height="12.8" fill="#e3e3e3" stroke="#2a2a2a" stroke-width="0.65"/>
<rect x="459.35" y="496.3" width="7.05" height="4" fill="#fbbd00" stroke="#2a2a2a" stroke-width="0.65"/>
<text x="462.87" y="514.2" font-size="8.6" text-anchor="middle" fill="#111" stroke="#111" stroke-width="0.12" font-family="Liberation Sans, sans-serif">5</text>
<line x1="457.8" y1="500.3" x2="457.8" y2="502.5" stroke="#444" stroke-width="0.6"/>
<rect x="469.63" y="452.3" width="7.05" height="48" fill="#e3e3e3" stroke="#2a2a2a" stroke-width="0.65"/>
<rect x="469.63" y="476.7" width="7.05" height="23.6" fill="#fbbd00" stroke="#2a2a2a" stroke-width="0.65"/>
<text x="473.15" y="514.2" font-size="8.6" text-anchor="middle" fill="#111" stroke="#111" stroke-width="0.12" font-family="Liberation Sans, sans-serif">6</text>
<line x1="468.08" y1="500.3" x2="468.08" y2="502.5" stroke="#444" stroke-width="0.6"/>
<rect x="479.91" y="488.7" width="7.05" height="11.6" fill="#e3e3e3" stroke="#2a2a2a" stroke-width="0.65"/>
<rect x="479.91" y="496.1" width="7.05" height="4.2" fill="#fbbd00" stroke="#2a2a2a" stroke-width="0.65"/>
<text x="483.43" y="514.2" font-size="8.6" text-anchor="middle" fill="#111" stroke="#111" stroke-width="0.12" font-family="Liberation Sans, sans-serif">7</text>
<line x1="478.36" y1="500.3" x2="478.36" y2="502.5" stroke="#444" stroke-width="0.6"/>
<rect x="490.19" y="498.3" width="7.05" height="2" fill="#e3e3e3" stroke="#2a2a2a" stroke-width="0.65"/>
<rect x="490.19" y="499.1" width="7.05" height="1.2" fill="#fbbd00" stroke="#2a2a2a" stroke-width="0.65"/>
<text x="493.71" y="514.2" font-size="8.6" text-anchor="middle" fill="#111" stroke="#111" stroke-width="0.12" font-family="Liberation Sans, sans-serif">8</text>
<line x1="488.64" y1="500.3" x2="488.64" y2="502.5" stroke="#444" stroke-width="0.6"/>
<rect x="500.47" y="499.3" width="7.05" height="1" fill="#e3e3e3" stroke="#2a2a2a" stroke-width="0.65"/>
<rect x="500.47" y="499.9" width="7.05" height="0.4" fill="#fbbd00" stroke="#2a2a2a" stroke-width="0.65"/>
<text x="503.99" y="514.2" font-size="8.6" text-anchor="middle" fill="#111" stroke="#111" stroke-width="0.12" font-family="Liberation Sans, sans-serif">9</text>
<line x1="498.92" y1="500.3" x2="498.92" y2="502.5" stroke="#444" stroke-width="0.6"/>
<rect x="510.75" y="496.1" width="7.05" height="4.2" fill="#e3e3e3" stroke="#2a2a2a" stroke-width="0.65"/>
<rect x="510.75" y="497.1" width="7.05" height="3.2" fill="#fbbd00" stroke="#2a2a2a" stroke-width="0.65"/>
<text x="514.27" y="514.2" font-size="8.6" text-anchor="middle" fill="#111" stroke="#111" stroke-width="0.12" font-family="Liberation Sans, sans-serif">10</text>
<line x1="509.2" y1="500.3" x2="509.2" y2="502.5" stroke="#444" stroke-width="0.6"/>
<rect x="521.03" y="494.3" width="7.05" height="6" fill="#e3e3e3" stroke="#2a2a2a" stroke-width="0.65"/>
<rect x="521.03" y="497.5" width="7.05" height="2.8" fill="#fbbd00" stroke="#2a2a2a" stroke-width="0.65"/>
<text x="524.55" y="514.2" font-size="8.6" text-anchor="middle" fill="#111" stroke="#111" stroke-width="0.12" font-family="Liberation Sans, sans-serif">11</text>
<line x1="519.48" y1="500.3" x2="519.48" y2="502.5" stroke="#444" stroke-width="0.6"/>
<rect x="531.31" y="491.1" width="7.05" height="9.2" fill="#e3e3e3" stroke="#2a2a2a" stroke-width="0.65"/>
<rect x="531.31" y="493.3" width="7.05" height="7" fill="#fbbd00" stroke="#2a2a2a" stroke-width="0.65"/>
<text x="534.83" y="514.2" font-size="8.6" text-anchor="middle" fill="#111" stroke="#111" stroke-width="0.12" font-family="Liberation Sans, sans-serif">12</text>
<line x1="529.76" y1="500.3" x2="529.76" y2="502.5" stroke="#444" stroke-width="0.6"/>
<rect x="541.59" y="497.5" width="7.05" height="2.8" fill="#e3e3e3" stroke="#2a2a2a" stroke-width="0.65"/>
<rect x="541.59" y="498.5" width="7.05" height="1.8" fill="#fbbd00" stroke="#2a2a2a" stroke-width="0.65"/>
<text x="545.11" y="514.2" font-size="8.6" text-anchor="middle" fill="#111" stroke="#111" stroke-width="0.12" font-family="Liberation Sans, sans-serif">1</text>
<line x1="540.04" y1="500.3" x2="540.04" y2="502.5" stroke="#444" stroke-width="0.6"/>
<rect x="551.87" y="497.3" width="7.05" height="3" fill="#e3e3e3" stroke="#2a2a2a" stroke-width="0.65"/>
<rect x="551.87" y="497.7" width="7.05" height="2.6" fill="#fbbd00" stroke="#2a2a2a" stroke-width="0.65"/>
<text x="555.39" y="514.2" font-size="8.6" text-anchor="middle" fill="#111" stroke="#111" stroke-width="0.12" font-family="Liberation Sans, sans-serif">3</text>
<line x1="550.32" y1="500.3" x2="550.32" y2="502.5" stroke="#444" stroke-width="0.6"/>
<rect x="562.15" y="494.5" width="7.05" height="5.8" fill="#e3e3e3" stroke="#2a2a2a" stroke-width="0.65"/>
<rect x="562.15" y="496.1" width="7.05" height="4.2" fill="#fbbd00" stroke="#2a2a2a" stroke-width="0.65"/>
<text x="565.67" y="514.2" font-size="8.6" text-anchor="middle" fill="#111" stroke="#111" stroke-width="0.12" font-family="Liberation Sans, sans-serif">4</text>
<line x1="560.6" y1="500.3" x2="560.6" y2="502.5" stroke="#444" stroke-width="0.6"/>
<rect x="572.43" y="493.7" width="7.05" height="6.6" fill="#e3e3e3" stroke="#2a2a2a" stroke-width="0.65"/>
<rect x="572.43" y="496.1" width="7.05" height="4.2" fill="#fbbd00" stroke="#2a2a2a" stroke-width="0.65"/>
<text x="575.95" y="514.2" font-size="8.6" text-anchor="middle" fill="#111" stroke="#111" stroke-width="0.12" font-family="Liberation Sans, sans-serif">5</text>
<line x1="570.88" y1="500.3" x2="570.88" y2="502.5" stroke="#444" stroke-width="0.6"/>
<rect x="582.71" y="445.5" width="7.05" height="54.8" fill="#e3e3e3" stroke="#2a2a2a" stroke-width="0.65"/>
<rect x="582.71" y="473.1" width="7.05" height="27.2" fill="#fbbd00" stroke="#2a2a2a" stroke-width="0.65"/>
<text x="586.23" y="514.2" font-size="8.6" text-anchor="middle" fill="#111" stroke="#111" stroke-width="0.12" font-family="Liberation Sans, sans-serif">6</text>
<line x1="581.16" y1="500.3" x2="581.16" y2="502.5" stroke="#444" stroke-width="0.6"/>
<rect x="592.99" y="486.1" width="7.05" height="14.2" fill="#e3e3e3" stroke="#2a2a2a" stroke-width="0.65"/>
<rect x="592.99" y="491.5" width="7.05" height="8.8" fill="#fbbd00" stroke="#2a2a2a" stroke-width="0.65"/>
<text x="596.51" y="514.2" font-size="8.6" text-anchor="middle" fill="#111" stroke="#111" stroke-width="0.12" font-family="Liberation Sans, sans-serif">7</text>
<line x1="591.44" y1="500.3" x2="591.44" y2="502.5" stroke="#444" stroke-width="0.6"/>
<rect x="603.27" y="497.5" width="7.05" height="2.8" fill="#e3e3e3" stroke="#2a2a2a" stroke-width="0.65"/>
<rect x="603.27" y="498.1" width="7.05" height="2.2" fill="#fbbd00" stroke="#2a2a2a" stroke-width="0.65"/>
<text x="606.79" y="514.2" font-size="8.6" text-anchor="middle" fill="#111" stroke="#111" stroke-width="0.12" font-family="Liberation Sans, sans-serif">8</text>
<line x1="601.72" y1="500.3" x2="601.72" y2="502.5" stroke="#444" stroke-width="0.6"/>
<line x1="46.6" y1="502.5" x2="46.6" y2="500.3" stroke="#444" stroke-width="0.6"/>
<line x1="612" y1="500.3" x2="612" y2="502.5" stroke="#444" stroke-width="0.6"/>
<line x1="46.6" y1="500.3" x2="612" y2="500.3" stroke="#444" stroke-width="0.7"/>
<line x1="51" y1="516.6" x2="162.2" y2="516.6" stroke="#555" stroke-width="0.7"/>
<line x1="174.2" y1="516.6" x2="285" y2="516.6" stroke="#555" stroke-width="0.7"/>
<line x1="298" y1="516.6" x2="408.5" y2="516.6" stroke="#555" stroke-width="0.7"/>
<line x1="421.4" y1="516.6" x2="531.6" y2="516.6" stroke="#555" stroke-width="0.7"/>
<line x1="544" y1="516.6" x2="607.6" y2="516.6" stroke="#555" stroke-width="0.7"/>
<text x="106.6" y="528.2" font-size="9.3" text-anchor="middle" fill="#111" stroke="#111" stroke-width="0.12" font-family="Liberation Sans, sans-serif">2016</text>
<text x="229.6" y="528.2" font-size="9.3" text-anchor="middle" fill="#111" stroke="#111" stroke-width="0.12" font-family="Liberation Sans, sans-serif">2017</text>
<text x="353.6" y="528.2" font-size="9.3" text-anchor="middle" fill="#111" stroke="#111" stroke-width="0.12" font-family="Liberation Sans, sans-serif">2018</text>
<text x="476.4" y="528.2" font-size="9.3" text-anchor="middle" fill="#111" stroke="#111" stroke-width="0.12" font-family="Liberation Sans, sans-serif">2019</text>
<text x="575.8" y="528.2" font-size="9.3" text-anchor="middle" fill="#111" stroke="#111" stroke-width="0.12" font-family="Liberation Sans, sans-serif">2020</text>
<rect x="56.8" y="302.8" width="8.6" height="8.2" fill="#e3e3e3" stroke="#2a2a2a" stroke-width="0.65"/>
<rect x="56.8" y="318.2" width="8.6" height="8.2" fill="#fbbd00" stroke="#2a2a2a" stroke-width="0.65"/>
<text x="70.4" y="309.6" font-size="8.45" fill="#111" stroke="#111" stroke-width="0.12" font-family="Liberation Sans, sans-serif">Not sequenced</text>
<text x="70.4" y="325.2" font-size="8.45" fill="#111" stroke="#111" stroke-width="0.12" font-family="Liberation Sans, sans-serif">Sequenced</text>
<path d="M70.85,463.6 L73.55,463.6 L73.55,478.2 L76.8,476.4 L72.2,487.6 L67.6,476.4 L70.85,478.2 Z" fill="#ff0000"/>
<path d="M132.45,446.2 L135.15,446.2 L135.15,460.8 L138.4,459 L133.8,470.2 L129.2,459 L132.45,460.8 Z" fill="#ff0000"/>
<path d="M235.25,422.4 L237.95,422.4 L237.95,437 L241.2,435.2 L236.6,446.4 L232,435.2 L235.25,437 Z" fill="#ff0000"/>
<path d="M574.55,466.2 L577.25,466.2 L577.25,480.8 L580.5,479 L575.9,490.2 L571.3,479 L574.55,480.8 Z" fill="#ff0000"/>
<text x="0.3" y="555.1" font-size="14" font-weight="bold" font-family="Liberation Sans, sans-serif">c</text>
<text x="33" y="559.4" font-size="9.8" fill="#111" stroke="#111" stroke-width="0.12" font-family="Liberation Sans, sans-serif">Kayin dataset analysis pipeline</text>
<rect x="32.6" y="568.4" width="233.2" height="32.2" fill="none" stroke="#333" stroke-width="0.9"/>
<text x="56" y="582.4" font-size="9.8" fill="#111" stroke="#111" stroke-width="0.18" font-family="Liberation Sans, sans-serif">1,475 MPs opened between</text>
<text x="56" y="593.4" font-size="9.8" fill="#111" stroke="#111" stroke-width="0.18" font-family="Liberation Sans, sans-serif">2014 and 2021 through METF project</text>
<rect x="67.4" y="615.5" width="163.6" height="32.8" fill="none" stroke="#333" stroke-width="0.9"/>
<text x="80.4" y="629.6" font-size="9.8" fill="#111" stroke="#111" stroke-width="0.18" font-family="Liberation Sans, sans-serif">5,014 DBS samples</text>
<text x="80.4" y="640.6" font-size="9.8" fill="#111" stroke="#111" stroke-width="0.18" font-family="Liberation Sans, sans-serif">from 413 MPs</text>
<rect x="174.5" y="662.6" width="146.1" height="45.5" fill="none" stroke="#333" stroke-width="0.9"/>
<text x="185.5" y="677.8" font-size="9.8" fill="#111" stroke="#111" stroke-width="0.18" font-family="Liberation Sans, sans-serif">2,744 samples excluded,</text>
<text x="185.5" y="689.0" font-size="9.8" fill="#111" stroke="#111" stroke-width="0.18" font-family="Liberation Sans, sans-serif">too little parasite DNA to be</text>
<text x="185.5" y="700.2" font-size="9.8" fill="#111" stroke="#111" stroke-width="0.18" font-family="Liberation Sans, sans-serif">enriched by sWGA</text>
<rect x="32.3" y="722.6" width="234.3" height="33" fill="none" stroke="#333" stroke-width="0.9"/>
<text x="48" y="737.6" font-size="9.8" fill="#111" stroke="#111" stroke-width="0.18" font-family="Liberation Sans, sans-serif">2,270 samples from 283 MPs sequenced, with</text>
<text x="48" y="748.6" font-size="9.8" fill="#111" stroke="#111" stroke-width="0.18" font-family="Liberation Sans, sans-serif">1,302,006 raw SNPs and 703,138 raw indels</text>
<rect x="174.8" y="770.5" width="145.8" height="31.7" fill="none" stroke="#333" stroke-width="0.9"/>
<text x="192" y="783.4" font-size="9.8" fill="#111" stroke="#111" stroke-width="0.18" font-family="Liberation Sans, sans-serif">343 samples excluded,</text>
<text x="192" y="795.0" font-size="9.8" fill="#111" stroke="#111" stroke-width="0.18" font-family="Liberation Sans, sans-serif">&gt;20% genotypes missing</text>
<rect x="174.8" y="817.6" width="145.8" height="33" fill="none" stroke="#333" stroke-width="0.9"/>
<text x="187.4" y="831.0" font-size="9.8" fill="#111" stroke="#111" stroke-width="0.18" font-family="Liberation Sans, sans-serif">Remove low-quality variant</text>
<text x="187.4" y="842.0" font-size="9.8" fill="#111" stroke="#111" stroke-width="0.18" font-family="Liberation Sans, sans-serif">calls, only keep SNPs</text>
<rect x="54.4" y="864.4" width="188.6" height="33" fill="none" stroke="#333" stroke-width="0.9"/>
<text x="75" y="878.6" font-size="9.8" fill="#111" stroke="#111" stroke-width="0.18" font-family="Liberation Sans, sans-serif">1,927 (1,891 from Hpapun) samples</text>
<text x="75" y="889.6" font-size="9.8" fill="#111" stroke="#111" stroke-width="0.18" font-family="Liberation Sans, sans-serif">and 25,461 SNPs in final dataset</text>
<rect x="59.6" y="911.6" width="178.8" height="32.8" fill="none" stroke="#333" stroke-width="0.9"/>
<text x="80.7" y="925.8" font-size="9.8" fill="#111" stroke="#111" stroke-width="0.18" font-family="Liberation Sans, sans-serif">1,781 (1,752 from Hpapun) single-</text>
<text x="80.7" y="937.0" font-size="9.8" fill="#111" stroke="#111" stroke-width="0.18" font-family="Liberation Sans, sans-serif">genotype-infected samples</text>
<line x1="149" y1="600.6" x2="149" y2="612" stroke="#444" stroke-width="0.9"/>
<path d="M146.8,611.3 L151.2,611.3 L149,615.5 Z" fill="#444"/>
<line x1="149" y1="648.3" x2="149" y2="719" stroke="#444" stroke-width="0.9"/>
<path d="M146.8,718.4 L151.2,718.4 L149,722.6 Z" fill="#444"/>
<line x1="149" y1="686.2" x2="171" y2="686.2" stroke="#444" stroke-width="0.9"/>
<path d="M170.3,684 L170.3,688.4 L174.5,686.2 Z" fill="#444"/>
<line x1="149" y1="755.6" x2="149" y2="861" stroke="#444" stroke-width="0.9"/>
<path d="M146.8,860.2 L151.2,860.2 L149,864.4 Z" fill="#444"/>
<line x1="149" y1="786.4" x2="171.3" y2="786.4" stroke="#444" stroke-width="0.9"/>
<path d="M170.6,784.2 L170.6,788.6 L174.8,786.4 Z" fill="#444"/>
<line x1="149" y1="833.4" x2="171.3" y2="833.4" stroke="#444" stroke-width="0.9"/>
<path d="M170.6,831.2 L170.6,835.6 L174.8,833.4 Z" fill="#444"/>
<line x1="149" y1="897.4" x2="149" y2="908" stroke="#444" stroke-width="0.9"/>
<path d="M146.8,907.4 L151.2,907.4 L149,911.6 Z" fill="#444"/>
</svg>
</body></html>
